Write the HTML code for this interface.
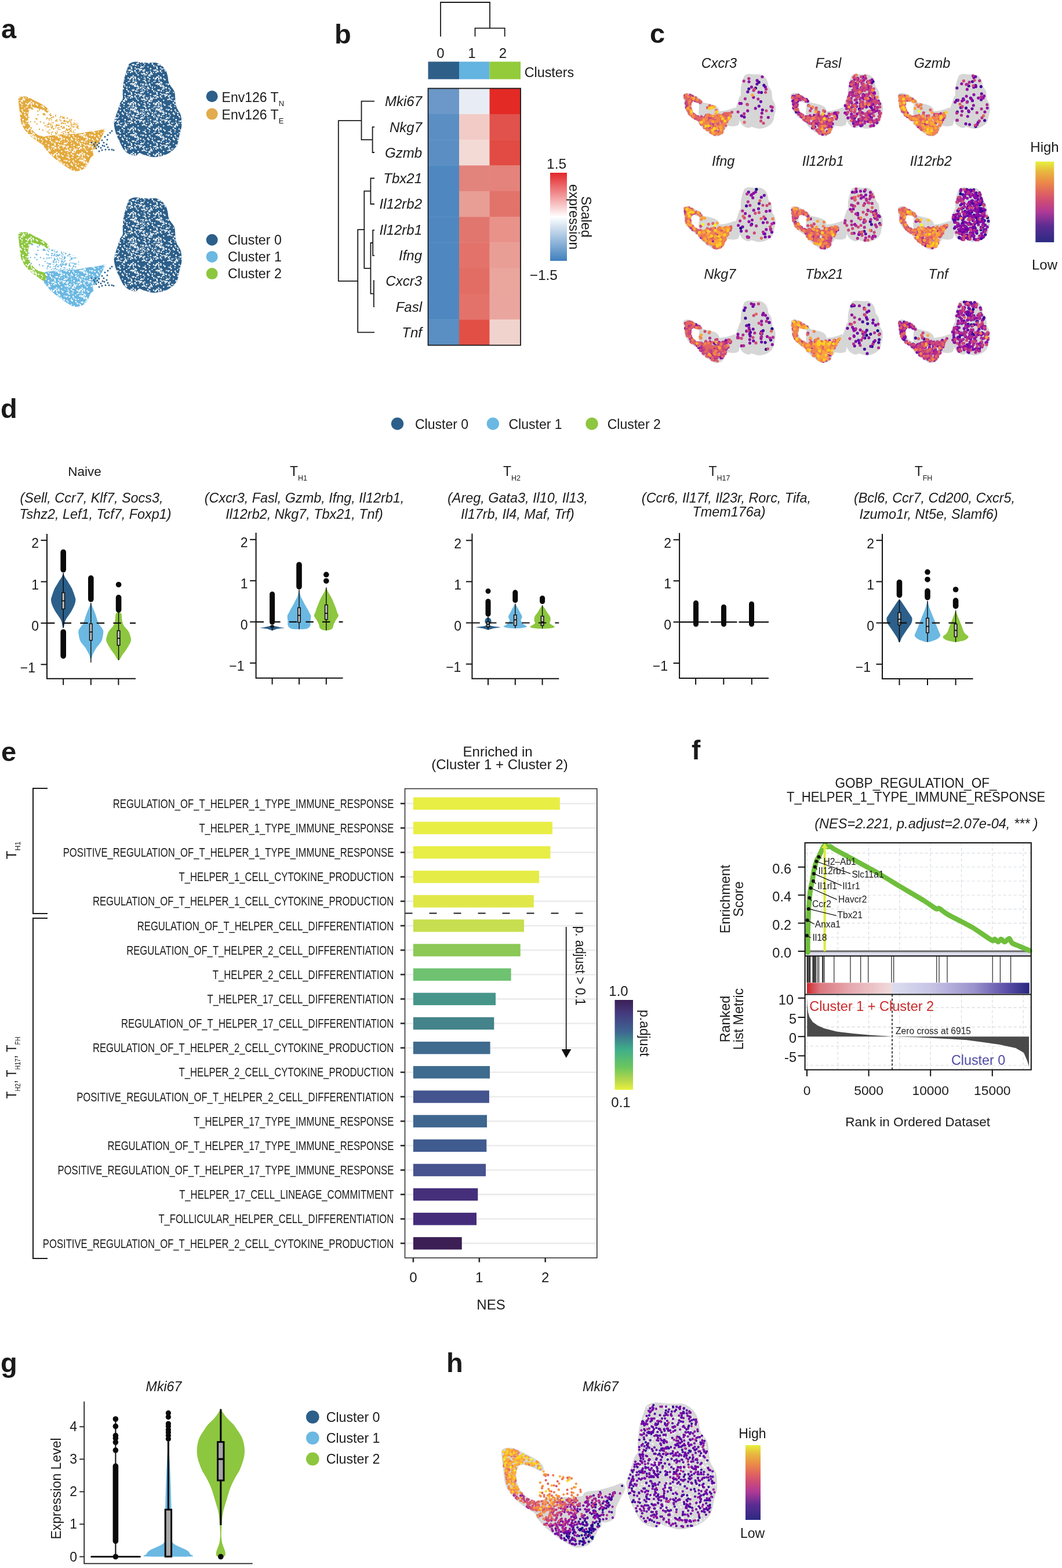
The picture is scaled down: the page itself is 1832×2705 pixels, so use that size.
<!DOCTYPE html>
<html><head><meta charset="utf-8"><title>Figure</title>
<style>html,body{margin:0;padding:0;background:#fff;} svg{display:block;} text{font-family:'Liberation Sans', Arial, sans-serif;}</style>
</head><body>
<svg width="1832" height="2705" viewBox="0 0 1832 2705" fill="#1a1a1a" font-family="'Liberation Sans', Arial, sans-serif">
<rect width="1832" height="2705" fill="#ffffff"/>
<defs><pattern id="spk1" width="44" height="44" patternUnits="userSpaceOnUse"><g fill="#ffffff"><circle cx="10.5" cy="23.9" r="1.04"/><circle cx="26.6" cy="27.5" r="0.84"/><circle cx="0.6" cy="36.8" r="0.97"/><circle cx="10.3" cy="43.8" r="1.11"/><circle cx="36.8" cy="21.0" r="1.22"/><circle cx="6.6" cy="27.9" r="1.36"/><circle cx="23.0" cy="32.6" r="1.24"/><circle cx="2.8" cy="33.4" r="1.18"/><circle cx="13.3" cy="1.4" r="1.36"/><circle cx="20.8" cy="31.6" r="1.37"/><circle cx="31.4" cy="40.5" r="1.06"/><circle cx="35.2" cy="19.6" r="1.41"/><circle cx="38.7" cy="4.3" r="0.89"/><circle cx="9.5" cy="42.5" r="1.08"/><circle cx="27.6" cy="13.2" r="1.13"/><circle cx="17.0" cy="15.4" r="1.18"/><circle cx="25.7" cy="39.8" r="1.24"/><circle cx="40.9" cy="37.7" r="1.44"/><circle cx="29.5" cy="7.2" r="1.36"/><circle cx="42.4" cy="39.8" r="1.17"/><circle cx="31.4" cy="9.3" r="1.34"/><circle cx="25.2" cy="12.5" r="0.84"/><circle cx="37.6" cy="43.6" r="0.86"/><circle cx="35.2" cy="18.1" r="0.90"/><circle cx="12.9" cy="33.8" r="1.37"/><circle cx="1.9" cy="27.0" r="0.83"/><circle cx="31.6" cy="14.6" r="1.37"/><circle cx="43.1" cy="22.2" r="1.45"/><circle cx="13.6" cy="3.4" r="1.19"/><circle cx="1.4" cy="8.7" r="1.07"/><circle cx="26.9" cy="6.9" r="0.83"/><circle cx="38.2" cy="13.8" r="1.42"/><circle cx="39.5" cy="16.6" r="1.10"/><circle cx="22.9" cy="28.3" r="1.19"/><circle cx="24.6" cy="27.3" r="1.41"/><circle cx="22.3" cy="19.0" r="1.27"/><circle cx="10.5" cy="13.2" r="1.44"/><circle cx="22.9" cy="24.1" r="0.81"/><circle cx="18.3" cy="25.5" r="0.81"/><circle cx="27.1" cy="27.8" r="0.84"/><circle cx="27.6" cy="20.5" r="1.24"/><circle cx="15.5" cy="31.1" r="1.28"/><circle cx="1.0" cy="2.7" r="1.24"/><circle cx="42.4" cy="11.0" r="1.10"/><circle cx="26.1" cy="14.1" r="1.04"/><circle cx="13.8" cy="16.2" r="1.19"/><circle cx="13.2" cy="16.6" r="1.30"/><circle cx="1.2" cy="25.0" r="1.28"/><circle cx="13.6" cy="9.8" r="1.32"/><circle cx="10.5" cy="8.2" r="1.08"/><circle cx="30.7" cy="4.5" r="1.01"/><circle cx="14.7" cy="36.7" r="1.08"/><circle cx="37.6" cy="7.4" r="1.02"/><circle cx="28.6" cy="38.9" r="1.09"/><circle cx="9.9" cy="5.3" r="1.14"/><circle cx="8.4" cy="35.5" r="1.35"/><circle cx="8.1" cy="12.3" r="1.32"/><circle cx="28.2" cy="35.5" r="1.02"/><circle cx="5.7" cy="12.8" r="1.32"/><circle cx="11.9" cy="15.2" r="1.07"/><circle cx="18.5" cy="18.0" r="1.40"/><circle cx="6.9" cy="0.2" r="1.41"/><circle cx="38.7" cy="43.4" r="1.08"/><circle cx="41.8" cy="40.8" r="0.94"/><circle cx="32.8" cy="36.8" r="1.23"/><circle cx="22.8" cy="12.7" r="1.02"/><circle cx="10.0" cy="3.0" r="1.18"/><circle cx="12.6" cy="35.6" r="0.83"/><circle cx="39.8" cy="30.5" r="1.40"/><circle cx="39.4" cy="39.6" r="1.18"/><circle cx="0.6" cy="32.8" r="0.91"/><circle cx="13.2" cy="29.2" r="1.14"/><circle cx="18.2" cy="41.3" r="1.20"/><circle cx="15.0" cy="11.1" r="1.36"/><circle cx="21.0" cy="34.4" r="1.03"/><circle cx="8.7" cy="23.5" r="1.33"/><circle cx="7.5" cy="34.8" r="1.40"/><circle cx="35.5" cy="36.2" r="0.80"/><circle cx="27.7" cy="38.0" r="0.83"/><circle cx="11.9" cy="11.8" r="1.14"/><circle cx="18.6" cy="20.8" r="1.30"/><circle cx="0.1" cy="2.4" r="0.88"/><circle cx="5.5" cy="3.0" r="1.43"/><circle cx="37.6" cy="3.8" r="1.13"/><circle cx="13.9" cy="13.8" r="1.03"/><circle cx="28.5" cy="25.8" r="1.03"/><circle cx="8.4" cy="14.5" r="0.88"/><circle cx="24.4" cy="31.5" r="1.05"/><circle cx="3.5" cy="7.9" r="1.04"/><circle cx="26.6" cy="34.4" r="1.05"/><circle cx="35.3" cy="27.4" r="1.08"/><circle cx="16.4" cy="21.8" r="1.26"/><circle cx="18.5" cy="30.5" r="1.10"/><circle cx="10.8" cy="23.6" r="1.25"/><circle cx="3.1" cy="18.7" r="1.08"/><circle cx="38.7" cy="41.2" r="1.04"/><circle cx="39.5" cy="34.8" r="0.97"/><circle cx="20.4" cy="5.4" r="1.33"/><circle cx="29.1" cy="39.0" r="1.32"/><circle cx="29.4" cy="32.3" r="1.17"/><circle cx="4.5" cy="25.9" r="0.80"/><circle cx="6.3" cy="34.1" r="0.83"/><circle cx="4.0" cy="4.4" r="1.37"/><circle cx="7.9" cy="1.0" r="1.35"/><circle cx="5.3" cy="37.1" r="1.24"/><circle cx="36.8" cy="41.9" r="1.18"/><circle cx="35.1" cy="1.6" r="1.30"/><circle cx="22.5" cy="31.5" r="0.87"/><circle cx="33.0" cy="41.1" r="0.84"/><circle cx="14.3" cy="24.8" r="1.34"/><circle cx="10.7" cy="7.9" r="0.96"/><circle cx="27.1" cy="33.2" r="1.06"/><circle cx="16.2" cy="17.5" r="1.03"/><circle cx="18.4" cy="3.7" r="1.13"/><circle cx="42.8" cy="18.2" r="1.29"/><circle cx="7.1" cy="30.4" r="1.29"/><circle cx="29.6" cy="22.8" r="1.11"/><circle cx="28.3" cy="39.5" r="0.90"/><circle cx="4.2" cy="32.9" r="1.40"/><circle cx="22.8" cy="19.5" r="1.27"/></g></pattern><pattern id="spk2" width="44" height="44" patternUnits="userSpaceOnUse"><g fill="#ffffff"><circle cx="14.2" cy="6.6" r="1.09"/><circle cx="3.2" cy="23.6" r="0.92"/><circle cx="2.6" cy="22.3" r="0.72"/><circle cx="19.1" cy="3.1" r="0.75"/><circle cx="18.7" cy="36.4" r="0.77"/><circle cx="9.8" cy="27.6" r="1.27"/><circle cx="25.4" cy="17.5" r="1.29"/><circle cx="2.0" cy="37.8" r="0.87"/><circle cx="6.3" cy="5.2" r="0.89"/><circle cx="35.9" cy="8.0" r="1.05"/><circle cx="28.1" cy="16.4" r="1.03"/><circle cx="2.8" cy="2.6" r="0.82"/><circle cx="29.9" cy="18.8" r="0.89"/><circle cx="25.8" cy="19.9" r="0.88"/><circle cx="35.0" cy="30.8" r="0.85"/><circle cx="25.3" cy="23.1" r="1.23"/><circle cx="32.1" cy="12.7" r="1.29"/><circle cx="5.2" cy="18.4" r="1.15"/><circle cx="6.7" cy="21.5" r="0.72"/><circle cx="29.4" cy="33.6" r="1.04"/><circle cx="38.5" cy="13.8" r="1.12"/><circle cx="26.2" cy="25.5" r="0.97"/><circle cx="37.0" cy="41.6" r="0.98"/><circle cx="29.2" cy="2.7" r="1.12"/><circle cx="28.5" cy="43.7" r="1.19"/><circle cx="12.5" cy="17.0" r="1.10"/><circle cx="1.0" cy="20.3" r="0.80"/><circle cx="5.2" cy="2.6" r="1.16"/><circle cx="5.7" cy="10.9" r="0.93"/><circle cx="38.3" cy="3.5" r="0.97"/><circle cx="24.2" cy="38.9" r="1.19"/><circle cx="38.0" cy="12.3" r="0.95"/><circle cx="15.8" cy="38.9" r="1.27"/><circle cx="6.6" cy="7.8" r="0.84"/><circle cx="10.3" cy="21.3" r="1.05"/><circle cx="11.6" cy="0.2" r="0.95"/><circle cx="16.2" cy="24.9" r="1.27"/><circle cx="30.4" cy="22.7" r="1.07"/><circle cx="29.8" cy="2.4" r="1.24"/><circle cx="34.3" cy="38.5" r="1.18"/><circle cx="17.3" cy="17.6" r="0.76"/><circle cx="27.9" cy="2.7" r="0.74"/><circle cx="9.2" cy="7.1" r="0.90"/><circle cx="2.3" cy="0.0" r="0.79"/><circle cx="4.5" cy="16.0" r="0.72"/><circle cx="38.5" cy="27.0" r="0.79"/><circle cx="11.1" cy="15.3" r="0.92"/><circle cx="5.4" cy="37.4" r="1.30"/><circle cx="20.5" cy="21.3" r="0.75"/><circle cx="4.5" cy="15.1" r="0.86"/><circle cx="36.5" cy="7.1" r="0.71"/><circle cx="41.8" cy="23.2" r="0.79"/><circle cx="23.9" cy="1.2" r="1.02"/><circle cx="43.1" cy="38.0" r="1.12"/><circle cx="11.5" cy="16.1" r="0.80"/><circle cx="34.0" cy="23.4" r="1.17"/><circle cx="14.5" cy="9.8" r="1.19"/><circle cx="43.3" cy="37.5" r="1.18"/><circle cx="36.0" cy="32.6" r="0.84"/><circle cx="22.8" cy="15.6" r="0.72"/><circle cx="1.2" cy="12.3" r="0.86"/><circle cx="30.5" cy="42.1" r="0.97"/><circle cx="41.2" cy="43.5" r="1.27"/><circle cx="16.0" cy="9.7" r="0.84"/><circle cx="8.7" cy="9.0" r="1.07"/><circle cx="39.6" cy="37.0" r="0.99"/><circle cx="28.7" cy="35.2" r="0.75"/><circle cx="29.1" cy="40.0" r="1.17"/><circle cx="33.0" cy="21.0" r="0.81"/><circle cx="34.7" cy="14.6" r="1.18"/></g></pattern><pattern id="spo" width="44" height="44" patternUnits="userSpaceOnUse"><g fill="#e3a93c"><circle cx="19.9" cy="24.6" r="1.27"/><circle cx="20.5" cy="22.3" r="1.13"/><circle cx="8.1" cy="22.5" r="1.15"/><circle cx="34.9" cy="4.1" r="1.02"/><circle cx="4.0" cy="35.6" r="1.18"/><circle cx="1.8" cy="43.2" r="1.29"/><circle cx="28.8" cy="27.1" r="0.96"/><circle cx="0.7" cy="23.2" r="0.92"/><circle cx="8.4" cy="10.6" r="0.91"/><circle cx="20.4" cy="19.4" r="1.24"/><circle cx="22.8" cy="28.2" r="1.10"/><circle cx="29.1" cy="20.1" r="1.01"/><circle cx="43.9" cy="43.8" r="1.24"/><circle cx="31.1" cy="13.9" r="0.99"/><circle cx="12.7" cy="3.1" r="1.21"/><circle cx="17.6" cy="37.2" r="1.05"/><circle cx="42.2" cy="37.3" r="0.90"/><circle cx="9.2" cy="40.1" r="1.09"/><circle cx="43.1" cy="17.5" r="0.93"/><circle cx="27.7" cy="34.3" r="1.01"/><circle cx="3.8" cy="14.6" r="1.29"/><circle cx="33.4" cy="5.2" r="1.00"/><circle cx="4.4" cy="2.6" r="1.22"/><circle cx="7.8" cy="24.6" r="1.08"/><circle cx="8.4" cy="32.2" r="0.95"/><circle cx="28.3" cy="5.1" r="1.07"/><circle cx="9.4" cy="11.9" r="1.29"/><circle cx="35.4" cy="13.4" r="1.25"/><circle cx="9.3" cy="17.3" r="1.24"/><circle cx="28.2" cy="4.4" r="1.30"/><circle cx="9.4" cy="11.4" r="1.21"/><circle cx="14.5" cy="13.0" r="0.93"/><circle cx="4.0" cy="25.6" r="1.00"/><circle cx="26.5" cy="16.4" r="1.08"/><circle cx="42.2" cy="21.3" r="1.13"/><circle cx="38.1" cy="8.0" r="0.96"/><circle cx="40.0" cy="36.0" r="1.00"/><circle cx="8.4" cy="32.5" r="1.28"/><circle cx="8.6" cy="41.8" r="1.25"/><circle cx="26.6" cy="18.5" r="0.94"/><circle cx="1.7" cy="42.4" r="1.00"/><circle cx="31.0" cy="11.3" r="1.23"/><circle cx="26.2" cy="12.9" r="0.97"/><circle cx="31.7" cy="3.0" r="0.99"/><circle cx="24.6" cy="37.5" r="1.15"/><circle cx="12.3" cy="40.4" r="0.98"/><circle cx="0.7" cy="11.8" r="1.08"/><circle cx="2.7" cy="7.8" r="1.05"/><circle cx="25.2" cy="5.8" r="1.04"/><circle cx="39.2" cy="43.1" r="1.16"/><circle cx="30.4" cy="25.7" r="0.96"/><circle cx="1.5" cy="0.8" r="1.26"/><circle cx="30.8" cy="42.4" r="0.91"/><circle cx="28.0" cy="21.2" r="1.19"/><circle cx="14.0" cy="44.0" r="0.93"/><circle cx="24.0" cy="32.4" r="1.26"/><circle cx="32.4" cy="31.0" r="1.22"/><circle cx="40.3" cy="15.5" r="1.17"/><circle cx="39.6" cy="38.3" r="1.07"/><circle cx="34.8" cy="38.0" r="1.13"/><circle cx="27.5" cy="16.8" r="1.13"/><circle cx="26.8" cy="3.5" r="1.16"/><circle cx="43.7" cy="38.7" r="1.19"/><circle cx="17.1" cy="32.3" r="1.13"/><circle cx="19.4" cy="36.9" r="0.93"/><circle cx="33.0" cy="1.3" r="1.14"/><circle cx="21.2" cy="10.1" r="1.18"/><circle cx="21.9" cy="27.0" r="1.27"/><circle cx="11.3" cy="0.5" r="1.02"/><circle cx="29.8" cy="8.9" r="0.97"/><circle cx="39.9" cy="29.0" r="1.08"/><circle cx="39.2" cy="14.4" r="1.17"/><circle cx="8.7" cy="19.0" r="1.22"/><circle cx="40.2" cy="38.7" r="1.05"/><circle cx="25.7" cy="13.9" r="0.95"/><circle cx="21.8" cy="36.8" r="1.24"/><circle cx="31.3" cy="41.8" r="1.01"/><circle cx="7.4" cy="19.8" r="1.01"/><circle cx="9.4" cy="18.2" r="1.15"/><circle cx="21.7" cy="13.9" r="1.24"/><circle cx="43.2" cy="19.9" r="0.93"/><circle cx="1.4" cy="38.4" r="0.92"/><circle cx="31.2" cy="25.1" r="1.02"/><circle cx="34.8" cy="0.8" r="0.95"/><circle cx="20.0" cy="1.1" r="1.23"/><circle cx="10.4" cy="6.2" r="0.92"/><circle cx="27.7" cy="19.6" r="1.15"/><circle cx="28.8" cy="35.5" r="1.28"/><circle cx="30.1" cy="8.8" r="1.09"/><circle cx="7.9" cy="0.5" r="1.09"/><circle cx="31.4" cy="7.9" r="1.01"/><circle cx="15.2" cy="30.7" r="1.11"/><circle cx="27.0" cy="33.3" r="1.06"/><circle cx="34.8" cy="39.9" r="0.93"/><circle cx="41.0" cy="31.8" r="0.95"/><circle cx="20.0" cy="27.5" r="1.26"/><circle cx="16.6" cy="25.0" r="1.25"/><circle cx="35.1" cy="41.5" r="1.09"/><circle cx="28.7" cy="9.0" r="1.19"/><circle cx="36.0" cy="28.2" r="1.19"/><circle cx="9.4" cy="39.6" r="1.29"/><circle cx="43.0" cy="23.6" r="1.22"/><circle cx="14.1" cy="40.0" r="1.24"/><circle cx="15.3" cy="3.6" r="1.08"/><circle cx="24.2" cy="33.8" r="1.09"/><circle cx="1.3" cy="35.6" r="0.93"/><circle cx="35.2" cy="7.6" r="1.03"/><circle cx="34.7" cy="6.2" r="0.96"/><circle cx="22.7" cy="31.8" r="1.24"/><circle cx="30.3" cy="41.6" r="1.10"/><circle cx="41.8" cy="3.8" r="0.99"/><circle cx="23.2" cy="12.8" r="1.19"/><circle cx="28.1" cy="23.0" r="1.24"/><circle cx="24.6" cy="13.7" r="1.05"/><circle cx="37.2" cy="39.6" r="0.98"/><circle cx="37.4" cy="42.6" r="1.11"/><circle cx="25.2" cy="8.8" r="1.11"/><circle cx="22.1" cy="26.6" r="0.91"/><circle cx="42.7" cy="22.7" r="1.06"/><circle cx="35.2" cy="24.8" r="1.10"/><circle cx="30.4" cy="2.9" r="1.12"/><circle cx="18.2" cy="42.1" r="1.27"/><circle cx="11.8" cy="20.8" r="0.95"/><circle cx="19.1" cy="35.9" r="1.26"/><circle cx="21.0" cy="14.0" r="0.98"/><circle cx="27.2" cy="40.7" r="0.95"/><circle cx="34.3" cy="1.0" r="0.98"/><circle cx="10.0" cy="30.2" r="1.03"/><circle cx="15.6" cy="27.3" r="0.94"/><circle cx="32.2" cy="5.4" r="1.10"/><circle cx="11.0" cy="8.7" r="1.11"/><circle cx="19.2" cy="16.5" r="1.07"/><circle cx="23.3" cy="7.0" r="0.98"/><circle cx="27.8" cy="28.1" r="1.11"/><circle cx="37.5" cy="26.9" r="1.24"/><circle cx="10.2" cy="32.6" r="1.22"/><circle cx="39.7" cy="13.9" r="1.03"/><circle cx="40.6" cy="9.6" r="1.30"/><circle cx="39.1" cy="5.9" r="1.00"/><circle cx="32.0" cy="11.4" r="0.94"/><circle cx="36.6" cy="18.6" r="1.22"/><circle cx="5.5" cy="17.7" r="1.17"/><circle cx="0.8" cy="8.8" r="1.17"/><circle cx="40.1" cy="42.6" r="0.95"/><circle cx="22.2" cy="33.4" r="1.10"/><circle cx="30.2" cy="8.3" r="0.93"/><circle cx="4.7" cy="1.6" r="1.12"/><circle cx="22.7" cy="25.0" r="0.96"/><circle cx="8.1" cy="9.0" r="1.24"/><circle cx="43.6" cy="40.8" r="0.94"/><circle cx="2.7" cy="41.9" r="1.08"/><circle cx="33.6" cy="14.4" r="1.09"/><circle cx="22.7" cy="18.9" r="1.14"/><circle cx="0.6" cy="30.8" r="1.24"/><circle cx="8.0" cy="20.0" r="1.20"/><circle cx="17.8" cy="8.6" r="0.97"/><circle cx="22.6" cy="0.7" r="1.26"/><circle cx="35.3" cy="31.0" r="1.24"/><circle cx="27.7" cy="17.8" r="1.14"/><circle cx="22.2" cy="43.2" r="1.22"/><circle cx="11.4" cy="40.1" r="1.20"/><circle cx="34.2" cy="35.8" r="1.06"/><circle cx="39.4" cy="38.7" r="1.18"/><circle cx="33.8" cy="33.7" r="1.06"/><circle cx="31.8" cy="3.1" r="1.04"/><circle cx="20.6" cy="0.5" r="1.04"/><circle cx="28.1" cy="27.5" r="0.99"/><circle cx="41.6" cy="29.3" r="1.04"/><circle cx="29.0" cy="25.1" r="1.11"/><circle cx="17.1" cy="44.0" r="1.16"/><circle cx="30.9" cy="33.5" r="1.29"/><circle cx="1.0" cy="27.1" r="1.20"/><circle cx="11.3" cy="17.7" r="0.92"/><circle cx="8.6" cy="16.5" r="0.94"/><circle cx="11.0" cy="39.8" r="1.12"/><circle cx="22.3" cy="42.6" r="1.13"/><circle cx="43.8" cy="28.1" r="1.22"/><circle cx="3.4" cy="26.3" r="1.20"/><circle cx="2.0" cy="40.9" r="0.96"/><circle cx="20.8" cy="7.4" r="1.10"/><circle cx="26.9" cy="2.6" r="1.28"/><circle cx="18.5" cy="23.2" r="1.14"/><circle cx="16.1" cy="12.6" r="1.16"/><circle cx="24.7" cy="12.5" r="1.19"/><circle cx="13.0" cy="0.6" r="1.00"/></g></pattern><pattern id="spb" width="44" height="44" patternUnits="userSpaceOnUse"><g fill="#6bb8e2"><circle cx="11.4" cy="30.2" r="1.17"/><circle cx="37.4" cy="8.2" r="0.99"/><circle cx="6.5" cy="9.9" r="1.19"/><circle cx="5.7" cy="23.4" r="0.99"/><circle cx="13.0" cy="19.0" r="1.24"/><circle cx="26.8" cy="0.6" r="1.01"/><circle cx="6.5" cy="38.3" r="1.22"/><circle cx="35.5" cy="36.4" r="1.20"/><circle cx="41.8" cy="34.9" r="1.00"/><circle cx="37.4" cy="21.4" r="1.20"/><circle cx="24.8" cy="18.9" r="1.05"/><circle cx="18.9" cy="13.8" r="0.95"/><circle cx="36.1" cy="35.1" r="1.29"/><circle cx="30.4" cy="24.4" r="1.20"/><circle cx="5.9" cy="29.8" r="1.08"/><circle cx="7.8" cy="8.9" r="1.11"/><circle cx="11.1" cy="20.2" r="1.14"/><circle cx="17.4" cy="5.8" r="1.10"/><circle cx="10.4" cy="10.4" r="0.98"/><circle cx="16.1" cy="3.2" r="1.16"/><circle cx="42.0" cy="17.1" r="1.19"/><circle cx="41.1" cy="1.9" r="0.96"/><circle cx="35.5" cy="36.9" r="1.16"/><circle cx="7.0" cy="18.2" r="1.25"/><circle cx="39.0" cy="35.3" r="0.98"/><circle cx="37.6" cy="16.5" r="1.19"/><circle cx="6.0" cy="42.7" r="1.14"/><circle cx="31.8" cy="9.3" r="1.15"/><circle cx="25.6" cy="26.0" r="1.04"/><circle cx="32.0" cy="15.0" r="1.02"/><circle cx="7.2" cy="30.1" r="0.94"/><circle cx="9.9" cy="3.0" r="1.16"/><circle cx="24.5" cy="23.9" r="0.92"/><circle cx="19.3" cy="15.1" r="0.94"/><circle cx="0.1" cy="43.9" r="0.95"/><circle cx="13.3" cy="11.8" r="1.14"/><circle cx="3.4" cy="20.7" r="1.05"/><circle cx="36.7" cy="0.3" r="1.03"/><circle cx="21.8" cy="42.7" r="1.11"/><circle cx="20.9" cy="29.5" r="1.02"/><circle cx="1.4" cy="22.1" r="1.26"/><circle cx="32.5" cy="11.4" r="1.17"/><circle cx="37.4" cy="11.4" r="1.14"/><circle cx="15.6" cy="10.7" r="1.01"/><circle cx="9.0" cy="15.4" r="0.92"/><circle cx="17.5" cy="3.8" r="1.20"/><circle cx="26.4" cy="0.2" r="1.21"/><circle cx="8.4" cy="21.2" r="1.12"/><circle cx="14.6" cy="12.7" r="1.07"/><circle cx="6.0" cy="38.0" r="0.94"/><circle cx="36.2" cy="9.6" r="1.02"/><circle cx="17.1" cy="1.5" r="0.95"/><circle cx="15.9" cy="19.4" r="1.25"/><circle cx="43.6" cy="1.9" r="1.11"/><circle cx="5.7" cy="35.4" r="1.03"/><circle cx="39.3" cy="24.0" r="0.95"/><circle cx="0.2" cy="10.9" r="1.25"/><circle cx="6.6" cy="21.1" r="1.05"/><circle cx="15.2" cy="35.3" r="0.99"/><circle cx="31.6" cy="29.3" r="1.27"/><circle cx="22.9" cy="40.5" r="1.08"/><circle cx="25.2" cy="27.3" r="1.24"/><circle cx="39.5" cy="5.1" r="0.95"/><circle cx="23.5" cy="35.7" r="1.11"/><circle cx="13.2" cy="42.3" r="1.02"/><circle cx="3.8" cy="2.3" r="0.91"/><circle cx="32.0" cy="4.7" r="1.19"/><circle cx="38.1" cy="44.0" r="1.22"/><circle cx="18.7" cy="27.4" r="1.23"/><circle cx="31.5" cy="12.8" r="1.20"/><circle cx="4.8" cy="13.6" r="1.30"/><circle cx="20.7" cy="11.8" r="1.21"/><circle cx="19.8" cy="0.2" r="0.91"/><circle cx="11.4" cy="14.6" r="1.27"/><circle cx="10.9" cy="37.4" r="1.24"/><circle cx="18.3" cy="43.7" r="1.20"/><circle cx="21.3" cy="11.5" r="1.08"/><circle cx="39.7" cy="23.6" r="0.98"/><circle cx="16.5" cy="20.9" r="0.98"/><circle cx="25.2" cy="1.5" r="1.23"/><circle cx="7.9" cy="4.5" r="1.14"/><circle cx="13.5" cy="38.9" r="1.10"/><circle cx="22.9" cy="36.7" r="0.99"/><circle cx="32.8" cy="28.6" r="1.07"/><circle cx="42.2" cy="1.0" r="1.24"/><circle cx="6.3" cy="36.9" r="0.96"/><circle cx="2.4" cy="22.0" r="1.27"/><circle cx="11.3" cy="21.4" r="1.14"/><circle cx="10.7" cy="23.3" r="0.90"/><circle cx="19.8" cy="33.4" r="1.04"/><circle cx="9.7" cy="2.2" r="1.18"/><circle cx="18.8" cy="40.2" r="1.20"/><circle cx="4.4" cy="40.2" r="1.27"/><circle cx="35.9" cy="36.6" r="1.17"/><circle cx="31.7" cy="29.4" r="1.14"/><circle cx="11.3" cy="5.9" r="1.19"/><circle cx="26.2" cy="2.5" r="1.16"/><circle cx="26.8" cy="22.5" r="1.21"/><circle cx="38.6" cy="16.8" r="1.23"/><circle cx="22.0" cy="25.2" r="1.07"/><circle cx="41.1" cy="19.6" r="1.28"/><circle cx="14.9" cy="29.6" r="1.27"/><circle cx="30.1" cy="16.5" r="0.93"/><circle cx="21.0" cy="18.2" r="1.23"/><circle cx="34.5" cy="43.4" r="1.08"/><circle cx="18.1" cy="24.8" r="1.20"/><circle cx="3.5" cy="9.5" r="0.96"/><circle cx="14.3" cy="13.2" r="1.29"/><circle cx="9.1" cy="41.1" r="1.02"/><circle cx="9.0" cy="42.9" r="0.94"/><circle cx="5.0" cy="5.7" r="0.93"/><circle cx="17.0" cy="9.3" r="0.96"/><circle cx="0.7" cy="30.7" r="0.92"/><circle cx="10.2" cy="24.9" r="1.25"/><circle cx="29.0" cy="31.2" r="1.18"/><circle cx="35.1" cy="37.5" r="0.96"/><circle cx="2.4" cy="27.3" r="1.11"/><circle cx="22.9" cy="34.4" r="0.97"/><circle cx="31.1" cy="18.8" r="1.07"/><circle cx="10.8" cy="12.4" r="1.13"/><circle cx="24.4" cy="39.9" r="1.01"/><circle cx="31.5" cy="4.3" r="1.16"/><circle cx="7.1" cy="37.7" r="1.29"/><circle cx="11.2" cy="35.6" r="0.99"/><circle cx="13.4" cy="4.5" r="1.08"/><circle cx="4.6" cy="31.0" r="1.13"/><circle cx="18.5" cy="31.2" r="0.99"/><circle cx="14.6" cy="16.0" r="0.90"/><circle cx="39.0" cy="3.9" r="0.94"/><circle cx="35.1" cy="36.0" r="1.08"/><circle cx="18.5" cy="6.1" r="0.90"/><circle cx="22.9" cy="10.7" r="0.96"/><circle cx="39.8" cy="0.8" r="1.04"/><circle cx="33.1" cy="32.9" r="0.94"/><circle cx="32.7" cy="24.8" r="1.15"/><circle cx="41.5" cy="35.1" r="1.14"/><circle cx="33.9" cy="21.6" r="1.12"/><circle cx="36.0" cy="27.3" r="1.05"/><circle cx="0.9" cy="34.7" r="1.04"/><circle cx="18.9" cy="12.7" r="1.12"/><circle cx="17.6" cy="36.7" r="1.14"/><circle cx="24.6" cy="34.5" r="1.08"/><circle cx="23.6" cy="33.0" r="1.19"/><circle cx="32.7" cy="39.2" r="1.12"/><circle cx="24.4" cy="8.3" r="1.00"/><circle cx="19.1" cy="21.9" r="1.26"/><circle cx="1.9" cy="15.4" r="1.20"/><circle cx="20.2" cy="37.3" r="0.96"/><circle cx="33.9" cy="19.0" r="1.13"/><circle cx="2.5" cy="17.7" r="1.22"/><circle cx="32.3" cy="24.8" r="1.07"/><circle cx="1.7" cy="30.8" r="1.08"/><circle cx="31.9" cy="26.9" r="1.06"/><circle cx="38.5" cy="5.8" r="1.28"/><circle cx="3.8" cy="42.6" r="1.13"/><circle cx="19.7" cy="41.2" r="1.10"/><circle cx="22.4" cy="2.6" r="1.22"/><circle cx="28.1" cy="10.5" r="0.95"/><circle cx="18.5" cy="41.1" r="1.25"/><circle cx="20.5" cy="1.6" r="1.23"/><circle cx="8.9" cy="32.2" r="1.10"/><circle cx="42.4" cy="6.5" r="1.22"/><circle cx="31.7" cy="0.8" r="1.13"/><circle cx="13.0" cy="30.6" r="1.28"/><circle cx="29.3" cy="21.7" r="1.14"/><circle cx="10.9" cy="20.6" r="0.95"/><circle cx="31.7" cy="2.9" r="1.11"/><circle cx="7.9" cy="24.8" r="0.92"/><circle cx="1.2" cy="27.5" r="1.19"/><circle cx="39.1" cy="29.8" r="1.30"/><circle cx="6.3" cy="27.7" r="1.15"/><circle cx="7.7" cy="6.2" r="1.00"/><circle cx="23.0" cy="34.6" r="1.18"/><circle cx="25.2" cy="3.4" r="1.19"/><circle cx="22.5" cy="7.5" r="1.15"/><circle cx="10.8" cy="13.6" r="1.08"/><circle cx="33.1" cy="4.7" r="1.08"/><circle cx="10.3" cy="29.5" r="1.23"/><circle cx="11.6" cy="31.7" r="1.09"/><circle cx="9.6" cy="12.1" r="1.12"/><circle cx="35.5" cy="26.5" r="0.90"/><circle cx="34.4" cy="25.5" r="1.07"/><circle cx="10.6" cy="19.4" r="1.18"/><circle cx="11.9" cy="6.1" r="1.25"/><circle cx="19.5" cy="3.1" r="1.26"/></g></pattern></defs>
<text x="2.0" y="65.5" font-size="47" font-weight="bold">a</text>
<g transform="translate(0,0)">
<path d="M223.2,110.1 C225.3,108.6 229.0,107.0 233.0,106.6 C237.0,106.2 242.7,107.6 247.3,107.9 C251.9,108.2 256.9,108.2 260.6,108.3 C264.3,108.4 266.5,107.5 269.5,108.3 C272.5,109.0 275.7,110.7 278.4,112.8 C281.1,114.9 283.7,117.8 285.5,120.8 C287.3,123.8 288.1,126.8 289.1,130.6 C290.1,134.4 289.8,139.4 291.7,143.9 C293.6,148.4 298.8,152.9 300.6,157.3 C302.4,161.8 301.8,166.2 302.4,170.6 C303.0,175.0 302.7,179.6 304.2,184.0 C305.7,188.4 309.8,193.6 311.3,197.3 C312.8,201.0 312.8,202.5 313.1,206.2 C313.4,209.9 313.7,215.1 313.1,219.5 C312.5,223.9 310.5,228.5 309.5,232.9 C308.5,237.3 308.1,242.5 306.9,246.2 C305.7,249.9 304.9,252.1 302.4,255.1 C299.9,258.1 295.7,261.6 291.7,264.0 C287.7,266.4 282.8,268.1 278.4,269.3 C273.9,270.5 268.7,271.1 265.0,271.1 C261.3,271.1 259.1,270.0 256.2,269.3 C253.2,268.6 250.0,267.6 247.3,266.7 C244.6,265.8 242.2,263.7 240.1,264.0 C238.0,264.3 237.3,267.9 234.8,268.4 C232.3,268.8 228.4,268.2 225.0,266.7 C221.6,265.2 217.4,262.9 214.4,259.5 C211.4,256.1 209.1,249.9 207.2,246.2 C205.3,242.5 204.3,241.0 202.8,237.3 C201.3,233.6 199.3,228.4 198.3,224.0 C197.3,219.6 196.4,214.3 196.6,210.6 C196.8,206.9 198.0,205.4 199.2,201.7 C200.4,198.0 202.4,192.4 203.7,188.4 C205.0,184.4 205.9,180.7 207.2,177.7 C208.5,174.7 210.9,174.0 211.7,170.6 C212.4,167.2 211.4,162.5 211.7,157.3 C212.0,152.1 212.6,144.7 213.5,139.5 C214.4,134.3 215.8,130.1 217.0,126.1 C218.2,122.1 219.6,118.2 220.6,115.5 C221.6,112.8 221.1,111.6 223.2,110.1Z" fill="#2c5f8a"/>
<path d="M223.2,110.1 C225.3,108.6 229.0,107.0 233.0,106.6 C237.0,106.2 242.7,107.6 247.3,107.9 C251.9,108.2 256.9,108.2 260.6,108.3 C264.3,108.4 266.5,107.5 269.5,108.3 C272.5,109.0 275.7,110.7 278.4,112.8 C281.1,114.9 283.7,117.8 285.5,120.8 C287.3,123.8 288.1,126.8 289.1,130.6 C290.1,134.4 289.8,139.4 291.7,143.9 C293.6,148.4 298.8,152.9 300.6,157.3 C302.4,161.8 301.8,166.2 302.4,170.6 C303.0,175.0 302.7,179.6 304.2,184.0 C305.7,188.4 309.8,193.6 311.3,197.3 C312.8,201.0 312.8,202.5 313.1,206.2 C313.4,209.9 313.7,215.1 313.1,219.5 C312.5,223.9 310.5,228.5 309.5,232.9 C308.5,237.3 308.1,242.5 306.9,246.2 C305.7,249.9 304.9,252.1 302.4,255.1 C299.9,258.1 295.7,261.6 291.7,264.0 C287.7,266.4 282.8,268.1 278.4,269.3 C273.9,270.5 268.7,271.1 265.0,271.1 C261.3,271.1 259.1,270.0 256.2,269.3 C253.2,268.6 250.0,267.6 247.3,266.7 C244.6,265.8 242.2,263.7 240.1,264.0 C238.0,264.3 237.3,267.9 234.8,268.4 C232.3,268.8 228.4,268.2 225.0,266.7 C221.6,265.2 217.4,262.9 214.4,259.5 C211.4,256.1 209.1,249.9 207.2,246.2 C205.3,242.5 204.3,241.0 202.8,237.3 C201.3,233.6 199.3,228.4 198.3,224.0 C197.3,219.6 196.4,214.3 196.6,210.6 C196.8,206.9 198.0,205.4 199.2,201.7 C200.4,198.0 202.4,192.4 203.7,188.4 C205.0,184.4 205.9,180.7 207.2,177.7 C208.5,174.7 210.9,174.0 211.7,170.6 C212.4,167.2 211.4,162.5 211.7,157.3 C212.0,152.1 212.6,144.7 213.5,139.5 C214.4,134.3 215.8,130.1 217.0,126.1 C218.2,122.1 219.6,118.2 220.6,115.5 C221.6,112.8 221.1,111.6 223.2,110.1Z" fill="url(#spk1)"/>
<ellipse cx="250" cy="188" rx="34" ry="22" fill="url(#spk2)" opacity="0.8"/>
<ellipse cx="244" cy="140" rx="16" ry="24" fill="url(#spk2)" opacity="0.7"/>
<path d="M76.5,236.5 C78.6,233.8 84.1,234.8 88.0,234.0 C91.9,233.2 95.2,232.4 100.0,232.0 C104.8,231.6 111.8,231.7 116.5,231.5 C121.2,231.3 124.1,231.2 127.9,230.9 C131.7,230.6 135.6,230.4 139.4,229.8 C143.2,229.2 147.0,228.1 150.8,227.5 C154.6,226.9 158.4,226.9 162.2,226.3 C166.0,225.7 170.3,224.8 173.7,224.0 C177.1,223.2 181.9,221.0 182.8,221.8 C183.8,222.6 181.1,225.2 179.4,228.6 C177.7,232.0 174.8,237.9 172.5,242.3 C170.2,246.7 167.8,251.8 165.7,254.9 C163.6,257.9 160.8,258.5 160.0,260.6 C159.2,262.7 161.7,265.6 161.1,267.5 C160.5,269.4 157.8,270.0 156.5,272.1 C155.2,274.2 154.4,277.4 153.1,280.1 C151.8,282.8 150.8,285.8 148.5,288.1 C146.2,290.4 142.8,292.7 139.4,293.8 C136.0,294.9 131.7,295.8 127.9,295.0 C124.1,294.2 120.7,291.7 116.5,289.2 C112.3,286.7 107.4,283.5 102.8,280.1 C98.2,276.7 93.0,272.4 89.0,268.6 C85.0,264.8 81.1,260.2 78.8,257.2 C76.5,254.1 75.7,253.8 75.3,250.3 C74.9,246.9 74.4,239.2 76.5,236.5Z" fill="#e3a93c"/>
<path d="M31.9,169.0 C32.8,166.8 35.3,166.8 38.0,166.5 C40.7,166.2 44.4,166.4 47.9,167.5 C51.4,168.6 55.5,171.3 59.3,173.2 C63.1,175.1 67.3,177.0 70.7,179.0 C74.1,181.0 77.6,182.8 79.9,185.0 C82.2,187.2 84.2,190.4 84.5,192.0 C84.8,193.6 83.3,194.6 82.0,194.5 C80.7,194.4 79.3,192.8 76.5,191.5 C73.7,190.2 68.2,187.9 65.0,187.0 C61.8,186.1 59.4,185.5 57.0,186.0 C54.6,186.5 51.9,187.7 50.5,190.0 C49.1,192.3 48.7,196.4 48.5,200.0 C48.3,203.6 48.4,207.6 49.5,211.5 C50.6,215.4 52.4,220.0 55.0,223.5 C57.6,227.0 61.4,230.3 65.0,232.5 C68.6,234.7 74.0,234.6 76.5,236.5 C79.0,238.4 80.2,241.7 80.0,244.0 C79.8,246.3 78.2,250.6 75.3,250.3 C72.4,250.0 66.7,245.2 62.7,242.3 C58.7,239.5 54.7,236.4 51.3,233.2 C47.9,230.0 44.7,226.5 42.2,222.9 C39.7,219.3 37.8,216.3 36.4,211.5 C35.0,206.7 34.8,199.6 34.1,194.3 C33.4,189.1 32.8,184.2 32.4,180.0 C32.0,175.8 31.0,171.2 31.9,169.0Z" fill="#e3a93c"/>
<path d="M31.9,169.0 C32.8,166.8 35.3,166.8 38.0,166.5 C40.7,166.2 44.4,166.4 47.9,167.5 C51.4,168.6 55.5,171.3 59.3,173.2 C63.1,175.1 67.3,177.0 70.7,179.0 C74.1,181.0 77.6,182.8 79.9,185.0 C82.2,187.2 84.2,190.4 84.5,192.0 C84.8,193.6 83.3,194.6 82.0,194.5 C80.7,194.4 79.3,192.8 76.5,191.5 C73.7,190.2 68.2,187.9 65.0,187.0 C61.8,186.1 59.4,185.5 57.0,186.0 C54.6,186.5 51.9,187.7 50.5,190.0 C49.1,192.3 48.7,196.4 48.5,200.0 C48.3,203.6 48.4,207.6 49.5,211.5 C50.6,215.4 52.4,220.0 55.0,223.5 C57.6,227.0 61.4,230.3 65.0,232.5 C68.6,234.7 72.7,236.2 76.5,236.5 C80.3,236.8 84.1,234.8 88.0,234.0 C91.9,233.2 95.2,232.4 100.0,232.0 C104.8,231.6 111.8,231.7 116.5,231.5 C121.2,231.3 124.1,231.2 127.9,230.9 C131.7,230.6 135.6,230.4 139.4,229.8 C143.2,229.2 147.0,228.1 150.8,227.5 C154.6,226.9 158.4,226.9 162.2,226.3 C166.0,225.7 170.3,224.8 173.7,224.0 C177.1,223.2 181.9,221.0 182.8,221.8 C183.8,222.6 181.1,225.2 179.4,228.6 C177.7,232.0 174.8,237.9 172.5,242.3 C170.2,246.7 167.8,251.8 165.7,254.9 C163.6,257.9 160.8,258.5 160.0,260.6 C159.2,262.7 161.7,265.6 161.1,267.5 C160.5,269.4 157.8,270.0 156.5,272.1 C155.2,274.2 154.4,277.4 153.1,280.1 C151.8,282.8 150.8,285.8 148.5,288.1 C146.2,290.4 142.8,292.7 139.4,293.8 C136.0,294.9 131.7,295.8 127.9,295.0 C124.1,294.2 120.7,291.7 116.5,289.2 C112.3,286.7 107.4,283.5 102.8,280.1 C98.2,276.7 93.0,272.4 89.0,268.6 C85.0,264.8 81.1,260.2 78.8,257.2 C76.5,254.1 78.0,252.8 75.3,250.3 C72.6,247.8 66.7,245.2 62.7,242.3 C58.7,239.5 54.7,236.4 51.3,233.2 C47.9,230.0 44.7,226.5 42.2,222.9 C39.7,219.3 37.8,216.3 36.4,211.5 C35.0,206.7 34.8,199.6 34.1,194.3 C33.4,189.1 32.8,184.2 32.4,180.0 C32.0,175.8 31.0,171.2 31.9,169.0Z" fill="url(#spk1)"/>
<ellipse cx="130" cy="258" rx="22" ry="18" fill="url(#spk2)" opacity="0.6"/>
<path d="M83.0,195.0 C85.3,194.2 91.2,196.7 95.0,197.5 C98.8,198.3 102.2,199.1 106.0,200.0 C109.8,200.9 114.3,201.8 118.0,203.0 C121.7,204.2 125.2,205.2 128.0,207.0 C130.8,208.8 133.7,211.2 135.0,214.0 C136.3,216.8 137.2,221.3 136.0,224.0 C134.8,226.7 131.3,228.8 128.0,230.0 C124.7,231.2 120.7,230.8 116.0,231.0 C111.3,231.2 104.7,231.1 100.0,231.5 C95.3,231.9 91.3,233.9 88.0,233.5 C84.7,233.1 81.3,232.2 80.0,229.0 C78.7,225.8 79.8,218.5 80.0,214.0 C80.2,209.5 80.5,205.2 81.0,202.0 C81.5,198.8 80.7,195.8 83.0,195.0Z" fill="url(#spo)"/>
<circle cx="158.0" cy="246.0" r="1.5" fill="#2c5f8a"/>
<circle cx="162.0" cy="249.0" r="1.5" fill="#2c5f8a"/>
<circle cx="165.0" cy="246.0" r="1.5" fill="#2c5f8a"/>
<circle cx="168.0" cy="250.0" r="1.5" fill="#2c5f8a"/>
<circle cx="171.0" cy="247.0" r="1.5" fill="#2c5f8a"/>
<circle cx="170.0" cy="253.0" r="1.5" fill="#2c5f8a"/>
<circle cx="166.0" cy="256.0" r="1.5" fill="#2c5f8a"/>
<circle cx="174.0" cy="255.0" r="1.5" fill="#2c5f8a"/>
<circle cx="177.0" cy="251.0" r="1.5" fill="#2c5f8a"/>
<circle cx="180.0" cy="252.0" r="1.5" fill="#2c5f8a"/>
<circle cx="184.0" cy="249.0" r="1.5" fill="#2c5f8a"/>
<circle cx="186.0" cy="254.0" r="1.5" fill="#2c5f8a"/>
<circle cx="182.0" cy="258.0" r="1.5" fill="#2c5f8a"/>
<circle cx="188.0" cy="258.0" r="1.5" fill="#2c5f8a"/>
<circle cx="176.0" cy="259.0" r="1.5" fill="#2c5f8a"/>
<circle cx="171.0" cy="261.0" r="1.5" fill="#2c5f8a"/>
<circle cx="179.0" cy="246.0" r="1.5" fill="#2c5f8a"/>
<circle cx="193.0" cy="258.0" r="1.5" fill="#2c5f8a"/>
<circle cx="196.0" cy="259.0" r="1.5" fill="#2c5f8a"/>
<circle cx="163.0" cy="252.0" r="1.5" fill="#2c5f8a"/>
<circle cx="181.0" cy="236.0" r="1.5" fill="#2c5f8a"/>
<circle cx="186.0" cy="233.0" r="1.5" fill="#2c5f8a"/>
<circle cx="190.0" cy="229.0" r="1.5" fill="#2c5f8a"/>
<circle cx="193.0" cy="226.0" r="1.5" fill="#2c5f8a"/>
<circle cx="176.0" cy="242.0" r="1.5" fill="#2c5f8a"/>
<circle cx="185.0" cy="241.0" r="1.5" fill="#2c5f8a"/>
<path d="M54.0 220.8h0M69.8 210.2h0M75.6 211.9h0M65.4 197.9h0M68.1 189.5h0M75.1 197.7h0M56.3 188.1h0M77.8 217.1h0M49.6 202.6h0M65.2 191.8h0M80.4 204.6h0M63.7 213.9h0M60.0 210.5h0M54.8 187.9h0M77.5 197.9h0M74.6 196.5h0M73.8 224.5h0M68.0 222.9h0M52.6 210.1h0M76.2 196.2h0M62.2 204.4h0M63.6 205.5h0" stroke="#e3a93c" stroke-width="2.4" stroke-linecap="round"/>
</g>
<g transform="translate(0,234)">
<path d="M223.2,110.1 C225.3,108.6 229.0,107.0 233.0,106.6 C237.0,106.2 242.7,107.6 247.3,107.9 C251.9,108.2 256.9,108.2 260.6,108.3 C264.3,108.4 266.5,107.5 269.5,108.3 C272.5,109.0 275.7,110.7 278.4,112.8 C281.1,114.9 283.7,117.8 285.5,120.8 C287.3,123.8 288.1,126.8 289.1,130.6 C290.1,134.4 289.8,139.4 291.7,143.9 C293.6,148.4 298.8,152.9 300.6,157.3 C302.4,161.8 301.8,166.2 302.4,170.6 C303.0,175.0 302.7,179.6 304.2,184.0 C305.7,188.4 309.8,193.6 311.3,197.3 C312.8,201.0 312.8,202.5 313.1,206.2 C313.4,209.9 313.7,215.1 313.1,219.5 C312.5,223.9 310.5,228.5 309.5,232.9 C308.5,237.3 308.1,242.5 306.9,246.2 C305.7,249.9 304.9,252.1 302.4,255.1 C299.9,258.1 295.7,261.6 291.7,264.0 C287.7,266.4 282.8,268.1 278.4,269.3 C273.9,270.5 268.7,271.1 265.0,271.1 C261.3,271.1 259.1,270.0 256.2,269.3 C253.2,268.6 250.0,267.6 247.3,266.7 C244.6,265.8 242.2,263.7 240.1,264.0 C238.0,264.3 237.3,267.9 234.8,268.4 C232.3,268.8 228.4,268.2 225.0,266.7 C221.6,265.2 217.4,262.9 214.4,259.5 C211.4,256.1 209.1,249.9 207.2,246.2 C205.3,242.5 204.3,241.0 202.8,237.3 C201.3,233.6 199.3,228.4 198.3,224.0 C197.3,219.6 196.4,214.3 196.6,210.6 C196.8,206.9 198.0,205.4 199.2,201.7 C200.4,198.0 202.4,192.4 203.7,188.4 C205.0,184.4 205.9,180.7 207.2,177.7 C208.5,174.7 210.9,174.0 211.7,170.6 C212.4,167.2 211.4,162.5 211.7,157.3 C212.0,152.1 212.6,144.7 213.5,139.5 C214.4,134.3 215.8,130.1 217.0,126.1 C218.2,122.1 219.6,118.2 220.6,115.5 C221.6,112.8 221.1,111.6 223.2,110.1Z" fill="#2c5f8a"/>
<path d="M223.2,110.1 C225.3,108.6 229.0,107.0 233.0,106.6 C237.0,106.2 242.7,107.6 247.3,107.9 C251.9,108.2 256.9,108.2 260.6,108.3 C264.3,108.4 266.5,107.5 269.5,108.3 C272.5,109.0 275.7,110.7 278.4,112.8 C281.1,114.9 283.7,117.8 285.5,120.8 C287.3,123.8 288.1,126.8 289.1,130.6 C290.1,134.4 289.8,139.4 291.7,143.9 C293.6,148.4 298.8,152.9 300.6,157.3 C302.4,161.8 301.8,166.2 302.4,170.6 C303.0,175.0 302.7,179.6 304.2,184.0 C305.7,188.4 309.8,193.6 311.3,197.3 C312.8,201.0 312.8,202.5 313.1,206.2 C313.4,209.9 313.7,215.1 313.1,219.5 C312.5,223.9 310.5,228.5 309.5,232.9 C308.5,237.3 308.1,242.5 306.9,246.2 C305.7,249.9 304.9,252.1 302.4,255.1 C299.9,258.1 295.7,261.6 291.7,264.0 C287.7,266.4 282.8,268.1 278.4,269.3 C273.9,270.5 268.7,271.1 265.0,271.1 C261.3,271.1 259.1,270.0 256.2,269.3 C253.2,268.6 250.0,267.6 247.3,266.7 C244.6,265.8 242.2,263.7 240.1,264.0 C238.0,264.3 237.3,267.9 234.8,268.4 C232.3,268.8 228.4,268.2 225.0,266.7 C221.6,265.2 217.4,262.9 214.4,259.5 C211.4,256.1 209.1,249.9 207.2,246.2 C205.3,242.5 204.3,241.0 202.8,237.3 C201.3,233.6 199.3,228.4 198.3,224.0 C197.3,219.6 196.4,214.3 196.6,210.6 C196.8,206.9 198.0,205.4 199.2,201.7 C200.4,198.0 202.4,192.4 203.7,188.4 C205.0,184.4 205.9,180.7 207.2,177.7 C208.5,174.7 210.9,174.0 211.7,170.6 C212.4,167.2 211.4,162.5 211.7,157.3 C212.0,152.1 212.6,144.7 213.5,139.5 C214.4,134.3 215.8,130.1 217.0,126.1 C218.2,122.1 219.6,118.2 220.6,115.5 C221.6,112.8 221.1,111.6 223.2,110.1Z" fill="url(#spk1)"/>
<ellipse cx="250" cy="188" rx="34" ry="22" fill="url(#spk2)" opacity="0.8"/>
<ellipse cx="244" cy="140" rx="16" ry="24" fill="url(#spk2)" opacity="0.7"/>
<path d="M76.5,236.5 C78.6,233.8 84.1,234.8 88.0,234.0 C91.9,233.2 95.2,232.4 100.0,232.0 C104.8,231.6 111.8,231.7 116.5,231.5 C121.2,231.3 124.1,231.2 127.9,230.9 C131.7,230.6 135.6,230.4 139.4,229.8 C143.2,229.2 147.0,228.1 150.8,227.5 C154.6,226.9 158.4,226.9 162.2,226.3 C166.0,225.7 170.3,224.8 173.7,224.0 C177.1,223.2 181.9,221.0 182.8,221.8 C183.8,222.6 181.1,225.2 179.4,228.6 C177.7,232.0 174.8,237.9 172.5,242.3 C170.2,246.7 167.8,251.8 165.7,254.9 C163.6,257.9 160.8,258.5 160.0,260.6 C159.2,262.7 161.7,265.6 161.1,267.5 C160.5,269.4 157.8,270.0 156.5,272.1 C155.2,274.2 154.4,277.4 153.1,280.1 C151.8,282.8 150.8,285.8 148.5,288.1 C146.2,290.4 142.8,292.7 139.4,293.8 C136.0,294.9 131.7,295.8 127.9,295.0 C124.1,294.2 120.7,291.7 116.5,289.2 C112.3,286.7 107.4,283.5 102.8,280.1 C98.2,276.7 93.0,272.4 89.0,268.6 C85.0,264.8 81.1,260.2 78.8,257.2 C76.5,254.1 75.7,253.8 75.3,250.3 C74.9,246.9 74.4,239.2 76.5,236.5Z" fill="#6bb8e2"/>
<path d="M31.9,169.0 C32.8,166.8 35.3,166.8 38.0,166.5 C40.7,166.2 44.4,166.4 47.9,167.5 C51.4,168.6 55.5,171.3 59.3,173.2 C63.1,175.1 67.3,177.0 70.7,179.0 C74.1,181.0 77.6,182.8 79.9,185.0 C82.2,187.2 84.2,190.4 84.5,192.0 C84.8,193.6 83.3,194.6 82.0,194.5 C80.7,194.4 79.3,192.8 76.5,191.5 C73.7,190.2 68.2,187.9 65.0,187.0 C61.8,186.1 59.4,185.5 57.0,186.0 C54.6,186.5 51.9,187.7 50.5,190.0 C49.1,192.3 48.7,196.4 48.5,200.0 C48.3,203.6 48.4,207.6 49.5,211.5 C50.6,215.4 52.4,220.0 55.0,223.5 C57.6,227.0 61.4,230.3 65.0,232.5 C68.6,234.7 74.0,234.6 76.5,236.5 C79.0,238.4 80.2,241.7 80.0,244.0 C79.8,246.3 78.2,250.6 75.3,250.3 C72.4,250.0 66.7,245.2 62.7,242.3 C58.7,239.5 54.7,236.4 51.3,233.2 C47.9,230.0 44.7,226.5 42.2,222.9 C39.7,219.3 37.8,216.3 36.4,211.5 C35.0,206.7 34.8,199.6 34.1,194.3 C33.4,189.1 32.8,184.2 32.4,180.0 C32.0,175.8 31.0,171.2 31.9,169.0Z" fill="#8dc63f"/>
<path d="M31.9,169.0 C32.8,166.8 35.3,166.8 38.0,166.5 C40.7,166.2 44.4,166.4 47.9,167.5 C51.4,168.6 55.5,171.3 59.3,173.2 C63.1,175.1 67.3,177.0 70.7,179.0 C74.1,181.0 77.6,182.8 79.9,185.0 C82.2,187.2 84.2,190.4 84.5,192.0 C84.8,193.6 83.3,194.6 82.0,194.5 C80.7,194.4 79.3,192.8 76.5,191.5 C73.7,190.2 68.2,187.9 65.0,187.0 C61.8,186.1 59.4,185.5 57.0,186.0 C54.6,186.5 51.9,187.7 50.5,190.0 C49.1,192.3 48.7,196.4 48.5,200.0 C48.3,203.6 48.4,207.6 49.5,211.5 C50.6,215.4 52.4,220.0 55.0,223.5 C57.6,227.0 61.4,230.3 65.0,232.5 C68.6,234.7 72.7,236.2 76.5,236.5 C80.3,236.8 84.1,234.8 88.0,234.0 C91.9,233.2 95.2,232.4 100.0,232.0 C104.8,231.6 111.8,231.7 116.5,231.5 C121.2,231.3 124.1,231.2 127.9,230.9 C131.7,230.6 135.6,230.4 139.4,229.8 C143.2,229.2 147.0,228.1 150.8,227.5 C154.6,226.9 158.4,226.9 162.2,226.3 C166.0,225.7 170.3,224.8 173.7,224.0 C177.1,223.2 181.9,221.0 182.8,221.8 C183.8,222.6 181.1,225.2 179.4,228.6 C177.7,232.0 174.8,237.9 172.5,242.3 C170.2,246.7 167.8,251.8 165.7,254.9 C163.6,257.9 160.8,258.5 160.0,260.6 C159.2,262.7 161.7,265.6 161.1,267.5 C160.5,269.4 157.8,270.0 156.5,272.1 C155.2,274.2 154.4,277.4 153.1,280.1 C151.8,282.8 150.8,285.8 148.5,288.1 C146.2,290.4 142.8,292.7 139.4,293.8 C136.0,294.9 131.7,295.8 127.9,295.0 C124.1,294.2 120.7,291.7 116.5,289.2 C112.3,286.7 107.4,283.5 102.8,280.1 C98.2,276.7 93.0,272.4 89.0,268.6 C85.0,264.8 81.1,260.2 78.8,257.2 C76.5,254.1 78.0,252.8 75.3,250.3 C72.6,247.8 66.7,245.2 62.7,242.3 C58.7,239.5 54.7,236.4 51.3,233.2 C47.9,230.0 44.7,226.5 42.2,222.9 C39.7,219.3 37.8,216.3 36.4,211.5 C35.0,206.7 34.8,199.6 34.1,194.3 C33.4,189.1 32.8,184.2 32.4,180.0 C32.0,175.8 31.0,171.2 31.9,169.0Z" fill="url(#spk1)"/>
<ellipse cx="130" cy="258" rx="22" ry="18" fill="url(#spk2)" opacity="0.6"/>
<path d="M83.0,195.0 C85.3,194.2 91.2,196.7 95.0,197.5 C98.8,198.3 102.2,199.1 106.0,200.0 C109.8,200.9 114.3,201.8 118.0,203.0 C121.7,204.2 125.2,205.2 128.0,207.0 C130.8,208.8 133.7,211.2 135.0,214.0 C136.3,216.8 137.2,221.3 136.0,224.0 C134.8,226.7 131.3,228.8 128.0,230.0 C124.7,231.2 120.7,230.8 116.0,231.0 C111.3,231.2 104.7,231.1 100.0,231.5 C95.3,231.9 91.3,233.9 88.0,233.5 C84.7,233.1 81.3,232.2 80.0,229.0 C78.7,225.8 79.8,218.5 80.0,214.0 C80.2,209.5 80.5,205.2 81.0,202.0 C81.5,198.8 80.7,195.8 83.0,195.0Z" fill="url(#spb)"/>
<circle cx="158.0" cy="246.0" r="1.5" fill="#2c5f8a"/>
<circle cx="162.0" cy="249.0" r="1.5" fill="#2c5f8a"/>
<circle cx="165.0" cy="246.0" r="1.5" fill="#2c5f8a"/>
<circle cx="168.0" cy="250.0" r="1.5" fill="#2c5f8a"/>
<circle cx="171.0" cy="247.0" r="1.5" fill="#2c5f8a"/>
<circle cx="170.0" cy="253.0" r="1.5" fill="#2c5f8a"/>
<circle cx="166.0" cy="256.0" r="1.5" fill="#2c5f8a"/>
<circle cx="174.0" cy="255.0" r="1.5" fill="#2c5f8a"/>
<circle cx="177.0" cy="251.0" r="1.5" fill="#2c5f8a"/>
<circle cx="180.0" cy="252.0" r="1.5" fill="#2c5f8a"/>
<circle cx="184.0" cy="249.0" r="1.5" fill="#2c5f8a"/>
<circle cx="186.0" cy="254.0" r="1.5" fill="#2c5f8a"/>
<circle cx="182.0" cy="258.0" r="1.5" fill="#2c5f8a"/>
<circle cx="188.0" cy="258.0" r="1.5" fill="#2c5f8a"/>
<circle cx="176.0" cy="259.0" r="1.5" fill="#2c5f8a"/>
<circle cx="171.0" cy="261.0" r="1.5" fill="#2c5f8a"/>
<circle cx="179.0" cy="246.0" r="1.5" fill="#2c5f8a"/>
<circle cx="193.0" cy="258.0" r="1.5" fill="#2c5f8a"/>
<circle cx="196.0" cy="259.0" r="1.5" fill="#2c5f8a"/>
<circle cx="163.0" cy="252.0" r="1.5" fill="#2c5f8a"/>
<circle cx="181.0" cy="236.0" r="1.5" fill="#2c5f8a"/>
<circle cx="186.0" cy="233.0" r="1.5" fill="#2c5f8a"/>
<circle cx="190.0" cy="229.0" r="1.5" fill="#2c5f8a"/>
<circle cx="193.0" cy="226.0" r="1.5" fill="#2c5f8a"/>
<circle cx="176.0" cy="242.0" r="1.5" fill="#2c5f8a"/>
<circle cx="185.0" cy="241.0" r="1.5" fill="#2c5f8a"/>
<path d="M54.0 220.8h0M69.8 210.2h0M75.6 211.9h0M65.4 197.9h0M68.1 189.5h0M75.1 197.7h0M56.3 188.1h0M77.8 217.1h0M49.6 202.6h0M65.2 191.8h0M80.4 204.6h0M63.7 213.9h0M60.0 210.5h0M54.8 187.9h0M77.5 197.9h0M74.6 196.5h0M73.8 224.5h0M68.0 222.9h0M52.6 210.1h0M76.2 196.2h0M62.2 204.4h0M63.6 205.5h0" stroke="#6bb8e2" stroke-width="2.4" stroke-linecap="round"/>
</g>
<circle cx="365.7" cy="166.3" r="10" fill="#2c5f8a"/>
<circle cx="365.7" cy="196.6" r="10" fill="#e2ab4d"/>
<text x="382.6" y="176.0" font-size="23">Env126 T<tspan font-size="13" dy="7">N</tspan></text>
<text x="382.6" y="205.7" font-size="23">Env126 T<tspan font-size="13" dy="7">E</tspan></text>
<circle cx="365.7" cy="413.7" r="10" fill="#2c5f8a"/>
<text x="393.0" y="421.9" font-size="23.2">Cluster 0</text>
<circle cx="365.7" cy="442.9" r="10" fill="#6bb8e2"/>
<text x="393.0" y="451.1" font-size="23.2">Cluster 1</text>
<circle cx="365.7" cy="472.1" r="10" fill="#8dc63f"/>
<text x="393.0" y="480.3" font-size="23.2">Cluster 2</text>
<text x="577.0" y="75.3" font-size="47" font-weight="bold">b</text>
<rect x="738.5" y="106.4" width="53.5" height="30.2" fill="#2e5f88"/>
<rect x="792.0" y="106.4" width="52.5" height="30.2" fill="#63b4e0"/>
<rect x="844.5" y="106.4" width="53.5" height="30.2" fill="#93cb3a"/>
<text x="904.7" y="133.2" font-size="23.3">Clusters</text>
<text x="760.0" y="100.2" font-size="24" text-anchor="middle">0</text>
<text x="814.0" y="100.2" font-size="24" text-anchor="middle">1</text>
<text x="867.5" y="100.2" font-size="24" text-anchor="middle">2</text>
<path d="M760,63 V4 H845 V48.6 M819.5,63 V48.6 H870.7 V63" fill="none" stroke="#1a1a1a" stroke-width="1.8"/>
<rect x="738.5" y="152.5" width="53.9" height="44.7" fill="#6b98c8"/>
<rect x="792.0" y="152.5" width="52.9" height="44.7" fill="#e8edf5"/>
<rect x="844.5" y="152.5" width="53.9" height="44.7" fill="#e32a25"/>
<text x="728.0" y="183.2" font-size="24" text-anchor="end" font-style="italic">Mki67</text>
<rect x="738.5" y="196.8" width="53.9" height="44.7" fill="#5b8fc3"/>
<rect x="792.0" y="196.8" width="52.9" height="44.7" fill="#f2cbc7"/>
<rect x="844.5" y="196.8" width="53.9" height="44.7" fill="#e0524b"/>
<text x="728.0" y="227.5" font-size="24" text-anchor="end" font-style="italic">Nkg7</text>
<rect x="738.5" y="241.1" width="53.9" height="44.7" fill="#5b8fc3"/>
<rect x="792.0" y="241.1" width="52.9" height="44.7" fill="#f3dad5"/>
<rect x="844.5" y="241.1" width="53.9" height="44.7" fill="#e14b43"/>
<text x="728.0" y="271.8" font-size="24" text-anchor="end" font-style="italic">Gzmb</text>
<rect x="738.5" y="285.4" width="53.9" height="44.7" fill="#4f88c0"/>
<rect x="792.0" y="285.4" width="52.9" height="44.7" fill="#e2837c"/>
<rect x="844.5" y="285.4" width="53.9" height="44.7" fill="#e4837b"/>
<text x="728.0" y="316.1" font-size="24" text-anchor="end" font-style="italic">Tbx21</text>
<rect x="738.5" y="329.7" width="53.9" height="44.7" fill="#4f88c0"/>
<rect x="792.0" y="329.7" width="52.9" height="44.7" fill="#e89e95"/>
<rect x="844.5" y="329.7" width="53.9" height="44.7" fill="#e2736b"/>
<text x="728.0" y="360.4" font-size="24" text-anchor="end" font-style="italic">Il12rb2</text>
<rect x="738.5" y="374.1" width="53.9" height="44.7" fill="#4f88c0"/>
<rect x="792.0" y="374.1" width="52.9" height="44.7" fill="#e1766e"/>
<rect x="844.5" y="374.1" width="53.9" height="44.7" fill="#e8928a"/>
<text x="728.0" y="404.7" font-size="24" text-anchor="end" font-style="italic">Il12rb1</text>
<rect x="738.5" y="418.4" width="53.9" height="44.7" fill="#4f88c0"/>
<rect x="792.0" y="418.4" width="52.9" height="44.7" fill="#e3736a"/>
<rect x="844.5" y="418.4" width="53.9" height="44.7" fill="#e99e95"/>
<text x="728.0" y="449.0" font-size="24" text-anchor="end" font-style="italic">Ifng</text>
<rect x="738.5" y="462.7" width="53.9" height="44.7" fill="#4f88c0"/>
<rect x="792.0" y="462.7" width="52.9" height="44.7" fill="#e26d64"/>
<rect x="844.5" y="462.7" width="53.9" height="44.7" fill="#eaa69d"/>
<text x="728.0" y="493.3" font-size="24" text-anchor="end" font-style="italic">Cxcr3</text>
<rect x="738.5" y="507.0" width="53.9" height="44.7" fill="#4f88c0"/>
<rect x="792.0" y="507.0" width="52.9" height="44.7" fill="#e3726a"/>
<rect x="844.5" y="507.0" width="53.9" height="44.7" fill="#eaa69e"/>
<text x="728.0" y="537.6" font-size="24" text-anchor="end" font-style="italic">Fasl</text>
<rect x="738.5" y="551.3" width="53.9" height="44.7" fill="#5a8fc4"/>
<rect x="792.0" y="551.3" width="52.9" height="44.7" fill="#e24f45"/>
<rect x="844.5" y="551.3" width="53.9" height="44.7" fill="#f1d3ce"/>
<text x="728.0" y="581.9" font-size="24" text-anchor="end" font-style="italic">Tnf</text>
<rect x="738.5" y="152.5" width="159.5" height="443.1" fill="none" stroke="#1a1a1a" stroke-width="1.8"/>
<path d="M623.5,174.7L645.1,174.7M642.6,219.2L645.1,219.2M642.6,263.0L645.1,263.0M642.6,219.2L642.6,263.0M623.5,241.1L642.6,241.1M623.5,174.7L623.5,241.1M583.8,208.1L623.5,208.1M639.4,307.5L645.1,307.5M639.4,352.0L645.1,352.0M639.4,307.5L639.4,352.0M628.3,329.7L639.4,329.7M643.2,397.1L645.1,397.1M643.2,440.9L645.1,440.9M643.2,397.1L643.2,440.9M639.4,419.0L643.2,419.0M644.8,484.4L645.1,484.4M644.8,528.9L645.1,528.9M644.8,484.4L644.8,528.9M639.4,506.7L644.8,506.7M639.4,419.0L639.4,506.7M628.3,462.8L639.4,462.8M628.3,329.7L628.3,462.8M617.2,396.1L628.3,396.1M617.2,573.4L645.1,573.4M617.2,396.1L617.2,573.4M583.8,484.8L617.2,484.8M583.8,208.1L583.8,484.8" fill="none" stroke="#1a1a1a" stroke-width="1.8" stroke-linecap="square"/>
<defs><linearGradient id="gb" x1="0" y1="0" x2="0" y2="1"><stop offset="0" stop-color="#e3262a"/><stop offset="0.5" stop-color="#ffffff"/><stop offset="1" stop-color="#3f7fbd"/></linearGradient></defs>
<rect x="949.0" y="298.0" width="29.0" height="152.0" fill="url(#gb)"/>
<text x="943.0" y="291.0" font-size="24.5">1.5</text>
<text x="962.0" y="483.0" font-size="24.5" text-anchor="end">−1.5</text>
<text transform="translate(1003,374) rotate(90)" font-size="23.3" text-anchor="middle">Scaled<tspan x="0" dy="21.5">expression</tspan></text>
<text x="1121.0" y="74.0" font-size="47" font-weight="bold">c</text>
<g transform="translate(1163.9,71.3) scale(0.548)">
<path d="M31.9,169.0 C32.8,166.8 35.3,166.8 38.0,166.5 C40.7,166.2 44.4,166.4 47.9,167.5 C51.4,168.6 55.5,171.3 59.3,173.2 C63.1,175.1 67.3,177.0 70.7,179.0 C74.1,181.0 77.6,182.8 79.9,185.0 C82.2,187.2 84.2,190.4 84.5,192.0 C84.8,193.6 83.3,194.6 82.0,194.5 C80.7,194.4 79.3,192.8 76.5,191.5 C73.7,190.2 68.2,187.9 65.0,187.0 C61.8,186.1 59.4,185.5 57.0,186.0 C54.6,186.5 51.9,187.7 50.5,190.0 C49.1,192.3 48.7,196.4 48.5,200.0 C48.3,203.6 48.4,207.6 49.5,211.5 C50.6,215.4 52.4,220.0 55.0,223.5 C57.6,227.0 61.4,230.3 65.0,232.5 C68.6,234.7 72.7,236.2 76.5,236.5 C80.3,236.8 84.1,234.8 88.0,234.0 C91.9,233.2 95.2,232.4 100.0,232.0 C104.8,231.6 111.8,231.7 116.5,231.5 C121.2,231.3 124.1,231.2 127.9,230.9 C131.7,230.6 135.6,230.4 139.4,229.8 C143.2,229.2 147.0,228.1 150.8,227.5 C154.6,226.9 158.4,226.9 162.2,226.3 C166.0,225.7 170.3,224.8 173.7,224.0 C177.1,223.2 181.9,221.0 182.8,221.8 C183.8,222.6 181.1,225.2 179.4,228.6 C177.7,232.0 174.8,237.9 172.5,242.3 C170.2,246.7 167.8,251.8 165.7,254.9 C163.6,257.9 160.8,258.5 160.0,260.6 C159.2,262.7 161.7,265.6 161.1,267.5 C160.5,269.4 157.8,270.0 156.5,272.1 C155.2,274.2 154.4,277.4 153.1,280.1 C151.8,282.8 150.8,285.8 148.5,288.1 C146.2,290.4 142.8,292.7 139.4,293.8 C136.0,294.9 131.7,295.8 127.9,295.0 C124.1,294.2 120.7,291.7 116.5,289.2 C112.3,286.7 107.4,283.5 102.8,280.1 C98.2,276.7 93.0,272.4 89.0,268.6 C85.0,264.8 81.1,260.2 78.8,257.2 C76.5,254.1 78.0,252.8 75.3,250.3 C72.6,247.8 66.7,245.2 62.7,242.3 C58.7,239.5 54.7,236.4 51.3,233.2 C47.9,230.0 44.7,226.5 42.2,222.9 C39.7,219.3 37.8,216.3 36.4,211.5 C35.0,206.7 34.8,199.6 34.1,194.3 C33.4,189.1 32.8,184.2 32.4,180.0 C32.0,175.8 31.0,171.2 31.9,169.0Z" fill="#d6d6d6" stroke="#d6d6d6" stroke-width="8" stroke-linejoin="round"/><path d="M83.0,195.0 C85.3,194.2 91.2,196.7 95.0,197.5 C98.8,198.3 102.2,199.1 106.0,200.0 C109.8,200.9 114.3,201.8 118.0,203.0 C121.7,204.2 125.2,205.2 128.0,207.0 C130.8,208.8 133.7,211.2 135.0,214.0 C136.3,216.8 137.2,221.3 136.0,224.0 C134.8,226.7 131.3,228.8 128.0,230.0 C124.7,231.2 120.7,230.8 116.0,231.0 C111.3,231.2 104.7,231.1 100.0,231.5 C95.3,231.9 91.3,233.9 88.0,233.5 C84.7,233.1 81.3,232.2 80.0,229.0 C78.7,225.8 79.8,218.5 80.0,214.0 C80.2,209.5 80.5,205.2 81.0,202.0 C81.5,198.8 80.7,195.8 83.0,195.0Z" fill="#d6d6d6" stroke="#d6d6d6" stroke-width="8" stroke-linejoin="round"/><path d="M140.0,226.0 C143.0,222.7 153.7,223.5 160.0,222.0 C166.3,220.5 173.2,218.5 178.0,217.0 C182.8,215.5 186.7,212.7 189.0,213.0 C191.3,213.3 192.5,216.0 192.0,219.0 C191.5,222.0 188.0,226.8 186.0,231.0 C184.0,235.2 181.3,239.7 180.0,244.0 C178.7,248.3 180.3,254.0 178.0,257.0 C175.7,260.0 170.0,261.8 166.0,262.0 C162.0,262.2 158.0,261.3 154.0,258.0 C150.0,254.7 144.3,247.3 142.0,242.0 C139.7,236.7 137.0,229.3 140.0,226.0Z" fill="#d6d6d6" stroke="#d6d6d6" stroke-width="8" stroke-linejoin="round"/><path d="M160.0,243.0 C162.2,239.5 170.3,238.8 175.0,236.0 C179.7,233.2 184.5,228.7 188.0,226.0 C191.5,223.3 194.0,218.5 196.0,220.0 C198.0,221.5 199.5,229.0 200.0,235.0 C200.5,241.0 200.0,251.5 199.0,256.0 C198.0,260.5 198.0,260.8 194.0,262.0 C190.0,263.2 180.3,263.8 175.0,263.0 C169.7,262.2 164.5,260.3 162.0,257.0 C159.5,253.7 157.8,246.5 160.0,243.0Z" fill="#d6d6d6" stroke="#d6d6d6" stroke-width="8" stroke-linejoin="round"/><path d="M223.2,110.1 C225.3,108.6 229.0,107.0 233.0,106.6 C237.0,106.2 242.7,107.6 247.3,107.9 C251.9,108.2 256.9,108.2 260.6,108.3 C264.3,108.4 266.5,107.5 269.5,108.3 C272.5,109.0 275.7,110.7 278.4,112.8 C281.1,114.9 283.7,117.8 285.5,120.8 C287.3,123.8 288.1,126.8 289.1,130.6 C290.1,134.4 289.8,139.4 291.7,143.9 C293.6,148.4 298.8,152.9 300.6,157.3 C302.4,161.8 301.8,166.2 302.4,170.6 C303.0,175.0 302.7,179.6 304.2,184.0 C305.7,188.4 309.8,193.6 311.3,197.3 C312.8,201.0 312.8,202.5 313.1,206.2 C313.4,209.9 313.7,215.1 313.1,219.5 C312.5,223.9 310.5,228.5 309.5,232.9 C308.5,237.3 308.1,242.5 306.9,246.2 C305.7,249.9 304.9,252.1 302.4,255.1 C299.9,258.1 295.7,261.6 291.7,264.0 C287.7,266.4 282.8,268.1 278.4,269.3 C273.9,270.5 268.7,271.1 265.0,271.1 C261.3,271.1 259.1,270.0 256.2,269.3 C253.2,268.6 250.0,267.6 247.3,266.7 C244.6,265.8 242.2,263.7 240.1,264.0 C238.0,264.3 237.3,267.9 234.8,268.4 C232.3,268.8 228.4,268.2 225.0,266.7 C221.6,265.2 217.4,262.9 214.4,259.5 C211.4,256.1 209.1,249.9 207.2,246.2 C205.3,242.5 204.3,241.0 202.8,237.3 C201.3,233.6 199.3,228.4 198.3,224.0 C197.3,219.6 196.4,214.3 196.6,210.6 C196.8,206.9 198.0,205.4 199.2,201.7 C200.4,198.0 202.4,192.4 203.7,188.4 C205.0,184.4 205.9,180.7 207.2,177.7 C208.5,174.7 210.9,174.0 211.7,170.6 C212.4,167.2 211.4,162.5 211.7,157.3 C212.0,152.1 212.6,144.7 213.5,139.5 C214.4,134.3 215.8,130.1 217.0,126.1 C218.2,122.1 219.6,118.2 220.6,115.5 C221.6,112.8 221.1,111.6 223.2,110.1Z" fill="#d6d6d6" stroke="#d6d6d6" stroke-width="8" stroke-linejoin="round"/>
<path d="M254.6 147.2h0" stroke="#0d0887" stroke-width="9.40" stroke-linecap="round" fill="none"/><path d="M273.0 161.1h0M281.0 138.5h0M265.2 128.7h0M233.4 149.7h0" stroke="#41049d" stroke-width="9.40" stroke-linecap="round" fill="none"/><path d="M229.9 158.9h0M276.3 215.8h0M52.5 175.7h0M265.4 204.0h0M306.0 218.2h0M219.0 238.3h0M42.4 197.1h0M119.6 288.9h0M285.2 143.6h0M38.5 187.4h0M259.5 123.2h0M55.1 173.8h0M259.2 134.3h0M210.5 234.6h0M271.1 189.8h0" stroke="#6a00a8" stroke-width="9.40" stroke-linecap="round" fill="none"/><path d="M93.7 271.6h0M107.5 262.1h0M248.0 176.3h0M109.9 273.3h0M209.5 195.6h0M275.7 111.7h0M71.2 187.6h0M254.3 211.0h0M65.4 186.8h0M55.4 174.0h0M228.2 198.3h0M85.3 260.2h0M274.5 226.0h0M264.9 160.4h0M241.8 143.9h0M127.5 275.0h0M78.9 245.3h0M205.0 195.4h0M121.9 257.3h0M33.6 176.0h0M63.4 235.7h0M233.9 127.1h0M37.9 184.2h0M37.4 208.2h0M294.5 239.6h0M135.0 259.1h0M117.2 278.0h0M39.5 175.2h0M157.6 243.9h0M78.0 245.5h0M48.8 230.0h0M113.0 239.3h0M103.5 273.5h0M59.4 230.2h0M229.7 218.7h0M101.2 276.1h0M147.3 234.4h0M47.4 201.6h0M156.3 259.4h0M106.2 275.2h0" stroke="#8f0da4" stroke-width="9.40" stroke-linecap="round" fill="none"/><path d="M69.0 184.6h0M174.8 236.4h0M94.3 263.8h0M85.5 247.5h0M82.3 246.1h0M45.1 182.5h0M307.3 207.7h0M107.2 236.0h0M80.1 244.8h0M43.9 200.2h0M262.5 181.6h0M35.7 195.0h0M93.6 247.7h0M111.2 239.0h0M143.1 277.5h0M106.5 277.1h0M74.7 243.6h0M217.7 125.1h0M145.4 282.8h0M131.1 248.0h0M218.7 227.9h0M39.0 203.5h0M111.9 267.8h0M99.0 233.6h0M159.9 239.3h0M47.9 196.3h0M233.5 117.3h0M127.9 260.4h0M56.1 230.7h0M98.4 240.7h0M122.0 259.1h0M43.0 188.9h0M62.5 237.1h0M48.8 169.8h0M137.9 287.1h0M105.3 263.2h0M45.6 192.6h0M62.0 183.3h0M42.7 211.0h0M46.2 219.6h0M73.6 186.4h0M199.3 222.0h0M53.9 232.3h0M287.7 150.4h0M111.9 239.7h0M92.3 247.5h0M272.6 238.8h0M76.4 247.0h0M122.6 258.6h0M302.6 205.3h0M46.0 180.1h0M125.8 254.3h0M42.4 188.0h0M99.4 246.1h0M103.2 265.1h0M52.5 182.9h0M164.9 232.8h0M108.5 258.4h0M121.8 244.9h0M80.9 242.8h0M122.1 286.1h0M37.2 196.9h0M110.1 252.6h0M42.9 203.0h0M56.5 229.5h0M221.8 180.9h0M129.7 258.1h0M92.9 262.9h0M248.6 154.4h0M116.1 235.5h0M104.6 270.3h0" stroke="#b12a90" stroke-width="9.40" stroke-linecap="round" fill="none"/><path d="M69.9 188.1h0M179.9 223.2h0M165.4 248.4h0M74.2 243.6h0M92.8 262.1h0M49.1 184.1h0M69.7 243.4h0M125.6 293.0h0M49.2 215.0h0M142.8 233.6h0M48.7 186.1h0M49.5 211.9h0M279.5 257.6h0M34.9 174.0h0M48.6 182.3h0M89.9 252.9h0M136.5 247.0h0M119.8 266.5h0M35.8 173.6h0M118.5 261.5h0M153.6 246.4h0M106.4 275.4h0M162.6 234.3h0M143.8 235.3h0M47.5 217.8h0M41.8 211.6h0M151.7 239.9h0M105.6 270.6h0M118.2 251.4h0M42.6 193.0h0M139.2 284.6h0M51.9 171.2h0M41.7 194.5h0M93.7 240.1h0M37.6 197.7h0M64.3 242.0h0M106.8 242.6h0M42.8 196.9h0M148.7 284.7h0M155.4 244.4h0M288.4 218.5h0M84.7 257.2h0M136.9 289.2h0M56.0 235.9h0M51.8 188.6h0M117.0 237.8h0M131.9 248.7h0M59.0 184.4h0M60.5 235.2h0M146.5 246.7h0M72.5 236.8h0M118.1 264.5h0M161.8 253.6h0M45.1 179.1h0M80.1 193.2h0M150.1 257.6h0M104.6 238.2h0M285.9 160.5h0M165.9 227.8h0M124.8 237.1h0M63.9 233.7h0M39.1 209.0h0M101.8 267.3h0M115.8 281.1h0M153.1 231.0h0M71.4 185.7h0M99.2 249.6h0M42.4 176.7h0M46.1 173.1h0M32.2 170.8h0M102.0 245.8h0M229.2 199.4h0M51.6 231.4h0M133.9 234.8h0M74.5 242.1h0M142.0 275.9h0M251.2 150.2h0M95.8 262.7h0M162.3 230.9h0M84.0 237.2h0M48.8 194.5h0M76.4 245.7h0M125.1 279.8h0M129.9 280.9h0M152.1 272.0h0M271.3 250.7h0M146.7 244.2h0M40.5 191.2h0M71.0 243.1h0M135.9 255.8h0M101.8 235.9h0M153.7 250.2h0M109.5 232.6h0M72.0 188.6h0M119.5 255.8h0M118.4 242.6h0M111.0 236.6h0M94.2 267.8h0M137.5 267.9h0M140.1 248.8h0M153.1 273.7h0M74.9 240.9h0M71.8 185.1h0M147.9 264.1h0M126.9 279.4h0" stroke="#cc4778" stroke-width="9.40" stroke-linecap="round" fill="none"/><path d="M162.7 226.9h0M82.4 190.8h0M130.7 250.8h0M158.9 239.7h0M73.0 245.2h0M172.5 227.9h0M128.2 261.7h0M103.4 260.7h0M171.2 226.8h0M81.3 250.1h0M160.5 265.0h0M149.8 273.9h0M144.1 245.7h0M120.9 247.7h0M101.6 239.2h0M83.5 243.4h0M132.4 256.2h0M83.3 261.4h0M164.2 252.5h0M46.1 195.6h0M139.5 262.2h0M105.3 263.7h0M116.3 246.7h0M70.6 239.1h0M44.4 208.5h0M113.7 286.5h0M105.2 233.2h0M155.2 243.0h0M114.3 284.9h0M219.5 254.7h0M148.9 251.4h0M162.1 242.8h0M136.3 239.2h0M32.3 176.8h0M154.1 253.6h0M85.2 246.6h0M66.1 237.8h0M98.8 255.4h0M156.6 227.4h0M107.9 252.4h0M61.5 231.6h0M114.0 277.4h0M79.5 241.2h0M68.3 186.5h0M87.6 254.8h0M103.3 208.7h0M83.9 259.3h0M154.6 260.8h0M145.0 245.8h0M37.5 174.6h0M122.0 242.1h0M77.5 186.5h0M33.8 176.9h0M130.6 217.1h0M145.2 268.6h0M40.6 211.3h0M42.0 217.1h0M104.5 270.7h0M48.3 188.3h0M126.0 274.9h0M144.2 251.8h0M96.3 260.5h0M127.3 270.1h0M133.0 252.0h0M45.7 226.2h0M65.9 177.5h0M123.4 235.9h0M126.5 289.2h0M155.1 250.8h0M76.9 244.4h0M97.0 252.4h0M44.0 219.6h0M56.7 232.7h0M170.9 228.6h0M110.2 202.2h0M121.9 271.4h0M37.7 184.3h0M165.1 231.4h0M101.3 241.7h0M150.5 235.3h0" stroke="#e16462" stroke-width="9.40" stroke-linecap="round" fill="none"/><path d="M142.7 267.2h0M40.0 213.4h0M81.6 256.9h0M102.1 232.0h0M115.0 266.8h0M97.1 256.6h0M120.4 288.3h0M155.3 240.9h0M145.7 285.2h0M151.3 261.5h0M37.7 168.5h0M47.4 203.0h0M101.5 278.4h0M48.9 216.1h0M71.5 184.3h0M128.2 262.3h0M139.1 231.7h0M91.1 244.9h0M113.2 249.2h0M134.7 242.0h0M152.3 239.7h0M45.5 191.9h0M124.3 291.5h0M112.9 234.5h0M130.5 287.2h0M164.8 249.3h0M130.5 290.8h0M88.5 259.6h0M134.0 249.6h0M100.1 236.9h0M117.4 288.1h0M94.2 272.0h0M120.4 289.1h0M148.3 278.8h0M103.5 231.3h0M96.3 257.3h0M43.0 174.8h0M156.9 256.9h0M137.7 291.8h0M49.7 230.0h0M137.3 268.9h0M148.6 287.1h0M145.5 271.6h0M119.6 205.1h0M150.6 264.2h0M57.5 237.9h0M90.0 260.9h0M101.6 258.1h0M59.4 234.1h0M101.8 266.6h0M125.2 253.4h0M106.4 256.5h0M159.3 257.6h0M99.8 245.6h0M125.6 275.7h0M128.9 252.6h0M47.1 186.8h0M141.8 289.1h0M59.4 182.6h0M175.1 232.4h0M120.6 283.0h0M152.2 273.2h0M92.6 255.5h0M143.7 234.3h0M130.5 238.5h0M112.0 280.2h0M137.8 250.8h0M145.0 264.5h0M90.2 248.2h0M147.4 270.8h0M53.2 177.3h0M113.6 279.0h0M121.5 279.2h0M138.8 244.3h0M135.9 271.8h0M173.4 240.0h0M98.1 241.3h0" stroke="#f2844b" stroke-width="9.40" stroke-linecap="round" fill="none"/><path d="M131.3 274.0h0M121.5 288.5h0M170.8 244.2h0M53.1 227.8h0M52.0 217.7h0M91.0 249.5h0M84.3 254.5h0M146.5 235.8h0M144.8 278.5h0M129.7 228.1h0M42.1 210.5h0M120.7 235.0h0M108.8 209.4h0M244.6 169.5h0M144.6 269.4h0M124.2 206.1h0M119.8 252.8h0M59.2 179.0h0" stroke="#fca636" stroke-width="9.40" stroke-linecap="round" fill="none"/><path d="M150.4 243.7h0M114.1 209.0h0M52.0 221.6h0M131.8 221.3h0M83.3 255.0h0M124.6 273.9h0M119.4 279.8h0M171.2 241.6h0M119.7 208.9h0M157.8 250.9h0M110.2 212.0h0M106.8 265.6h0M97.7 267.0h0" stroke="#fcce25" stroke-width="9.40" stroke-linecap="round" fill="none"/>
</g>
<text x="1240.4" y="117.2" font-size="23.5" text-anchor="middle" font-style="italic">Cxcr3</text>
<g transform="translate(1348.9,71.3) scale(0.548)">
<path d="M31.9,169.0 C32.8,166.8 35.3,166.8 38.0,166.5 C40.7,166.2 44.4,166.4 47.9,167.5 C51.4,168.6 55.5,171.3 59.3,173.2 C63.1,175.1 67.3,177.0 70.7,179.0 C74.1,181.0 77.6,182.8 79.9,185.0 C82.2,187.2 84.2,190.4 84.5,192.0 C84.8,193.6 83.3,194.6 82.0,194.5 C80.7,194.4 79.3,192.8 76.5,191.5 C73.7,190.2 68.2,187.9 65.0,187.0 C61.8,186.1 59.4,185.5 57.0,186.0 C54.6,186.5 51.9,187.7 50.5,190.0 C49.1,192.3 48.7,196.4 48.5,200.0 C48.3,203.6 48.4,207.6 49.5,211.5 C50.6,215.4 52.4,220.0 55.0,223.5 C57.6,227.0 61.4,230.3 65.0,232.5 C68.6,234.7 72.7,236.2 76.5,236.5 C80.3,236.8 84.1,234.8 88.0,234.0 C91.9,233.2 95.2,232.4 100.0,232.0 C104.8,231.6 111.8,231.7 116.5,231.5 C121.2,231.3 124.1,231.2 127.9,230.9 C131.7,230.6 135.6,230.4 139.4,229.8 C143.2,229.2 147.0,228.1 150.8,227.5 C154.6,226.9 158.4,226.9 162.2,226.3 C166.0,225.7 170.3,224.8 173.7,224.0 C177.1,223.2 181.9,221.0 182.8,221.8 C183.8,222.6 181.1,225.2 179.4,228.6 C177.7,232.0 174.8,237.9 172.5,242.3 C170.2,246.7 167.8,251.8 165.7,254.9 C163.6,257.9 160.8,258.5 160.0,260.6 C159.2,262.7 161.7,265.6 161.1,267.5 C160.5,269.4 157.8,270.0 156.5,272.1 C155.2,274.2 154.4,277.4 153.1,280.1 C151.8,282.8 150.8,285.8 148.5,288.1 C146.2,290.4 142.8,292.7 139.4,293.8 C136.0,294.9 131.7,295.8 127.9,295.0 C124.1,294.2 120.7,291.7 116.5,289.2 C112.3,286.7 107.4,283.5 102.8,280.1 C98.2,276.7 93.0,272.4 89.0,268.6 C85.0,264.8 81.1,260.2 78.8,257.2 C76.5,254.1 78.0,252.8 75.3,250.3 C72.6,247.8 66.7,245.2 62.7,242.3 C58.7,239.5 54.7,236.4 51.3,233.2 C47.9,230.0 44.7,226.5 42.2,222.9 C39.7,219.3 37.8,216.3 36.4,211.5 C35.0,206.7 34.8,199.6 34.1,194.3 C33.4,189.1 32.8,184.2 32.4,180.0 C32.0,175.8 31.0,171.2 31.9,169.0Z" fill="#d6d6d6" stroke="#d6d6d6" stroke-width="8" stroke-linejoin="round"/><path d="M83.0,195.0 C85.3,194.2 91.2,196.7 95.0,197.5 C98.8,198.3 102.2,199.1 106.0,200.0 C109.8,200.9 114.3,201.8 118.0,203.0 C121.7,204.2 125.2,205.2 128.0,207.0 C130.8,208.8 133.7,211.2 135.0,214.0 C136.3,216.8 137.2,221.3 136.0,224.0 C134.8,226.7 131.3,228.8 128.0,230.0 C124.7,231.2 120.7,230.8 116.0,231.0 C111.3,231.2 104.7,231.1 100.0,231.5 C95.3,231.9 91.3,233.9 88.0,233.5 C84.7,233.1 81.3,232.2 80.0,229.0 C78.7,225.8 79.8,218.5 80.0,214.0 C80.2,209.5 80.5,205.2 81.0,202.0 C81.5,198.8 80.7,195.8 83.0,195.0Z" fill="#d6d6d6" stroke="#d6d6d6" stroke-width="8" stroke-linejoin="round"/><path d="M140.0,226.0 C143.0,222.7 153.7,223.5 160.0,222.0 C166.3,220.5 173.2,218.5 178.0,217.0 C182.8,215.5 186.7,212.7 189.0,213.0 C191.3,213.3 192.5,216.0 192.0,219.0 C191.5,222.0 188.0,226.8 186.0,231.0 C184.0,235.2 181.3,239.7 180.0,244.0 C178.7,248.3 180.3,254.0 178.0,257.0 C175.7,260.0 170.0,261.8 166.0,262.0 C162.0,262.2 158.0,261.3 154.0,258.0 C150.0,254.7 144.3,247.3 142.0,242.0 C139.7,236.7 137.0,229.3 140.0,226.0Z" fill="#d6d6d6" stroke="#d6d6d6" stroke-width="8" stroke-linejoin="round"/><path d="M160.0,243.0 C162.2,239.5 170.3,238.8 175.0,236.0 C179.7,233.2 184.5,228.7 188.0,226.0 C191.5,223.3 194.0,218.5 196.0,220.0 C198.0,221.5 199.5,229.0 200.0,235.0 C200.5,241.0 200.0,251.5 199.0,256.0 C198.0,260.5 198.0,260.8 194.0,262.0 C190.0,263.2 180.3,263.8 175.0,263.0 C169.7,262.2 164.5,260.3 162.0,257.0 C159.5,253.7 157.8,246.5 160.0,243.0Z" fill="#d6d6d6" stroke="#d6d6d6" stroke-width="8" stroke-linejoin="round"/><path d="M223.2,110.1 C225.3,108.6 229.0,107.0 233.0,106.6 C237.0,106.2 242.7,107.6 247.3,107.9 C251.9,108.2 256.9,108.2 260.6,108.3 C264.3,108.4 266.5,107.5 269.5,108.3 C272.5,109.0 275.7,110.7 278.4,112.8 C281.1,114.9 283.7,117.8 285.5,120.8 C287.3,123.8 288.1,126.8 289.1,130.6 C290.1,134.4 289.8,139.4 291.7,143.9 C293.6,148.4 298.8,152.9 300.6,157.3 C302.4,161.8 301.8,166.2 302.4,170.6 C303.0,175.0 302.7,179.6 304.2,184.0 C305.7,188.4 309.8,193.6 311.3,197.3 C312.8,201.0 312.8,202.5 313.1,206.2 C313.4,209.9 313.7,215.1 313.1,219.5 C312.5,223.9 310.5,228.5 309.5,232.9 C308.5,237.3 308.1,242.5 306.9,246.2 C305.7,249.9 304.9,252.1 302.4,255.1 C299.9,258.1 295.7,261.6 291.7,264.0 C287.7,266.4 282.8,268.1 278.4,269.3 C273.9,270.5 268.7,271.1 265.0,271.1 C261.3,271.1 259.1,270.0 256.2,269.3 C253.2,268.6 250.0,267.6 247.3,266.7 C244.6,265.8 242.2,263.7 240.1,264.0 C238.0,264.3 237.3,267.9 234.8,268.4 C232.3,268.8 228.4,268.2 225.0,266.7 C221.6,265.2 217.4,262.9 214.4,259.5 C211.4,256.1 209.1,249.9 207.2,246.2 C205.3,242.5 204.3,241.0 202.8,237.3 C201.3,233.6 199.3,228.4 198.3,224.0 C197.3,219.6 196.4,214.3 196.6,210.6 C196.8,206.9 198.0,205.4 199.2,201.7 C200.4,198.0 202.4,192.4 203.7,188.4 C205.0,184.4 205.9,180.7 207.2,177.7 C208.5,174.7 210.9,174.0 211.7,170.6 C212.4,167.2 211.4,162.5 211.7,157.3 C212.0,152.1 212.6,144.7 213.5,139.5 C214.4,134.3 215.8,130.1 217.0,126.1 C218.2,122.1 219.6,118.2 220.6,115.5 C221.6,112.8 221.1,111.6 223.2,110.1Z" fill="#d6d6d6" stroke="#d6d6d6" stroke-width="8" stroke-linejoin="round"/>
<path d="M45.7 222.5h0M44.2 217.8h0M286.5 126.3h0" stroke="#0d0887" stroke-width="9.40" stroke-linecap="round" fill="none"/><path d="M110.1 258.6h0M228.4 241.3h0M289.1 215.7h0M220.6 161.5h0M254.3 195.7h0M277.4 127.7h0M115.7 240.1h0M238.2 134.3h0M247.9 208.0h0M201.0 203.0h0M243.4 213.4h0" stroke="#41049d" stroke-width="9.40" stroke-linecap="round" fill="none"/><path d="M240.7 253.2h0M51.5 169.5h0M254.8 191.2h0M225.4 258.7h0M128.9 233.2h0M36.5 198.0h0M282.9 130.8h0M82.3 253.4h0M263.9 170.3h0M221.2 250.1h0M252.2 263.7h0M274.7 251.5h0M281.9 208.8h0M39.4 194.9h0M235.8 193.0h0M249.2 146.2h0M47.3 170.3h0M226.8 156.6h0M277.0 204.3h0M279.6 182.1h0M77.0 183.2h0M217.5 180.5h0M256.1 167.4h0M47.5 171.4h0M46.7 187.2h0M205.3 210.7h0M34.3 188.0h0M256.9 180.3h0M172.5 239.8h0M45.8 187.8h0M235.6 260.7h0M276.6 237.1h0M210.1 205.2h0M103.7 269.1h0M253.8 112.8h0M265.7 206.7h0M275.3 178.5h0M75.4 244.4h0M270.0 187.0h0M48.9 188.6h0M80.8 188.5h0M290.1 251.8h0M248.3 265.7h0M273.7 189.3h0M60.0 176.3h0M275.2 142.9h0M51.2 179.1h0M134.5 260.5h0M52.8 225.3h0M145.0 257.8h0M46.4 171.6h0M43.3 191.6h0M36.6 209.9h0M62.9 231.6h0M220.6 206.1h0M281.7 240.3h0M59.3 175.5h0M44.2 206.1h0M290.2 175.8h0" stroke="#6a00a8" stroke-width="9.40" stroke-linecap="round" fill="none"/><path d="M41.0 192.9h0M166.3 225.7h0M216.0 211.4h0M132.8 244.2h0M141.3 236.5h0M43.3 180.5h0M242.3 245.9h0M41.8 178.2h0M91.5 239.0h0M101.7 232.5h0M235.7 254.4h0M271.6 223.8h0M207.8 241.1h0M65.0 232.9h0M169.9 224.8h0M267.3 234.7h0M158.2 245.7h0M241.6 173.0h0M228.5 120.4h0M232.9 135.1h0M163.6 227.4h0M119.4 260.4h0M205.2 224.8h0M257.5 176.4h0M128.0 292.3h0M148.2 285.9h0M293.9 219.9h0M230.6 131.7h0M49.5 183.1h0M107.5 258.2h0M246.9 203.5h0M215.1 140.2h0M256.2 123.0h0M172.6 233.1h0M39.9 173.1h0M36.8 197.0h0M274.6 151.9h0M275.5 163.0h0M299.3 217.6h0M34.8 173.0h0M83.5 242.9h0M236.8 228.8h0M64.7 235.0h0M239.6 255.4h0M271.7 143.2h0M44.0 190.2h0M261.3 252.2h0M226.8 144.5h0M276.3 229.5h0M238.7 127.0h0M251.9 224.6h0M283.5 121.0h0M291.7 163.8h0M256.2 111.6h0M303.5 188.2h0M54.6 183.2h0M284.7 216.0h0M64.2 177.3h0M236.9 142.5h0M299.0 209.5h0M239.8 260.1h0M287.7 198.6h0M281.2 201.3h0M226.3 138.4h0M288.3 265.3h0M68.8 181.4h0M238.3 150.4h0M254.7 176.1h0M213.0 188.9h0M140.1 259.0h0M294.1 184.5h0M270.9 252.2h0M38.9 199.2h0M129.5 275.2h0M130.2 274.7h0M150.9 251.8h0M104.0 247.8h0M49.7 221.8h0M62.6 237.9h0M117.0 281.8h0M40.3 183.8h0M284.1 162.8h0M217.5 140.0h0M111.6 243.8h0M96.0 272.9h0M256.7 150.1h0M269.0 128.2h0M263.7 169.4h0M219.4 193.8h0M283.2 193.2h0M74.7 249.9h0M77.4 245.6h0M140.8 250.3h0M268.4 193.3h0M307.8 196.5h0M263.3 142.4h0M73.2 245.5h0M230.0 215.0h0M299.2 256.1h0M238.9 116.3h0M277.0 194.8h0M290.7 161.1h0M149.5 261.1h0M272.9 242.3h0M248.6 257.0h0M198.7 225.2h0M199.2 202.1h0M215.1 215.8h0M159.2 259.4h0M246.8 196.3h0M243.7 259.6h0M258.0 180.3h0M145.9 269.8h0M151.9 273.6h0M272.4 233.1h0M142.4 283.6h0M204.7 227.4h0M218.7 229.1h0M155.2 269.8h0M247.4 160.6h0M251.5 262.2h0" stroke="#8f0da4" stroke-width="9.40" stroke-linecap="round" fill="none"/><path d="M95.9 239.4h0M280.5 197.4h0M212.0 169.2h0M46.3 184.6h0M271.3 167.9h0M132.9 233.5h0M249.7 126.1h0M124.8 272.8h0M221.5 169.5h0M211.2 190.9h0M223.5 165.8h0M84.0 201.8h0M217.2 161.3h0M217.3 238.3h0M75.5 239.2h0M245.8 182.1h0M69.7 246.1h0M75.6 237.4h0M221.7 237.9h0M148.2 228.6h0M284.0 249.2h0M283.3 251.0h0M52.5 174.0h0M107.0 236.8h0M251.0 156.9h0M239.8 118.9h0M252.6 238.3h0M115.6 264.9h0M152.0 243.9h0M128.5 284.8h0M149.2 253.7h0M278.0 243.5h0M277.6 149.7h0M59.6 235.7h0M138.4 267.8h0M303.3 246.5h0M268.1 238.6h0M154.7 260.8h0M289.6 255.9h0M266.5 237.9h0M88.6 234.9h0M226.5 236.8h0M238.4 260.1h0M260.9 154.7h0M231.5 171.5h0M233.5 106.8h0M88.4 234.0h0M121.4 258.0h0M203.5 230.0h0M127.2 244.3h0M118.9 274.2h0M252.6 248.1h0M237.0 258.5h0M275.3 249.8h0M260.3 257.0h0M119.3 274.6h0M235.7 205.3h0M121.3 266.4h0M133.8 220.6h0M231.3 259.8h0M208.5 189.5h0M210.3 174.3h0M228.7 250.3h0M216.0 131.1h0M237.8 171.4h0M264.4 198.5h0M150.0 268.6h0M115.4 231.0h0M218.1 189.3h0M302.5 207.8h0M44.3 181.8h0M219.8 126.9h0M203.3 212.1h0M246.3 217.2h0M253.2 210.0h0M288.8 222.8h0M45.1 171.6h0M238.5 136.7h0M258.3 121.3h0M282.1 265.3h0M269.4 239.2h0M251.5 202.7h0M268.2 175.3h0M286.5 185.0h0M231.5 141.9h0M251.7 152.6h0M213.6 162.2h0M227.4 234.6h0M47.1 173.3h0M230.2 184.6h0M244.9 163.7h0M111.3 235.3h0M72.6 238.5h0M255.8 226.7h0M108.6 244.0h0M153.2 254.3h0M79.4 242.5h0M75.8 188.3h0M256.3 200.2h0M206.5 205.6h0M274.5 220.6h0M292.7 249.9h0M246.7 258.5h0M209.4 198.3h0M247.3 179.2h0M48.1 198.7h0M45.0 212.1h0M43.3 186.5h0M231.3 197.4h0M222.7 127.9h0M94.0 258.9h0M40.4 177.9h0M38.8 191.6h0M232.7 235.6h0M270.3 223.5h0M117.2 237.3h0M222.5 172.1h0M306.3 224.2h0M308.3 229.2h0M284.9 183.9h0M278.7 266.8h0M240.5 127.3h0M39.9 194.5h0M293.1 206.8h0M46.6 177.0h0M222.0 204.9h0M272.9 225.3h0M108.2 241.6h0M113.1 255.1h0M143.2 241.5h0M251.9 133.1h0M34.6 175.8h0M222.1 244.9h0M273.1 182.8h0M279.0 148.3h0M148.5 229.2h0M282.8 227.6h0M269.1 175.3h0M127.3 252.6h0M269.0 138.8h0M111.7 250.9h0M154.9 255.0h0M261.5 240.6h0M249.1 250.2h0M269.2 138.6h0M306.3 219.9h0M253.3 152.6h0M57.6 184.2h0M297.3 247.0h0M225.2 204.4h0M131.8 246.6h0M254.5 170.2h0M157.0 243.1h0M263.6 116.6h0M214.8 213.5h0M170.9 243.8h0M110.4 279.0h0M240.3 164.3h0M234.5 144.0h0M235.9 260.1h0M248.2 255.4h0M277.7 124.0h0M256.3 242.5h0M47.7 201.8h0M237.3 167.7h0M136.1 260.3h0M230.4 145.2h0M210.2 175.4h0M238.0 120.3h0M62.0 178.7h0M285.4 174.3h0M294.3 191.3h0M234.5 182.9h0M211.2 189.8h0M254.7 148.9h0M209.5 176.0h0M281.2 191.4h0M248.9 243.0h0M305.4 195.8h0M227.8 266.8h0M293.9 208.5h0M267.8 229.8h0M282.3 157.5h0M98.1 267.3h0M52.8 229.4h0M283.2 248.8h0M124.9 237.0h0M249.5 204.9h0M107.1 245.5h0M268.1 150.3h0M41.9 178.8h0M223.3 153.7h0M93.3 210.2h0" stroke="#b12a90" stroke-width="9.40" stroke-linecap="round" fill="none"/><path d="M99.7 262.2h0M295.9 212.6h0M115.7 222.8h0M229.7 108.4h0M289.4 187.9h0M249.2 123.0h0M272.2 130.9h0M225.8 113.6h0M85.1 255.8h0M227.5 223.5h0M80.6 236.7h0M88.9 218.6h0M280.7 152.0h0M234.2 117.9h0M126.0 245.4h0M245.2 222.5h0M288.7 149.5h0M248.1 188.9h0M271.7 238.9h0M176.5 224.5h0M266.5 178.2h0M226.4 132.1h0M259.4 153.9h0M261.7 178.0h0M122.2 260.0h0M132.3 243.7h0M130.0 253.1h0M277.6 193.4h0M118.5 263.8h0M288.7 234.3h0M250.4 147.4h0M115.7 284.7h0M269.8 197.0h0M140.9 266.7h0M311.0 226.2h0M288.9 171.4h0M229.3 221.3h0M125.5 235.5h0M124.0 266.3h0M294.8 196.7h0M47.6 182.9h0M121.2 258.4h0M109.6 279.5h0M222.4 200.4h0M243.5 224.5h0M69.4 182.2h0M129.5 275.5h0M127.1 254.1h0M283.4 157.4h0M119.0 282.7h0M108.0 209.9h0M153.7 259.8h0M98.0 267.5h0M87.5 258.6h0M308.1 236.7h0M207.8 223.1h0M156.9 248.6h0M259.4 205.7h0M270.3 125.9h0M249.3 111.8h0M280.5 154.8h0M228.9 150.3h0M231.8 235.3h0M266.3 166.9h0M58.9 228.6h0M46.0 178.0h0M122.7 241.2h0M49.2 217.0h0M262.7 229.7h0M115.4 279.1h0M121.7 247.0h0M126.9 281.6h0M261.7 108.8h0M235.6 176.0h0M135.8 271.5h0M254.9 191.0h0M133.2 258.8h0M148.9 232.4h0M124.2 246.7h0M232.4 155.3h0M127.4 240.9h0M292.5 250.6h0M42.0 214.3h0M242.3 174.8h0M283.5 153.3h0M59.8 173.9h0M56.0 175.0h0M36.6 178.9h0M206.1 187.6h0M228.4 154.8h0M256.6 141.1h0M295.5 185.8h0M216.0 182.8h0M302.3 192.3h0M275.3 157.5h0M242.4 153.0h0M208.0 186.2h0M144.3 258.6h0M69.1 245.9h0M37.9 206.5h0M279.4 142.4h0M44.3 201.0h0M233.4 164.6h0M308.3 206.5h0M108.6 251.0h0M305.4 236.2h0M256.2 133.4h0M247.7 243.2h0M108.7 233.4h0M265.1 182.3h0M267.1 173.3h0M266.1 237.3h0M113.0 282.0h0M224.6 125.9h0M247.8 232.5h0M99.0 251.7h0M265.5 145.9h0M138.6 248.0h0M248.5 158.9h0M142.7 246.1h0M45.0 173.5h0M101.1 273.2h0M227.2 142.7h0M278.7 154.8h0M304.9 245.4h0M111.3 224.1h0M253.8 140.7h0M239.4 154.9h0M100.4 255.8h0M264.9 227.8h0M131.1 259.9h0M218.3 219.3h0M279.6 152.3h0M280.1 141.8h0M121.5 272.4h0M62.9 181.9h0M110.0 280.1h0M268.6 192.3h0M123.7 255.0h0M288.5 190.5h0" stroke="#cc4778" stroke-width="9.40" stroke-linecap="round" fill="none"/><path d="M167.0 238.1h0M129.5 246.9h0M284.2 153.0h0M262.9 138.7h0M53.3 172.4h0M274.3 130.1h0M73.4 183.8h0M157.2 228.6h0M276.0 219.7h0M229.8 202.6h0M264.1 245.1h0M130.3 287.5h0M130.8 218.0h0M238.7 128.5h0M83.1 240.2h0M278.6 254.5h0M140.6 244.3h0M105.9 237.5h0M63.8 233.0h0M107.5 214.1h0M153.2 244.2h0M81.0 241.3h0M218.5 249.5h0M42.6 215.9h0M118.7 289.7h0M93.4 241.7h0M247.0 256.4h0M280.5 166.9h0M115.4 242.4h0M76.7 249.1h0M127.0 268.5h0M103.0 238.9h0M98.7 259.9h0M91.5 242.6h0M121.3 272.4h0M101.6 243.1h0M219.3 136.0h0M138.2 291.3h0M127.5 275.9h0M48.7 213.3h0M143.1 288.4h0M285.7 175.6h0M262.5 179.9h0M230.0 213.6h0M218.7 214.9h0M250.4 205.7h0M137.2 244.7h0M116.3 279.3h0M206.4 197.6h0M48.5 170.3h0M44.2 186.4h0M118.6 271.4h0M104.7 242.8h0M123.1 267.1h0M84.6 250.2h0M210.8 179.4h0M249.0 198.1h0M159.4 246.8h0M98.9 267.9h0M32.9 177.3h0" stroke="#e16462" stroke-width="9.40" stroke-linecap="round" fill="none"/><path d="M261.5 197.2h0M125.1 254.0h0M244.6 160.3h0M274.1 199.4h0M153.9 276.3h0M98.6 241.5h0M69.2 239.8h0M299.3 176.1h0M150.4 283.5h0M148.4 277.1h0M233.8 106.8h0M136.1 266.3h0M127.3 231.6h0M96.6 207.0h0M127.8 266.8h0M131.6 244.3h0M149.5 249.0h0M85.9 203.2h0M130.8 284.0h0M146.7 284.8h0M270.5 179.6h0M165.4 237.0h0M286.1 154.1h0" stroke="#f2844b" stroke-width="9.40" stroke-linecap="round" fill="none"/><path d="M126.3 276.2h0M106.7 221.8h0M211.1 206.5h0" stroke="#fca636" stroke-width="9.40" stroke-linecap="round" fill="none"/><path d="M129.2 227.6h0M133.8 243.9h0" stroke="#fcce25" stroke-width="9.40" stroke-linecap="round" fill="none"/>
</g>
<text x="1429.0" y="117.2" font-size="23.5" text-anchor="middle" font-style="italic">Fasl</text>
<g transform="translate(1533.9,71.3) scale(0.548)">
<path d="M31.9,169.0 C32.8,166.8 35.3,166.8 38.0,166.5 C40.7,166.2 44.4,166.4 47.9,167.5 C51.4,168.6 55.5,171.3 59.3,173.2 C63.1,175.1 67.3,177.0 70.7,179.0 C74.1,181.0 77.6,182.8 79.9,185.0 C82.2,187.2 84.2,190.4 84.5,192.0 C84.8,193.6 83.3,194.6 82.0,194.5 C80.7,194.4 79.3,192.8 76.5,191.5 C73.7,190.2 68.2,187.9 65.0,187.0 C61.8,186.1 59.4,185.5 57.0,186.0 C54.6,186.5 51.9,187.7 50.5,190.0 C49.1,192.3 48.7,196.4 48.5,200.0 C48.3,203.6 48.4,207.6 49.5,211.5 C50.6,215.4 52.4,220.0 55.0,223.5 C57.6,227.0 61.4,230.3 65.0,232.5 C68.6,234.7 72.7,236.2 76.5,236.5 C80.3,236.8 84.1,234.8 88.0,234.0 C91.9,233.2 95.2,232.4 100.0,232.0 C104.8,231.6 111.8,231.7 116.5,231.5 C121.2,231.3 124.1,231.2 127.9,230.9 C131.7,230.6 135.6,230.4 139.4,229.8 C143.2,229.2 147.0,228.1 150.8,227.5 C154.6,226.9 158.4,226.9 162.2,226.3 C166.0,225.7 170.3,224.8 173.7,224.0 C177.1,223.2 181.9,221.0 182.8,221.8 C183.8,222.6 181.1,225.2 179.4,228.6 C177.7,232.0 174.8,237.9 172.5,242.3 C170.2,246.7 167.8,251.8 165.7,254.9 C163.6,257.9 160.8,258.5 160.0,260.6 C159.2,262.7 161.7,265.6 161.1,267.5 C160.5,269.4 157.8,270.0 156.5,272.1 C155.2,274.2 154.4,277.4 153.1,280.1 C151.8,282.8 150.8,285.8 148.5,288.1 C146.2,290.4 142.8,292.7 139.4,293.8 C136.0,294.9 131.7,295.8 127.9,295.0 C124.1,294.2 120.7,291.7 116.5,289.2 C112.3,286.7 107.4,283.5 102.8,280.1 C98.2,276.7 93.0,272.4 89.0,268.6 C85.0,264.8 81.1,260.2 78.8,257.2 C76.5,254.1 78.0,252.8 75.3,250.3 C72.6,247.8 66.7,245.2 62.7,242.3 C58.7,239.5 54.7,236.4 51.3,233.2 C47.9,230.0 44.7,226.5 42.2,222.9 C39.7,219.3 37.8,216.3 36.4,211.5 C35.0,206.7 34.8,199.6 34.1,194.3 C33.4,189.1 32.8,184.2 32.4,180.0 C32.0,175.8 31.0,171.2 31.9,169.0Z" fill="#d6d6d6" stroke="#d6d6d6" stroke-width="8" stroke-linejoin="round"/><path d="M83.0,195.0 C85.3,194.2 91.2,196.7 95.0,197.5 C98.8,198.3 102.2,199.1 106.0,200.0 C109.8,200.9 114.3,201.8 118.0,203.0 C121.7,204.2 125.2,205.2 128.0,207.0 C130.8,208.8 133.7,211.2 135.0,214.0 C136.3,216.8 137.2,221.3 136.0,224.0 C134.8,226.7 131.3,228.8 128.0,230.0 C124.7,231.2 120.7,230.8 116.0,231.0 C111.3,231.2 104.7,231.1 100.0,231.5 C95.3,231.9 91.3,233.9 88.0,233.5 C84.7,233.1 81.3,232.2 80.0,229.0 C78.7,225.8 79.8,218.5 80.0,214.0 C80.2,209.5 80.5,205.2 81.0,202.0 C81.5,198.8 80.7,195.8 83.0,195.0Z" fill="#d6d6d6" stroke="#d6d6d6" stroke-width="8" stroke-linejoin="round"/><path d="M140.0,226.0 C143.0,222.7 153.7,223.5 160.0,222.0 C166.3,220.5 173.2,218.5 178.0,217.0 C182.8,215.5 186.7,212.7 189.0,213.0 C191.3,213.3 192.5,216.0 192.0,219.0 C191.5,222.0 188.0,226.8 186.0,231.0 C184.0,235.2 181.3,239.7 180.0,244.0 C178.7,248.3 180.3,254.0 178.0,257.0 C175.7,260.0 170.0,261.8 166.0,262.0 C162.0,262.2 158.0,261.3 154.0,258.0 C150.0,254.7 144.3,247.3 142.0,242.0 C139.7,236.7 137.0,229.3 140.0,226.0Z" fill="#d6d6d6" stroke="#d6d6d6" stroke-width="8" stroke-linejoin="round"/><path d="M160.0,243.0 C162.2,239.5 170.3,238.8 175.0,236.0 C179.7,233.2 184.5,228.7 188.0,226.0 C191.5,223.3 194.0,218.5 196.0,220.0 C198.0,221.5 199.5,229.0 200.0,235.0 C200.5,241.0 200.0,251.5 199.0,256.0 C198.0,260.5 198.0,260.8 194.0,262.0 C190.0,263.2 180.3,263.8 175.0,263.0 C169.7,262.2 164.5,260.3 162.0,257.0 C159.5,253.7 157.8,246.5 160.0,243.0Z" fill="#d6d6d6" stroke="#d6d6d6" stroke-width="8" stroke-linejoin="round"/><path d="M223.2,110.1 C225.3,108.6 229.0,107.0 233.0,106.6 C237.0,106.2 242.7,107.6 247.3,107.9 C251.9,108.2 256.9,108.2 260.6,108.3 C264.3,108.4 266.5,107.5 269.5,108.3 C272.5,109.0 275.7,110.7 278.4,112.8 C281.1,114.9 283.7,117.8 285.5,120.8 C287.3,123.8 288.1,126.8 289.1,130.6 C290.1,134.4 289.8,139.4 291.7,143.9 C293.6,148.4 298.8,152.9 300.6,157.3 C302.4,161.8 301.8,166.2 302.4,170.6 C303.0,175.0 302.7,179.6 304.2,184.0 C305.7,188.4 309.8,193.6 311.3,197.3 C312.8,201.0 312.8,202.5 313.1,206.2 C313.4,209.9 313.7,215.1 313.1,219.5 C312.5,223.9 310.5,228.5 309.5,232.9 C308.5,237.3 308.1,242.5 306.9,246.2 C305.7,249.9 304.9,252.1 302.4,255.1 C299.9,258.1 295.7,261.6 291.7,264.0 C287.7,266.4 282.8,268.1 278.4,269.3 C273.9,270.5 268.7,271.1 265.0,271.1 C261.3,271.1 259.1,270.0 256.2,269.3 C253.2,268.6 250.0,267.6 247.3,266.7 C244.6,265.8 242.2,263.7 240.1,264.0 C238.0,264.3 237.3,267.9 234.8,268.4 C232.3,268.8 228.4,268.2 225.0,266.7 C221.6,265.2 217.4,262.9 214.4,259.5 C211.4,256.1 209.1,249.9 207.2,246.2 C205.3,242.5 204.3,241.0 202.8,237.3 C201.3,233.6 199.3,228.4 198.3,224.0 C197.3,219.6 196.4,214.3 196.6,210.6 C196.8,206.9 198.0,205.4 199.2,201.7 C200.4,198.0 202.4,192.4 203.7,188.4 C205.0,184.4 205.9,180.7 207.2,177.7 C208.5,174.7 210.9,174.0 211.7,170.6 C212.4,167.2 211.4,162.5 211.7,157.3 C212.0,152.1 212.6,144.7 213.5,139.5 C214.4,134.3 215.8,130.1 217.0,126.1 C218.2,122.1 219.6,118.2 220.6,115.5 C221.6,112.8 221.1,111.6 223.2,110.1Z" fill="#d6d6d6" stroke="#d6d6d6" stroke-width="8" stroke-linejoin="round"/>
<path d="M212.5 185.9h0" stroke="#0d0887" stroke-width="9.40" stroke-linecap="round" fill="none"/><path d="M245.9 190.1h0M262.1 126.7h0M300.6 249.2h0M214.4 222.3h0M272.1 268.0h0M289.0 142.5h0M242.0 210.1h0M250.6 140.4h0" stroke="#41049d" stroke-width="9.40" stroke-linecap="round" fill="none"/><path d="M271.5 111.5h0M280.0 255.0h0M272.7 142.5h0M233.2 180.5h0M256.3 178.6h0M229.5 207.1h0M266.2 113.6h0M225.2 208.6h0M87.1 258.5h0M290.8 165.1h0M213.6 248.4h0M289.5 183.8h0M262.1 186.8h0M272.0 138.7h0M250.7 221.7h0M213.3 146.9h0M266.3 144.3h0M253.1 261.9h0M241.1 259.6h0M261.0 212.2h0" stroke="#6a00a8" stroke-width="9.40" stroke-linecap="round" fill="none"/><path d="M47.3 172.7h0M247.0 236.3h0M216.7 185.4h0M228.1 133.8h0M308.8 209.9h0M265.4 201.5h0M234.6 184.2h0M280.6 178.5h0M100.2 244.5h0M207.5 191.5h0M56.5 175.9h0M229.3 187.8h0M110.6 260.4h0M259.0 181.5h0M249.6 218.5h0M245.4 151.2h0M127.3 287.5h0M243.2 172.8h0M295.9 178.1h0M298.9 171.9h0M229.4 220.0h0M266.6 168.0h0M142.1 237.8h0M301.1 222.2h0M276.9 261.6h0" stroke="#8f0da4" stroke-width="9.40" stroke-linecap="round" fill="none"/><path d="M131.6 278.4h0M245.8 136.0h0M33.3 172.6h0M90.6 236.4h0M127.4 291.9h0M242.7 135.7h0M76.6 246.5h0M48.5 189.9h0M38.2 206.7h0M308.0 199.2h0M91.8 268.5h0M134.7 273.5h0M37.2 172.1h0M153.9 244.2h0M214.9 248.1h0M283.7 250.7h0M252.3 128.9h0M171.5 238.0h0M39.7 190.7h0M42.5 180.4h0M227.3 232.5h0M112.9 276.7h0M212.9 225.7h0M115.8 245.1h0M89.1 263.3h0M168.8 246.8h0M276.3 224.3h0M146.2 247.5h0M132.1 255.1h0M292.0 240.6h0M148.8 246.1h0M289.4 175.0h0M102.1 273.2h0M130.8 252.3h0M263.7 108.6h0M290.5 212.7h0M284.5 124.1h0M245.0 191.8h0M56.8 225.2h0M126.3 276.8h0M57.2 236.9h0M162.3 227.8h0M77.6 188.3h0" stroke="#b12a90" stroke-width="9.40" stroke-linecap="round" fill="none"/><path d="M130.5 257.7h0M158.8 264.1h0M46.4 173.6h0M98.0 252.3h0M47.1 178.9h0M104.4 274.9h0M71.9 239.2h0M97.3 244.5h0M153.3 230.1h0M135.0 288.8h0M56.8 185.5h0M132.1 269.6h0M153.7 252.8h0M108.4 224.8h0M38.3 206.7h0M33.3 186.9h0M142.2 258.7h0M101.8 277.3h0M264.9 139.8h0M106.1 258.0h0M51.2 216.2h0M144.3 243.4h0M128.0 254.7h0M119.9 273.8h0M270.8 264.0h0M37.9 203.5h0M47.7 223.3h0M139.7 241.7h0M157.5 252.7h0M120.2 263.1h0M119.1 234.9h0M153.3 252.2h0M39.1 211.3h0M137.3 259.1h0M137.0 276.9h0M49.0 197.5h0M117.8 258.0h0M101.7 251.6h0M148.5 285.7h0M144.4 230.8h0M143.1 272.2h0M45.1 180.3h0M145.1 231.7h0M234.5 124.6h0M131.7 257.2h0M110.0 280.8h0M67.6 238.2h0M76.2 245.2h0M104.8 273.8h0M160.3 253.2h0M40.6 182.7h0M79.3 237.6h0M92.3 238.5h0M142.6 229.6h0M107.3 237.7h0M151.8 234.5h0M122.6 270.6h0M133.3 283.1h0M97.8 253.8h0M46.3 221.7h0M155.2 246.4h0M173.2 240.5h0M72.9 182.3h0M41.3 211.7h0M41.4 220.1h0M268.2 122.6h0M98.4 252.4h0M159.0 242.9h0M36.4 199.3h0M230.3 205.4h0M40.0 204.9h0M145.8 258.2h0" stroke="#cc4778" stroke-width="9.40" stroke-linecap="round" fill="none"/><path d="M35.7 204.2h0M129.7 215.9h0M46.8 200.3h0M96.7 264.2h0M48.9 209.5h0M118.8 267.6h0M99.0 200.0h0M101.6 243.8h0M105.4 270.6h0M145.6 273.8h0M140.6 263.7h0M111.8 250.8h0M296.8 234.1h0M106.7 253.5h0M137.4 238.8h0M75.3 246.1h0M125.1 248.8h0M137.1 292.2h0M149.1 229.6h0M159.5 243.8h0M164.9 233.4h0M36.9 173.3h0M137.4 240.1h0M162.0 244.7h0M42.7 192.9h0M150.7 245.9h0M70.0 246.6h0M42.9 216.4h0M40.9 190.5h0M107.6 266.4h0M165.1 254.7h0M106.4 249.8h0M40.1 206.0h0M124.6 234.3h0M64.5 240.1h0M115.3 277.6h0M84.7 255.9h0M133.1 262.1h0M86.3 254.5h0M126.2 255.1h0M108.2 232.7h0M161.0 245.4h0M130.1 264.0h0M131.4 261.8h0M42.3 210.4h0M92.0 205.3h0M133.7 281.3h0M50.5 232.3h0M82.1 245.6h0M108.1 248.8h0M97.9 273.0h0M138.4 265.3h0M73.6 246.4h0M106.6 244.1h0M57.0 173.0h0M134.6 282.8h0M174.8 234.7h0M145.0 275.3h0M115.4 276.8h0M34.3 184.0h0M137.8 274.0h0M112.0 267.4h0M46.2 214.7h0M48.2 186.9h0M41.2 202.8h0M62.6 185.5h0M93.5 233.1h0M132.4 273.0h0M52.3 228.0h0M94.2 251.9h0M95.7 242.7h0M105.9 233.1h0M41.8 216.3h0M87.6 241.8h0M125.8 253.3h0M222.9 197.8h0M91.3 257.0h0M90.1 254.7h0M38.7 201.2h0M84.6 234.8h0M55.2 173.1h0M101.1 253.7h0M46.2 207.3h0M98.2 238.8h0M43.9 216.7h0M127.7 249.6h0M94.5 259.2h0" stroke="#e16462" stroke-width="9.40" stroke-linecap="round" fill="none"/><path d="M133.9 283.6h0M88.5 261.6h0M99.3 260.6h0M141.9 241.0h0M145.6 244.6h0M141.8 290.9h0M87.4 200.0h0M121.3 291.1h0M72.8 242.7h0M64.8 241.7h0M41.9 171.8h0M171.8 227.9h0M82.0 247.8h0M92.7 251.5h0M135.2 276.3h0M122.0 272.7h0M36.9 177.6h0M107.7 275.1h0M89.1 241.7h0M45.6 188.3h0M124.3 287.6h0M48.5 212.9h0M37.6 193.8h0M100.7 211.0h0M66.3 184.1h0M172.3 227.0h0M133.4 292.3h0M68.1 237.3h0M66.6 179.8h0M73.2 245.9h0M64.8 235.5h0M45.7 177.3h0M138.6 287.1h0M117.9 255.3h0M147.3 285.9h0M159.7 264.8h0M133.4 261.2h0M100.7 200.3h0M76.7 244.4h0M91.2 261.4h0M84.8 249.9h0M121.1 267.3h0M166.9 234.1h0M131.7 272.4h0M123.4 241.6h0M49.1 189.0h0M150.3 269.9h0M167.2 238.1h0M132.2 252.0h0M148.7 233.4h0M136.9 288.2h0M152.2 270.3h0M52.4 178.1h0M110.0 253.4h0M46.9 208.8h0M135.0 289.2h0M82.3 189.4h0M44.1 212.2h0M135.6 241.2h0M52.1 226.5h0M175.0 234.8h0M78.7 187.0h0M48.5 184.1h0M158.4 253.3h0M33.0 174.5h0M90.3 262.1h0M40.1 182.1h0M42.5 172.4h0M156.9 237.6h0M41.2 180.5h0M122.7 256.0h0M152.5 278.3h0M64.4 237.5h0M57.3 178.6h0M126.0 288.5h0M106.9 271.7h0M75.9 189.7h0M52.8 219.4h0M93.4 238.0h0M33.3 185.4h0M50.3 178.7h0M144.6 249.5h0M66.8 180.9h0M145.0 283.6h0M50.2 182.4h0M120.6 285.2h0M77.2 188.5h0M63.0 182.7h0M43.5 204.0h0M89.4 262.9h0M161.7 258.3h0M107.1 238.1h0M137.6 255.1h0M149.7 244.7h0M165.1 239.6h0M130.2 278.0h0M129.0 283.1h0M113.8 243.9h0M43.0 209.2h0" stroke="#f2844b" stroke-width="9.40" stroke-linecap="round" fill="none"/><path d="M145.7 273.0h0M131.9 243.0h0M105.3 235.3h0M162.0 254.3h0M77.3 241.9h0M133.0 261.1h0M57.7 172.5h0M75.2 188.6h0M152.6 252.3h0M48.3 214.2h0M127.9 290.6h0M106.0 252.5h0M34.8 196.9h0M84.8 244.9h0M38.5 210.1h0M153.3 253.2h0M53.0 230.2h0M137.7 257.1h0M143.4 264.3h0M126.2 273.3h0M135.5 260.3h0M130.3 291.0h0M126.3 246.5h0M81.4 257.8h0M163.4 235.4h0M42.6 212.0h0M107.0 264.4h0M123.1 270.4h0M134.7 224.1h0M58.5 233.7h0M81.4 211.4h0M134.4 274.4h0M132.2 256.2h0M43.4 207.2h0M124.3 284.3h0M132.2 281.1h0M110.9 282.5h0M113.6 271.0h0" stroke="#fca636" stroke-width="9.40" stroke-linecap="round" fill="none"/><path d="M119.4 254.6h0M47.9 215.4h0M120.7 277.5h0M162.3 243.0h0M86.7 255.6h0M46.8 194.0h0M164.1 238.0h0M179.2 223.8h0M121.6 286.4h0M45.0 181.6h0M133.7 281.3h0M44.7 207.4h0" stroke="#fcce25" stroke-width="9.40" stroke-linecap="round" fill="none"/><path d="M94.0 220.2h0" stroke="#f0f921" stroke-width="9.40" stroke-linecap="round" fill="none"/>
</g>
<text x="1608.0" y="117.2" font-size="23.5" text-anchor="middle" font-style="italic">Gzmb</text>
<g transform="translate(1163.9,266.8) scale(0.548)">
<path d="M31.9,169.0 C32.8,166.8 35.3,166.8 38.0,166.5 C40.7,166.2 44.4,166.4 47.9,167.5 C51.4,168.6 55.5,171.3 59.3,173.2 C63.1,175.1 67.3,177.0 70.7,179.0 C74.1,181.0 77.6,182.8 79.9,185.0 C82.2,187.2 84.2,190.4 84.5,192.0 C84.8,193.6 83.3,194.6 82.0,194.5 C80.7,194.4 79.3,192.8 76.5,191.5 C73.7,190.2 68.2,187.9 65.0,187.0 C61.8,186.1 59.4,185.5 57.0,186.0 C54.6,186.5 51.9,187.7 50.5,190.0 C49.1,192.3 48.7,196.4 48.5,200.0 C48.3,203.6 48.4,207.6 49.5,211.5 C50.6,215.4 52.4,220.0 55.0,223.5 C57.6,227.0 61.4,230.3 65.0,232.5 C68.6,234.7 72.7,236.2 76.5,236.5 C80.3,236.8 84.1,234.8 88.0,234.0 C91.9,233.2 95.2,232.4 100.0,232.0 C104.8,231.6 111.8,231.7 116.5,231.5 C121.2,231.3 124.1,231.2 127.9,230.9 C131.7,230.6 135.6,230.4 139.4,229.8 C143.2,229.2 147.0,228.1 150.8,227.5 C154.6,226.9 158.4,226.9 162.2,226.3 C166.0,225.7 170.3,224.8 173.7,224.0 C177.1,223.2 181.9,221.0 182.8,221.8 C183.8,222.6 181.1,225.2 179.4,228.6 C177.7,232.0 174.8,237.9 172.5,242.3 C170.2,246.7 167.8,251.8 165.7,254.9 C163.6,257.9 160.8,258.5 160.0,260.6 C159.2,262.7 161.7,265.6 161.1,267.5 C160.5,269.4 157.8,270.0 156.5,272.1 C155.2,274.2 154.4,277.4 153.1,280.1 C151.8,282.8 150.8,285.8 148.5,288.1 C146.2,290.4 142.8,292.7 139.4,293.8 C136.0,294.9 131.7,295.8 127.9,295.0 C124.1,294.2 120.7,291.7 116.5,289.2 C112.3,286.7 107.4,283.5 102.8,280.1 C98.2,276.7 93.0,272.4 89.0,268.6 C85.0,264.8 81.1,260.2 78.8,257.2 C76.5,254.1 78.0,252.8 75.3,250.3 C72.6,247.8 66.7,245.2 62.7,242.3 C58.7,239.5 54.7,236.4 51.3,233.2 C47.9,230.0 44.7,226.5 42.2,222.9 C39.7,219.3 37.8,216.3 36.4,211.5 C35.0,206.7 34.8,199.6 34.1,194.3 C33.4,189.1 32.8,184.2 32.4,180.0 C32.0,175.8 31.0,171.2 31.9,169.0Z" fill="#d6d6d6" stroke="#d6d6d6" stroke-width="8" stroke-linejoin="round"/><path d="M83.0,195.0 C85.3,194.2 91.2,196.7 95.0,197.5 C98.8,198.3 102.2,199.1 106.0,200.0 C109.8,200.9 114.3,201.8 118.0,203.0 C121.7,204.2 125.2,205.2 128.0,207.0 C130.8,208.8 133.7,211.2 135.0,214.0 C136.3,216.8 137.2,221.3 136.0,224.0 C134.8,226.7 131.3,228.8 128.0,230.0 C124.7,231.2 120.7,230.8 116.0,231.0 C111.3,231.2 104.7,231.1 100.0,231.5 C95.3,231.9 91.3,233.9 88.0,233.5 C84.7,233.1 81.3,232.2 80.0,229.0 C78.7,225.8 79.8,218.5 80.0,214.0 C80.2,209.5 80.5,205.2 81.0,202.0 C81.5,198.8 80.7,195.8 83.0,195.0Z" fill="#d6d6d6" stroke="#d6d6d6" stroke-width="8" stroke-linejoin="round"/><path d="M140.0,226.0 C143.0,222.7 153.7,223.5 160.0,222.0 C166.3,220.5 173.2,218.5 178.0,217.0 C182.8,215.5 186.7,212.7 189.0,213.0 C191.3,213.3 192.5,216.0 192.0,219.0 C191.5,222.0 188.0,226.8 186.0,231.0 C184.0,235.2 181.3,239.7 180.0,244.0 C178.7,248.3 180.3,254.0 178.0,257.0 C175.7,260.0 170.0,261.8 166.0,262.0 C162.0,262.2 158.0,261.3 154.0,258.0 C150.0,254.7 144.3,247.3 142.0,242.0 C139.7,236.7 137.0,229.3 140.0,226.0Z" fill="#d6d6d6" stroke="#d6d6d6" stroke-width="8" stroke-linejoin="round"/><path d="M160.0,243.0 C162.2,239.5 170.3,238.8 175.0,236.0 C179.7,233.2 184.5,228.7 188.0,226.0 C191.5,223.3 194.0,218.5 196.0,220.0 C198.0,221.5 199.5,229.0 200.0,235.0 C200.5,241.0 200.0,251.5 199.0,256.0 C198.0,260.5 198.0,260.8 194.0,262.0 C190.0,263.2 180.3,263.8 175.0,263.0 C169.7,262.2 164.5,260.3 162.0,257.0 C159.5,253.7 157.8,246.5 160.0,243.0Z" fill="#d6d6d6" stroke="#d6d6d6" stroke-width="8" stroke-linejoin="round"/><path d="M223.2,110.1 C225.3,108.6 229.0,107.0 233.0,106.6 C237.0,106.2 242.7,107.6 247.3,107.9 C251.9,108.2 256.9,108.2 260.6,108.3 C264.3,108.4 266.5,107.5 269.5,108.3 C272.5,109.0 275.7,110.7 278.4,112.8 C281.1,114.9 283.7,117.8 285.5,120.8 C287.3,123.8 288.1,126.8 289.1,130.6 C290.1,134.4 289.8,139.4 291.7,143.9 C293.6,148.4 298.8,152.9 300.6,157.3 C302.4,161.8 301.8,166.2 302.4,170.6 C303.0,175.0 302.7,179.6 304.2,184.0 C305.7,188.4 309.8,193.6 311.3,197.3 C312.8,201.0 312.8,202.5 313.1,206.2 C313.4,209.9 313.7,215.1 313.1,219.5 C312.5,223.9 310.5,228.5 309.5,232.9 C308.5,237.3 308.1,242.5 306.9,246.2 C305.7,249.9 304.9,252.1 302.4,255.1 C299.9,258.1 295.7,261.6 291.7,264.0 C287.7,266.4 282.8,268.1 278.4,269.3 C273.9,270.5 268.7,271.1 265.0,271.1 C261.3,271.1 259.1,270.0 256.2,269.3 C253.2,268.6 250.0,267.6 247.3,266.7 C244.6,265.8 242.2,263.7 240.1,264.0 C238.0,264.3 237.3,267.9 234.8,268.4 C232.3,268.8 228.4,268.2 225.0,266.7 C221.6,265.2 217.4,262.9 214.4,259.5 C211.4,256.1 209.1,249.9 207.2,246.2 C205.3,242.5 204.3,241.0 202.8,237.3 C201.3,233.6 199.3,228.4 198.3,224.0 C197.3,219.6 196.4,214.3 196.6,210.6 C196.8,206.9 198.0,205.4 199.2,201.7 C200.4,198.0 202.4,192.4 203.7,188.4 C205.0,184.4 205.9,180.7 207.2,177.7 C208.5,174.7 210.9,174.0 211.7,170.6 C212.4,167.2 211.4,162.5 211.7,157.3 C212.0,152.1 212.6,144.7 213.5,139.5 C214.4,134.3 215.8,130.1 217.0,126.1 C218.2,122.1 219.6,118.2 220.6,115.5 C221.6,112.8 221.1,111.6 223.2,110.1Z" fill="#d6d6d6" stroke="#d6d6d6" stroke-width="8" stroke-linejoin="round"/>
<path d="M207.8 231.2h0M257.2 109.3h0" stroke="#0d0887" stroke-width="9.40" stroke-linecap="round" fill="none"/><path d="M225.8 161.3h0M265.7 153.8h0M242.4 218.9h0" stroke="#41049d" stroke-width="9.40" stroke-linecap="round" fill="none"/><path d="M232.5 117.8h0M50.8 183.0h0M283.7 249.0h0M174.6 237.3h0M285.1 259.1h0M301.9 233.9h0M285.2 201.9h0M281.8 128.3h0M213.7 227.1h0M305.8 244.1h0M278.5 213.8h0M280.6 248.4h0M209.2 240.6h0M242.3 125.9h0M264.0 170.0h0M272.7 134.1h0" stroke="#6a00a8" stroke-width="9.40" stroke-linecap="round" fill="none"/><path d="M243.8 205.8h0M240.5 221.6h0M120.7 271.0h0M83.4 260.6h0M89.8 263.5h0M200.3 222.5h0M123.6 235.5h0M145.2 288.3h0M232.7 260.3h0M222.2 185.3h0M288.2 178.5h0M240.5 127.5h0M69.5 181.5h0M288.2 235.6h0M248.7 174.9h0M248.4 121.6h0M47.5 175.3h0M85.6 260.6h0M233.8 211.0h0M297.8 258.4h0M228.7 258.9h0M78.1 185.7h0M299.4 176.7h0M50.0 176.3h0M311.8 215.3h0M154.5 234.6h0M254.7 117.3h0M235.4 193.4h0M245.9 135.7h0" stroke="#8f0da4" stroke-width="9.40" stroke-linecap="round" fill="none"/><path d="M230.8 148.4h0M87.0 259.5h0M108.2 258.4h0M142.6 262.6h0M38.2 169.4h0M45.0 197.7h0M104.1 279.6h0M33.2 178.6h0M70.2 239.3h0M278.5 243.6h0M34.3 185.7h0M141.5 285.6h0M125.5 231.9h0M302.6 237.0h0M134.5 245.8h0M305.9 218.0h0M133.0 273.1h0M50.2 178.9h0M237.1 159.7h0M51.1 229.3h0M230.2 260.5h0M167.7 240.4h0M36.6 182.6h0M227.7 123.7h0M56.9 235.8h0M33.7 174.4h0M38.1 186.6h0M256.8 224.2h0M77.4 242.9h0M59.4 184.6h0M225.8 240.2h0M82.7 240.8h0M213.4 177.1h0M205.7 208.6h0M42.8 170.9h0M291.3 213.5h0" stroke="#b12a90" stroke-width="9.40" stroke-linecap="round" fill="none"/><path d="M52.3 184.8h0M91.5 252.8h0M109.0 277.5h0M38.1 172.0h0M137.8 256.7h0M118.1 258.4h0M151.4 271.9h0M114.0 259.8h0M82.6 192.0h0M84.3 244.8h0M141.4 233.5h0M250.7 246.5h0M280.8 195.9h0M155.3 271.7h0M120.6 244.3h0M59.6 234.9h0M48.7 172.4h0M76.8 243.3h0M149.3 276.4h0M139.3 234.9h0M105.5 240.1h0M121.7 249.2h0M124.5 292.1h0M104.7 265.6h0M104.7 260.6h0M125.5 253.2h0M161.5 253.2h0M158.8 265.5h0M82.0 225.1h0M124.2 287.0h0M133.1 247.4h0M106.3 257.6h0M136.9 273.4h0M115.1 266.6h0M171.5 230.8h0M300.7 227.3h0M133.8 250.7h0M54.4 171.9h0M106.5 277.2h0M152.4 245.1h0M146.5 262.4h0M219.4 199.1h0M45.4 175.6h0M39.0 192.7h0M46.4 195.1h0M41.4 191.0h0M134.6 292.9h0M33.2 169.3h0M79.3 244.3h0M51.4 184.4h0M77.1 184.9h0M102.6 243.4h0M99.7 258.3h0M62.3 184.2h0M53.8 187.7h0M42.3 185.5h0M152.0 267.9h0M61.5 236.7h0M127.0 258.8h0M298.4 154.2h0M290.2 160.0h0M44.4 169.9h0M253.7 184.5h0M48.4 207.8h0M49.4 172.6h0M144.9 232.6h0M277.4 159.2h0M42.9 193.1h0M42.8 190.7h0M106.1 251.7h0M148.5 238.3h0M122.8 258.3h0M154.0 268.9h0M111.8 235.4h0M152.6 276.2h0M41.9 190.8h0M44.4 167.6h0M135.8 264.5h0M50.3 178.8h0M46.9 205.9h0M73.2 238.9h0M265.5 182.2h0M147.6 242.8h0" stroke="#cc4778" stroke-width="9.40" stroke-linecap="round" fill="none"/><path d="M112.4 250.3h0M39.0 174.1h0M127.9 255.3h0M54.5 225.7h0M138.8 230.8h0M96.3 258.7h0M151.7 277.1h0M118.0 266.4h0M44.0 210.6h0M215.5 193.8h0M45.6 219.8h0M56.3 224.9h0M154.3 258.6h0M110.3 269.4h0M159.3 255.2h0M143.3 263.3h0M119.3 238.2h0M155.0 246.7h0M157.7 265.9h0M36.4 188.6h0M173.9 237.4h0M136.7 281.7h0M103.3 254.0h0M36.9 192.0h0M74.9 241.1h0M115.8 233.2h0M151.1 282.1h0M72.2 242.3h0M90.3 244.4h0M120.3 243.0h0M113.4 276.6h0M176.8 226.7h0M107.6 263.6h0M102.5 271.3h0M73.2 186.1h0M122.2 285.7h0M95.9 256.9h0M143.1 235.9h0M156.2 253.7h0M123.6 280.3h0M85.3 257.6h0M103.0 232.2h0M122.8 232.2h0M120.3 236.2h0M149.6 234.6h0M99.8 272.5h0M83.6 243.6h0M142.2 230.5h0M36.8 208.9h0M115.1 281.8h0M37.9 184.7h0M43.0 194.2h0M124.7 237.7h0M167.3 250.2h0M66.7 235.1h0M150.0 250.4h0M140.3 256.3h0M272.9 262.9h0M146.2 279.2h0M166.2 245.2h0M37.5 175.4h0M46.8 224.3h0M66.6 237.9h0M38.1 204.6h0M70.3 246.3h0M101.0 246.0h0M137.8 242.7h0M43.4 215.3h0M158.6 239.3h0M120.3 216.4h0M106.5 219.1h0M82.5 243.5h0M144.2 267.6h0M141.1 284.0h0M104.8 237.4h0M138.8 240.7h0M81.0 238.2h0M158.7 230.6h0M128.9 266.7h0M50.4 177.0h0M36.5 199.7h0M93.0 268.2h0M272.1 201.5h0M56.2 185.4h0M164.7 231.4h0M38.2 168.8h0M113.5 248.5h0M41.9 200.1h0M121.0 241.8h0M92.2 251.0h0M137.3 239.2h0M124.6 243.6h0M112.5 267.7h0M145.9 270.6h0M176.9 231.8h0M40.5 176.4h0M159.0 242.4h0M38.1 213.7h0M130.4 293.5h0M165.5 233.4h0M36.3 207.8h0M268.3 145.3h0M135.5 236.0h0M41.3 177.0h0M51.0 187.0h0M122.1 289.3h0" stroke="#e16462" stroke-width="9.40" stroke-linecap="round" fill="none"/><path d="M112.4 271.7h0M43.9 172.5h0M150.6 250.0h0M166.9 246.4h0M167.9 229.7h0M108.7 266.5h0M154.2 266.6h0M62.0 180.7h0M142.7 245.2h0M91.4 265.4h0M143.9 253.1h0M97.1 265.5h0M152.7 279.5h0M157.8 262.8h0M132.7 290.4h0M108.1 271.8h0M141.5 257.2h0M162.1 243.7h0M154.7 252.1h0M149.4 285.0h0M155.1 255.9h0M47.8 213.0h0M79.7 191.3h0M167.4 248.6h0M89.6 266.1h0M126.2 267.1h0M121.3 232.4h0M163.8 231.2h0M127.3 264.5h0M114.8 281.0h0M142.2 292.0h0M45.4 173.7h0M40.9 189.5h0M141.8 229.7h0M142.8 272.3h0M131.6 239.8h0M84.3 243.8h0M147.7 277.6h0M163.2 228.6h0M76.1 187.5h0M144.8 282.6h0M123.1 244.2h0M137.1 234.7h0M93.4 241.4h0M126.0 237.8h0M137.3 242.0h0M134.9 276.9h0M163.0 255.9h0M131.2 271.4h0M159.1 267.4h0M34.2 168.8h0M130.7 238.7h0M80.9 247.6h0M166.9 232.1h0M98.9 237.7h0M127.6 254.6h0M150.8 254.6h0M35.9 169.8h0M84.1 203.4h0M138.2 291.4h0M157.6 234.3h0M37.3 193.2h0M87.7 249.3h0M34.2 169.9h0M113.9 281.0h0M134.5 243.9h0M113.4 250.8h0M56.2 174.8h0M308.6 201.8h0M86.5 250.3h0M86.5 240.9h0M39.8 194.6h0M99.2 253.0h0M115.6 245.8h0M92.0 259.6h0M168.8 233.0h0M44.9 199.3h0M57.3 179.3h0M152.4 257.9h0M142.7 248.3h0M120.3 252.9h0M153.6 272.6h0M83.9 243.6h0M78.0 254.3h0M41.8 219.6h0M155.9 243.7h0M38.5 189.5h0M150.0 245.5h0M105.7 279.5h0M141.9 230.2h0" stroke="#f2844b" stroke-width="9.40" stroke-linecap="round" fill="none"/><path d="M133.7 215.2h0M126.6 222.5h0M72.5 181.4h0M48.2 195.7h0M41.5 179.7h0M170.4 232.9h0M130.4 282.3h0M140.3 273.0h0M136.3 244.1h0M50.4 222.1h0M165.4 230.4h0M74.6 181.9h0M156.1 235.8h0M113.8 256.4h0M94.5 200.1h0M143.3 279.7h0M98.7 270.8h0M104.7 249.3h0M87.2 198.5h0M121.4 281.8h0M126.6 258.3h0M135.6 267.8h0M43.5 209.0h0M41.3 169.3h0M115.0 279.8h0M91.4 244.6h0M48.5 175.0h0M130.3 257.5h0M135.0 276.9h0M110.4 275.1h0M147.2 249.3h0M159.4 251.6h0M41.8 218.6h0M143.1 252.6h0M105.9 259.5h0M131.7 273.5h0M140.3 246.2h0M128.1 274.2h0M103.5 238.5h0M96.0 263.6h0M149.6 231.4h0M59.8 230.4h0M112.3 257.5h0M62.0 234.7h0" stroke="#fca636" stroke-width="9.40" stroke-linecap="round" fill="none"/><path d="M43.3 185.6h0M134.2 284.9h0M167.2 239.0h0M143.0 279.1h0M77.8 245.1h0M128.2 238.4h0M142.1 283.6h0M45.7 192.3h0M115.8 255.5h0M56.7 181.5h0M139.2 257.6h0M156.3 253.1h0M134.6 287.6h0M49.6 180.6h0M116.1 256.2h0M106.2 241.4h0M38.7 172.1h0M144.4 266.8h0" stroke="#fcce25" stroke-width="9.40" stroke-linecap="round" fill="none"/><path d="M88.6 219.9h0M126.7 222.4h0" stroke="#f0f921" stroke-width="9.40" stroke-linecap="round" fill="none"/>
</g>
<text x="1247.7" y="285.9" font-size="23.5" text-anchor="middle" font-style="italic">Ifng</text>
<g transform="translate(1348.9,266.8) scale(0.548)">
<path d="M31.9,169.0 C32.8,166.8 35.3,166.8 38.0,166.5 C40.7,166.2 44.4,166.4 47.9,167.5 C51.4,168.6 55.5,171.3 59.3,173.2 C63.1,175.1 67.3,177.0 70.7,179.0 C74.1,181.0 77.6,182.8 79.9,185.0 C82.2,187.2 84.2,190.4 84.5,192.0 C84.8,193.6 83.3,194.6 82.0,194.5 C80.7,194.4 79.3,192.8 76.5,191.5 C73.7,190.2 68.2,187.9 65.0,187.0 C61.8,186.1 59.4,185.5 57.0,186.0 C54.6,186.5 51.9,187.7 50.5,190.0 C49.1,192.3 48.7,196.4 48.5,200.0 C48.3,203.6 48.4,207.6 49.5,211.5 C50.6,215.4 52.4,220.0 55.0,223.5 C57.6,227.0 61.4,230.3 65.0,232.5 C68.6,234.7 72.7,236.2 76.5,236.5 C80.3,236.8 84.1,234.8 88.0,234.0 C91.9,233.2 95.2,232.4 100.0,232.0 C104.8,231.6 111.8,231.7 116.5,231.5 C121.2,231.3 124.1,231.2 127.9,230.9 C131.7,230.6 135.6,230.4 139.4,229.8 C143.2,229.2 147.0,228.1 150.8,227.5 C154.6,226.9 158.4,226.9 162.2,226.3 C166.0,225.7 170.3,224.8 173.7,224.0 C177.1,223.2 181.9,221.0 182.8,221.8 C183.8,222.6 181.1,225.2 179.4,228.6 C177.7,232.0 174.8,237.9 172.5,242.3 C170.2,246.7 167.8,251.8 165.7,254.9 C163.6,257.9 160.8,258.5 160.0,260.6 C159.2,262.7 161.7,265.6 161.1,267.5 C160.5,269.4 157.8,270.0 156.5,272.1 C155.2,274.2 154.4,277.4 153.1,280.1 C151.8,282.8 150.8,285.8 148.5,288.1 C146.2,290.4 142.8,292.7 139.4,293.8 C136.0,294.9 131.7,295.8 127.9,295.0 C124.1,294.2 120.7,291.7 116.5,289.2 C112.3,286.7 107.4,283.5 102.8,280.1 C98.2,276.7 93.0,272.4 89.0,268.6 C85.0,264.8 81.1,260.2 78.8,257.2 C76.5,254.1 78.0,252.8 75.3,250.3 C72.6,247.8 66.7,245.2 62.7,242.3 C58.7,239.5 54.7,236.4 51.3,233.2 C47.9,230.0 44.7,226.5 42.2,222.9 C39.7,219.3 37.8,216.3 36.4,211.5 C35.0,206.7 34.8,199.6 34.1,194.3 C33.4,189.1 32.8,184.2 32.4,180.0 C32.0,175.8 31.0,171.2 31.9,169.0Z" fill="#d6d6d6" stroke="#d6d6d6" stroke-width="8" stroke-linejoin="round"/><path d="M83.0,195.0 C85.3,194.2 91.2,196.7 95.0,197.5 C98.8,198.3 102.2,199.1 106.0,200.0 C109.8,200.9 114.3,201.8 118.0,203.0 C121.7,204.2 125.2,205.2 128.0,207.0 C130.8,208.8 133.7,211.2 135.0,214.0 C136.3,216.8 137.2,221.3 136.0,224.0 C134.8,226.7 131.3,228.8 128.0,230.0 C124.7,231.2 120.7,230.8 116.0,231.0 C111.3,231.2 104.7,231.1 100.0,231.5 C95.3,231.9 91.3,233.9 88.0,233.5 C84.7,233.1 81.3,232.2 80.0,229.0 C78.7,225.8 79.8,218.5 80.0,214.0 C80.2,209.5 80.5,205.2 81.0,202.0 C81.5,198.8 80.7,195.8 83.0,195.0Z" fill="#d6d6d6" stroke="#d6d6d6" stroke-width="8" stroke-linejoin="round"/><path d="M140.0,226.0 C143.0,222.7 153.7,223.5 160.0,222.0 C166.3,220.5 173.2,218.5 178.0,217.0 C182.8,215.5 186.7,212.7 189.0,213.0 C191.3,213.3 192.5,216.0 192.0,219.0 C191.5,222.0 188.0,226.8 186.0,231.0 C184.0,235.2 181.3,239.7 180.0,244.0 C178.7,248.3 180.3,254.0 178.0,257.0 C175.7,260.0 170.0,261.8 166.0,262.0 C162.0,262.2 158.0,261.3 154.0,258.0 C150.0,254.7 144.3,247.3 142.0,242.0 C139.7,236.7 137.0,229.3 140.0,226.0Z" fill="#d6d6d6" stroke="#d6d6d6" stroke-width="8" stroke-linejoin="round"/><path d="M160.0,243.0 C162.2,239.5 170.3,238.8 175.0,236.0 C179.7,233.2 184.5,228.7 188.0,226.0 C191.5,223.3 194.0,218.5 196.0,220.0 C198.0,221.5 199.5,229.0 200.0,235.0 C200.5,241.0 200.0,251.5 199.0,256.0 C198.0,260.5 198.0,260.8 194.0,262.0 C190.0,263.2 180.3,263.8 175.0,263.0 C169.7,262.2 164.5,260.3 162.0,257.0 C159.5,253.7 157.8,246.5 160.0,243.0Z" fill="#d6d6d6" stroke="#d6d6d6" stroke-width="8" stroke-linejoin="round"/><path d="M223.2,110.1 C225.3,108.6 229.0,107.0 233.0,106.6 C237.0,106.2 242.7,107.6 247.3,107.9 C251.9,108.2 256.9,108.2 260.6,108.3 C264.3,108.4 266.5,107.5 269.5,108.3 C272.5,109.0 275.7,110.7 278.4,112.8 C281.1,114.9 283.7,117.8 285.5,120.8 C287.3,123.8 288.1,126.8 289.1,130.6 C290.1,134.4 289.8,139.4 291.7,143.9 C293.6,148.4 298.8,152.9 300.6,157.3 C302.4,161.8 301.8,166.2 302.4,170.6 C303.0,175.0 302.7,179.6 304.2,184.0 C305.7,188.4 309.8,193.6 311.3,197.3 C312.8,201.0 312.8,202.5 313.1,206.2 C313.4,209.9 313.7,215.1 313.1,219.5 C312.5,223.9 310.5,228.5 309.5,232.9 C308.5,237.3 308.1,242.5 306.9,246.2 C305.7,249.9 304.9,252.1 302.4,255.1 C299.9,258.1 295.7,261.6 291.7,264.0 C287.7,266.4 282.8,268.1 278.4,269.3 C273.9,270.5 268.7,271.1 265.0,271.1 C261.3,271.1 259.1,270.0 256.2,269.3 C253.2,268.6 250.0,267.6 247.3,266.7 C244.6,265.8 242.2,263.7 240.1,264.0 C238.0,264.3 237.3,267.9 234.8,268.4 C232.3,268.8 228.4,268.2 225.0,266.7 C221.6,265.2 217.4,262.9 214.4,259.5 C211.4,256.1 209.1,249.9 207.2,246.2 C205.3,242.5 204.3,241.0 202.8,237.3 C201.3,233.6 199.3,228.4 198.3,224.0 C197.3,219.6 196.4,214.3 196.6,210.6 C196.8,206.9 198.0,205.4 199.2,201.7 C200.4,198.0 202.4,192.4 203.7,188.4 C205.0,184.4 205.9,180.7 207.2,177.7 C208.5,174.7 210.9,174.0 211.7,170.6 C212.4,167.2 211.4,162.5 211.7,157.3 C212.0,152.1 212.6,144.7 213.5,139.5 C214.4,134.3 215.8,130.1 217.0,126.1 C218.2,122.1 219.6,118.2 220.6,115.5 C221.6,112.8 221.1,111.6 223.2,110.1Z" fill="#d6d6d6" stroke="#d6d6d6" stroke-width="8" stroke-linejoin="round"/>
<path d="M305.2 193.3h0M278.0 210.6h0M292.7 179.9h0M307.8 216.7h0M279.5 132.6h0M81.7 248.3h0M259.3 241.3h0M281.9 219.7h0M82.5 246.3h0M292.2 197.8h0" stroke="#41049d" stroke-width="9.40" stroke-linecap="round" fill="none"/><path d="M250.3 246.6h0M89.6 202.0h0M238.3 184.9h0M287.1 181.2h0M257.8 213.3h0M115.3 275.0h0M259.3 210.9h0M242.8 251.3h0M263.4 249.4h0M143.3 281.7h0M67.6 184.7h0M234.0 116.6h0M41.3 211.7h0M133.6 293.5h0M259.9 114.7h0M222.0 118.1h0M65.2 178.7h0" stroke="#6a00a8" stroke-width="9.40" stroke-linecap="round" fill="none"/><path d="M249.0 137.3h0M143.5 236.6h0M242.0 250.7h0M263.8 126.7h0M303.8 192.0h0M64.9 181.1h0M223.5 160.7h0M90.3 261.8h0M126.3 279.2h0M270.9 175.9h0M74.3 242.5h0M108.8 257.0h0M139.7 265.6h0M238.6 189.5h0M229.5 219.7h0M102.3 257.4h0M39.3 171.3h0M287.3 256.6h0M215.3 172.4h0M289.3 188.9h0M150.7 282.9h0M51.4 177.8h0M295.0 176.0h0M247.4 115.0h0M227.0 247.2h0M294.0 200.5h0M266.6 187.9h0M35.6 194.8h0M161.8 243.9h0M169.5 241.3h0M43.4 183.8h0M278.4 118.8h0M51.8 226.0h0M45.2 224.9h0M131.3 279.6h0M118.0 267.3h0M257.1 133.2h0M307.1 195.1h0M97.3 259.4h0M278.4 129.7h0M51.6 187.5h0M60.9 229.2h0M284.6 261.6h0M72.9 184.0h0M43.6 217.5h0M224.7 171.0h0M280.0 238.8h0M49.1 194.0h0M37.0 183.6h0M161.3 233.3h0M293.3 257.3h0M74.1 237.2h0M175.3 236.5h0" stroke="#8f0da4" stroke-width="9.40" stroke-linecap="round" fill="none"/><path d="M142.9 260.6h0M284.3 264.0h0M136.7 281.7h0M136.0 284.6h0M68.7 186.6h0M157.4 238.3h0M75.3 247.3h0M297.2 201.3h0M164.9 239.7h0M130.2 262.4h0M115.5 246.8h0M294.2 221.0h0M113.8 258.3h0M131.7 282.7h0M241.7 199.3h0M53.4 224.4h0M135.2 284.1h0M151.4 241.2h0M33.3 174.3h0M112.7 254.3h0M283.8 153.5h0M156.0 252.8h0M75.7 246.7h0M297.5 226.9h0M43.1 169.9h0M275.9 139.5h0M41.8 200.3h0M274.7 257.6h0M239.2 153.0h0M278.9 134.4h0M300.3 204.3h0M259.1 204.8h0M260.2 153.9h0M259.8 228.8h0M81.9 193.5h0M247.1 202.4h0M131.5 279.7h0M47.6 219.1h0M175.0 230.9h0M220.2 137.1h0M249.2 127.9h0M149.7 253.4h0M37.6 172.9h0M67.6 182.4h0M228.5 118.3h0M137.0 248.4h0M50.4 217.9h0M290.7 255.7h0M218.9 209.3h0M89.3 247.3h0M99.7 242.0h0M144.5 267.8h0M198.0 215.1h0M265.4 139.6h0M142.3 267.7h0M263.7 261.8h0M262.3 110.8h0M261.3 269.4h0M154.4 263.3h0M156.2 232.4h0M79.3 191.2h0M297.0 185.4h0M199.2 207.6h0M87.8 247.3h0M89.8 236.7h0M48.2 225.1h0M297.0 194.8h0M219.6 220.8h0M41.8 171.5h0M96.2 267.0h0M46.5 198.3h0M62.7 233.8h0M42.3 185.5h0M232.7 186.5h0M259.5 213.0h0M161.7 251.0h0M266.2 143.7h0M237.9 263.5h0M229.9 142.6h0M57.9 184.9h0M218.8 158.5h0M46.7 181.1h0M112.0 243.1h0M270.3 174.1h0M76.5 241.1h0M279.7 204.0h0M97.0 239.4h0M85.0 241.9h0M233.0 223.5h0M111.9 262.1h0M243.9 244.8h0M233.4 108.0h0M143.6 267.9h0M119.5 269.0h0M117.9 279.7h0M123.3 292.2h0M159.2 244.5h0M79.2 241.1h0" stroke="#b12a90" stroke-width="9.40" stroke-linecap="round" fill="none"/><path d="M255.8 181.2h0M209.5 237.5h0M41.7 169.6h0M121.1 241.2h0M131.4 256.1h0M95.2 226.6h0M133.1 272.8h0M85.6 234.8h0M141.5 276.4h0M113.6 267.1h0M152.6 231.5h0M144.5 269.9h0M42.4 216.6h0M49.5 220.9h0M263.1 209.5h0M77.4 186.2h0M138.4 287.2h0M44.1 170.0h0M129.1 292.0h0M273.9 152.0h0M290.4 244.6h0M229.0 162.0h0M100.8 253.3h0M149.9 279.0h0M126.2 278.3h0M135.9 232.3h0M147.9 240.9h0M280.5 179.2h0M113.2 261.1h0M287.9 133.2h0M70.5 234.6h0M257.1 159.9h0M108.6 232.2h0M114.7 255.1h0M150.7 283.7h0M153.1 241.2h0M126.6 269.2h0M36.5 207.6h0M140.5 251.0h0M118.1 269.8h0M44.7 216.7h0M112.2 271.0h0M36.4 206.7h0M147.6 273.2h0M225.7 135.4h0M248.7 222.5h0M53.0 185.4h0M144.5 254.6h0M36.9 192.4h0M48.0 175.2h0M283.1 124.9h0M123.3 248.1h0M43.5 175.9h0M131.1 253.7h0M252.3 254.2h0M133.3 269.7h0M101.5 270.5h0M95.3 264.7h0M51.3 182.7h0M219.9 178.6h0M151.9 260.7h0M137.4 251.6h0M81.7 223.4h0M135.4 254.9h0M46.1 196.1h0M152.8 271.1h0M157.7 253.3h0M130.3 293.2h0M172.5 235.7h0M149.0 244.9h0M266.4 188.5h0M115.8 236.2h0M95.3 243.6h0M132.7 276.9h0M36.3 200.5h0M152.4 240.8h0M105.3 279.1h0M126.9 240.7h0M93.2 262.0h0M117.4 275.1h0M270.9 150.9h0M41.7 179.2h0M126.2 293.6h0M76.9 243.2h0M220.5 247.9h0M40.6 181.9h0M109.8 244.1h0M240.2 228.1h0M101.0 218.3h0M68.9 183.7h0M204.1 222.7h0M222.2 232.4h0M132.8 240.0h0M309.7 220.4h0M114.2 279.5h0M115.4 242.0h0M84.6 200.2h0" stroke="#cc4778" stroke-width="9.40" stroke-linecap="round" fill="none"/><path d="M172.2 236.3h0M249.9 244.3h0M147.6 255.0h0M50.1 216.5h0M136.9 262.4h0M77.2 239.9h0M72.8 242.2h0M49.5 220.3h0M270.8 269.2h0M87.7 243.3h0M115.5 271.4h0M124.8 272.5h0M45.5 190.8h0M109.0 241.0h0M57.8 226.6h0M79.8 255.9h0M159.6 235.5h0M38.3 206.4h0M87.3 259.2h0M60.0 176.2h0M127.6 288.4h0M293.4 193.9h0M107.1 254.4h0M64.7 237.5h0M230.2 134.2h0M161.6 234.5h0M143.8 255.4h0M142.5 244.7h0M113.7 250.8h0M48.3 192.6h0M140.6 253.9h0M108.3 253.7h0M132.2 266.6h0M153.5 251.2h0M89.8 247.1h0M79.9 257.0h0M164.4 239.9h0M88.1 236.7h0M92.4 251.9h0M48.4 170.0h0M142.1 234.2h0M62.4 181.8h0M144.6 247.0h0M122.2 272.7h0M166.5 250.2h0M73.7 186.0h0M109.2 273.5h0M113.9 238.5h0M51.7 187.2h0M155.3 244.2h0M43.2 170.5h0M107.4 250.0h0M38.4 186.6h0M153.7 239.7h0M104.3 246.1h0M161.7 247.4h0M172.6 228.7h0M33.4 184.3h0M137.7 241.5h0M167.1 248.7h0M126.7 269.7h0M93.0 260.6h0M92.2 222.6h0M131.7 240.1h0M125.9 271.1h0M53.2 230.3h0M44.9 225.5h0M36.0 192.3h0M105.0 262.1h0M62.2 235.1h0M126.1 241.7h0M65.8 237.9h0M143.4 284.1h0M66.4 177.1h0M120.4 271.9h0M103.7 271.0h0M83.1 236.9h0M98.6 233.3h0M102.5 237.7h0M108.1 268.8h0M144.7 232.6h0M240.5 130.0h0M163.5 255.7h0M127.4 281.3h0M146.7 288.2h0M67.0 238.5h0M75.4 183.4h0M114.5 265.5h0M127.4 249.8h0M284.1 166.6h0M52.5 178.7h0M94.6 248.9h0M121.9 285.8h0M290.2 184.5h0M86.4 247.5h0M137.7 249.9h0M134.6 264.9h0M151.8 252.1h0M252.3 243.0h0M230.6 141.3h0M43.0 175.5h0M132.1 268.4h0M60.9 185.4h0M84.0 249.5h0M40.2 175.2h0M54.0 180.8h0M146.1 281.2h0M65.9 180.0h0M122.0 242.7h0M166.4 233.0h0" stroke="#e16462" stroke-width="9.40" stroke-linecap="round" fill="none"/><path d="M132.2 212.0h0M93.4 250.9h0M93.9 265.4h0M128.3 252.3h0M75.6 188.7h0M55.8 185.1h0M58.1 176.2h0M138.8 278.0h0M248.2 198.9h0M119.9 269.7h0M43.4 224.0h0M128.1 287.9h0M277.6 238.1h0M112.4 249.2h0M50.7 232.3h0M41.4 180.8h0M36.9 174.4h0M85.3 264.4h0M167.1 227.0h0M160.6 247.2h0M55.9 186.3h0M128.0 266.6h0M143.3 289.7h0M81.2 205.3h0M153.5 247.0h0M85.8 201.2h0M87.8 260.8h0M173.9 232.3h0M139.8 254.5h0M116.3 269.6h0M134.6 253.5h0M134.3 280.0h0M93.2 247.1h0M157.1 228.9h0M140.4 263.8h0M130.2 225.3h0M69.3 239.7h0M144.7 244.8h0" stroke="#f2844b" stroke-width="9.40" stroke-linecap="round" fill="none"/><path d="M122.7 276.7h0M46.1 171.4h0M110.7 238.5h0M108.8 227.8h0M52.4 219.2h0M156.6 242.5h0M52.2 218.0h0M38.8 168.8h0M100.5 235.4h0M103.2 279.1h0M88.1 254.5h0M111.3 280.1h0M112.4 209.3h0M158.9 249.6h0M128.0 266.4h0M139.5 234.2h0M97.5 234.1h0" stroke="#fca636" stroke-width="9.40" stroke-linecap="round" fill="none"/><path d="M126.8 245.5h0M119.5 282.3h0M160.8 253.0h0" stroke="#fcce25" stroke-width="9.40" stroke-linecap="round" fill="none"/>
</g>
<text x="1419.8" y="285.9" font-size="23.5" text-anchor="middle" font-style="italic">Il12rb1</text>
<g transform="translate(1533.9,266.8) scale(0.548)">
<path d="M31.9,169.0 C32.8,166.8 35.3,166.8 38.0,166.5 C40.7,166.2 44.4,166.4 47.9,167.5 C51.4,168.6 55.5,171.3 59.3,173.2 C63.1,175.1 67.3,177.0 70.7,179.0 C74.1,181.0 77.6,182.8 79.9,185.0 C82.2,187.2 84.2,190.4 84.5,192.0 C84.8,193.6 83.3,194.6 82.0,194.5 C80.7,194.4 79.3,192.8 76.5,191.5 C73.7,190.2 68.2,187.9 65.0,187.0 C61.8,186.1 59.4,185.5 57.0,186.0 C54.6,186.5 51.9,187.7 50.5,190.0 C49.1,192.3 48.7,196.4 48.5,200.0 C48.3,203.6 48.4,207.6 49.5,211.5 C50.6,215.4 52.4,220.0 55.0,223.5 C57.6,227.0 61.4,230.3 65.0,232.5 C68.6,234.7 72.7,236.2 76.5,236.5 C80.3,236.8 84.1,234.8 88.0,234.0 C91.9,233.2 95.2,232.4 100.0,232.0 C104.8,231.6 111.8,231.7 116.5,231.5 C121.2,231.3 124.1,231.2 127.9,230.9 C131.7,230.6 135.6,230.4 139.4,229.8 C143.2,229.2 147.0,228.1 150.8,227.5 C154.6,226.9 158.4,226.9 162.2,226.3 C166.0,225.7 170.3,224.8 173.7,224.0 C177.1,223.2 181.9,221.0 182.8,221.8 C183.8,222.6 181.1,225.2 179.4,228.6 C177.7,232.0 174.8,237.9 172.5,242.3 C170.2,246.7 167.8,251.8 165.7,254.9 C163.6,257.9 160.8,258.5 160.0,260.6 C159.2,262.7 161.7,265.6 161.1,267.5 C160.5,269.4 157.8,270.0 156.5,272.1 C155.2,274.2 154.4,277.4 153.1,280.1 C151.8,282.8 150.8,285.8 148.5,288.1 C146.2,290.4 142.8,292.7 139.4,293.8 C136.0,294.9 131.7,295.8 127.9,295.0 C124.1,294.2 120.7,291.7 116.5,289.2 C112.3,286.7 107.4,283.5 102.8,280.1 C98.2,276.7 93.0,272.4 89.0,268.6 C85.0,264.8 81.1,260.2 78.8,257.2 C76.5,254.1 78.0,252.8 75.3,250.3 C72.6,247.8 66.7,245.2 62.7,242.3 C58.7,239.5 54.7,236.4 51.3,233.2 C47.9,230.0 44.7,226.5 42.2,222.9 C39.7,219.3 37.8,216.3 36.4,211.5 C35.0,206.7 34.8,199.6 34.1,194.3 C33.4,189.1 32.8,184.2 32.4,180.0 C32.0,175.8 31.0,171.2 31.9,169.0Z" fill="#d6d6d6" stroke="#d6d6d6" stroke-width="8" stroke-linejoin="round"/><path d="M83.0,195.0 C85.3,194.2 91.2,196.7 95.0,197.5 C98.8,198.3 102.2,199.1 106.0,200.0 C109.8,200.9 114.3,201.8 118.0,203.0 C121.7,204.2 125.2,205.2 128.0,207.0 C130.8,208.8 133.7,211.2 135.0,214.0 C136.3,216.8 137.2,221.3 136.0,224.0 C134.8,226.7 131.3,228.8 128.0,230.0 C124.7,231.2 120.7,230.8 116.0,231.0 C111.3,231.2 104.7,231.1 100.0,231.5 C95.3,231.9 91.3,233.9 88.0,233.5 C84.7,233.1 81.3,232.2 80.0,229.0 C78.7,225.8 79.8,218.5 80.0,214.0 C80.2,209.5 80.5,205.2 81.0,202.0 C81.5,198.8 80.7,195.8 83.0,195.0Z" fill="#d6d6d6" stroke="#d6d6d6" stroke-width="8" stroke-linejoin="round"/><path d="M140.0,226.0 C143.0,222.7 153.7,223.5 160.0,222.0 C166.3,220.5 173.2,218.5 178.0,217.0 C182.8,215.5 186.7,212.7 189.0,213.0 C191.3,213.3 192.5,216.0 192.0,219.0 C191.5,222.0 188.0,226.8 186.0,231.0 C184.0,235.2 181.3,239.7 180.0,244.0 C178.7,248.3 180.3,254.0 178.0,257.0 C175.7,260.0 170.0,261.8 166.0,262.0 C162.0,262.2 158.0,261.3 154.0,258.0 C150.0,254.7 144.3,247.3 142.0,242.0 C139.7,236.7 137.0,229.3 140.0,226.0Z" fill="#d6d6d6" stroke="#d6d6d6" stroke-width="8" stroke-linejoin="round"/><path d="M160.0,243.0 C162.2,239.5 170.3,238.8 175.0,236.0 C179.7,233.2 184.5,228.7 188.0,226.0 C191.5,223.3 194.0,218.5 196.0,220.0 C198.0,221.5 199.5,229.0 200.0,235.0 C200.5,241.0 200.0,251.5 199.0,256.0 C198.0,260.5 198.0,260.8 194.0,262.0 C190.0,263.2 180.3,263.8 175.0,263.0 C169.7,262.2 164.5,260.3 162.0,257.0 C159.5,253.7 157.8,246.5 160.0,243.0Z" fill="#d6d6d6" stroke="#d6d6d6" stroke-width="8" stroke-linejoin="round"/><path d="M223.2,110.1 C225.3,108.6 229.0,107.0 233.0,106.6 C237.0,106.2 242.7,107.6 247.3,107.9 C251.9,108.2 256.9,108.2 260.6,108.3 C264.3,108.4 266.5,107.5 269.5,108.3 C272.5,109.0 275.7,110.7 278.4,112.8 C281.1,114.9 283.7,117.8 285.5,120.8 C287.3,123.8 288.1,126.8 289.1,130.6 C290.1,134.4 289.8,139.4 291.7,143.9 C293.6,148.4 298.8,152.9 300.6,157.3 C302.4,161.8 301.8,166.2 302.4,170.6 C303.0,175.0 302.7,179.6 304.2,184.0 C305.7,188.4 309.8,193.6 311.3,197.3 C312.8,201.0 312.8,202.5 313.1,206.2 C313.4,209.9 313.7,215.1 313.1,219.5 C312.5,223.9 310.5,228.5 309.5,232.9 C308.5,237.3 308.1,242.5 306.9,246.2 C305.7,249.9 304.9,252.1 302.4,255.1 C299.9,258.1 295.7,261.6 291.7,264.0 C287.7,266.4 282.8,268.1 278.4,269.3 C273.9,270.5 268.7,271.1 265.0,271.1 C261.3,271.1 259.1,270.0 256.2,269.3 C253.2,268.6 250.0,267.6 247.3,266.7 C244.6,265.8 242.2,263.7 240.1,264.0 C238.0,264.3 237.3,267.9 234.8,268.4 C232.3,268.8 228.4,268.2 225.0,266.7 C221.6,265.2 217.4,262.9 214.4,259.5 C211.4,256.1 209.1,249.9 207.2,246.2 C205.3,242.5 204.3,241.0 202.8,237.3 C201.3,233.6 199.3,228.4 198.3,224.0 C197.3,219.6 196.4,214.3 196.6,210.6 C196.8,206.9 198.0,205.4 199.2,201.7 C200.4,198.0 202.4,192.4 203.7,188.4 C205.0,184.4 205.9,180.7 207.2,177.7 C208.5,174.7 210.9,174.0 211.7,170.6 C212.4,167.2 211.4,162.5 211.7,157.3 C212.0,152.1 212.6,144.7 213.5,139.5 C214.4,134.3 215.8,130.1 217.0,126.1 C218.2,122.1 219.6,118.2 220.6,115.5 C221.6,112.8 221.1,111.6 223.2,110.1Z" fill="#d6d6d6" stroke="#d6d6d6" stroke-width="8" stroke-linejoin="round"/>
<path d="M276.0 195.4h0M217.5 218.2h0M249.7 156.3h0M253.1 265.3h0M258.0 112.1h0M288.9 236.3h0M293.3 228.0h0M222.4 144.2h0M228.2 170.2h0M239.0 178.2h0M241.3 260.5h0M243.1 256.4h0M224.2 225.5h0M236.0 260.8h0M216.0 219.4h0M285.6 158.2h0M277.7 202.9h0M209.1 198.6h0M294.9 220.9h0M220.4 261.7h0M274.0 197.6h0M243.6 242.0h0M309.4 198.4h0M204.1 206.1h0M233.0 167.5h0M281.7 174.3h0M224.4 123.0h0M201.8 201.3h0M280.4 179.5h0M296.1 211.0h0M248.3 158.8h0M293.5 181.2h0M249.6 192.1h0M252.9 125.1h0M257.2 247.0h0M299.6 207.4h0M221.4 191.7h0" stroke="#0d0887" stroke-width="9.40" stroke-linecap="round" fill="none"/><path d="M263.6 229.2h0M253.5 121.1h0M289.6 264.1h0M273.0 214.0h0M242.7 234.7h0M274.3 129.2h0M215.8 199.5h0M220.2 260.4h0M221.9 237.9h0M277.0 267.4h0M260.1 180.3h0M266.9 218.4h0M218.1 135.4h0M216.9 141.5h0M231.4 215.1h0M258.3 174.2h0M283.7 168.6h0M295.9 259.6h0M236.4 238.2h0M297.0 206.4h0M229.7 217.0h0M289.4 228.8h0M296.6 179.0h0M290.1 180.4h0M266.9 190.2h0M279.1 130.2h0M217.4 176.6h0M208.2 199.8h0M270.9 231.6h0M232.0 126.1h0M237.0 223.6h0M289.5 137.7h0M285.5 176.9h0M286.2 126.1h0M289.0 178.3h0M223.2 262.1h0M279.3 212.8h0M291.9 147.1h0M246.5 166.1h0M256.7 115.5h0M249.5 180.9h0M275.6 247.0h0M287.6 178.6h0M280.5 202.8h0M272.4 190.4h0M218.6 173.7h0M244.7 113.5h0M273.9 120.6h0M226.3 196.5h0M229.0 154.2h0M216.3 202.9h0M255.5 257.8h0M268.2 193.6h0M242.0 227.3h0M290.4 203.2h0M253.5 255.3h0M244.1 110.0h0M283.8 191.7h0M299.7 235.8h0M298.4 158.4h0M252.2 177.8h0M266.1 110.7h0M284.5 172.6h0M232.8 204.0h0M289.6 155.2h0M267.9 219.3h0M232.6 140.7h0M291.3 174.5h0M302.3 251.9h0M312.2 209.1h0M264.8 154.3h0M246.8 122.8h0M297.1 224.5h0M291.4 155.8h0M251.7 191.3h0M249.3 262.7h0M238.3 133.2h0M260.0 152.7h0M207.2 208.3h0M290.2 169.9h0M286.2 125.9h0" stroke="#41049d" stroke-width="9.40" stroke-linecap="round" fill="none"/><path d="M270.6 193.9h0M259.7 199.9h0M228.7 249.8h0M291.4 210.4h0M283.0 265.0h0M229.9 154.1h0M254.3 124.1h0M221.0 242.9h0M283.1 154.2h0M280.6 176.6h0M246.9 169.0h0M238.8 242.0h0M203.2 202.4h0M255.1 246.3h0M304.1 235.4h0M247.3 235.6h0M259.6 145.7h0M236.8 213.1h0M275.7 158.0h0M260.0 197.1h0M267.9 160.0h0M142.8 239.7h0M205.5 231.7h0M264.4 253.2h0M287.0 152.0h0M226.3 246.3h0M242.2 115.3h0M273.0 177.4h0M274.4 148.0h0M262.0 125.6h0M252.0 184.7h0M233.5 258.7h0M245.8 232.1h0M215.7 176.6h0M265.5 225.8h0M271.4 136.5h0M297.7 242.5h0M241.8 192.9h0M236.5 196.8h0M272.0 121.4h0M302.2 221.6h0M259.9 127.0h0M251.2 116.1h0M242.7 184.1h0M208.1 227.5h0M231.0 246.6h0M279.9 140.9h0M270.9 171.6h0M271.2 193.8h0M295.8 196.0h0M235.3 188.5h0M230.3 266.5h0M72.8 184.7h0M272.7 167.2h0M266.6 128.5h0M245.8 169.8h0M256.1 188.5h0M206.1 212.3h0M281.8 176.1h0M207.9 195.8h0M230.2 251.0h0M204.0 195.7h0M244.9 260.5h0M235.6 154.1h0M240.2 111.5h0M240.4 115.8h0M179.4 226.7h0M230.7 150.0h0M301.7 174.4h0M277.1 192.4h0M223.6 243.3h0M268.6 227.5h0M239.7 242.3h0M250.3 153.6h0M239.6 228.6h0M230.8 205.3h0M263.6 207.4h0M257.0 219.0h0M261.7 144.6h0M150.3 275.9h0M241.2 252.6h0M245.4 253.0h0M218.4 224.3h0M274.0 242.5h0M276.0 209.8h0M230.3 243.9h0M266.0 257.6h0M56.8 227.4h0M254.7 195.1h0M252.2 157.4h0M267.9 265.8h0M263.7 249.1h0M291.3 257.4h0M224.8 158.6h0M252.5 215.3h0M296.7 222.8h0M217.3 186.5h0M233.6 151.3h0M219.7 186.2h0M262.1 233.4h0M254.2 117.9h0M246.0 180.9h0M291.9 208.7h0M220.2 186.9h0M255.9 112.0h0M250.5 112.9h0" stroke="#6a00a8" stroke-width="9.40" stroke-linecap="round" fill="none"/><path d="M62.4 185.6h0M236.8 131.8h0M250.6 203.7h0M291.0 248.4h0M227.5 234.9h0M299.9 191.4h0M237.0 252.6h0M266.9 255.8h0M211.4 188.4h0M273.1 267.6h0M252.1 194.1h0M152.9 240.6h0M224.4 143.3h0M216.3 187.4h0M280.1 200.4h0M230.0 238.4h0M284.3 119.9h0M231.3 222.7h0M280.9 220.4h0M278.6 186.8h0M265.0 241.3h0M66.4 182.8h0M268.5 161.2h0M255.3 155.6h0M220.3 197.6h0M233.5 234.6h0M152.9 255.4h0M268.6 133.2h0M278.8 152.5h0M278.5 168.9h0M281.7 265.5h0M47.5 216.4h0M225.5 113.1h0M241.0 180.7h0M280.6 203.1h0M254.0 121.0h0M270.3 128.1h0M221.9 133.9h0M48.8 170.3h0M213.5 199.5h0M251.4 120.8h0M229.6 221.8h0M260.2 175.2h0M224.8 114.6h0M226.9 264.1h0M274.3 190.1h0M128.3 257.5h0M264.2 244.2h0M277.0 174.7h0M291.1 141.9h0M236.5 163.4h0M242.1 242.2h0M238.3 134.4h0M285.5 211.6h0M258.1 164.0h0M289.8 192.2h0M267.1 127.9h0M218.6 235.3h0M231.2 141.3h0M292.5 256.7h0M226.3 109.8h0M245.8 137.3h0M255.3 230.8h0M296.3 170.0h0M259.0 127.2h0M240.2 212.9h0M295.3 208.7h0M297.0 257.2h0M262.5 253.7h0M57.0 181.2h0M303.8 237.3h0M241.5 122.9h0M43.0 179.6h0M127.0 281.7h0M252.4 149.4h0M114.6 286.2h0M237.7 128.3h0M260.6 125.4h0M258.7 193.8h0M275.9 239.5h0M275.5 135.0h0M85.0 241.0h0M104.5 262.9h0M280.6 189.5h0M308.8 227.4h0M52.4 187.3h0M247.8 264.7h0M206.4 212.9h0M93.3 263.8h0M235.5 134.8h0M101.8 275.3h0M235.3 152.7h0M220.4 223.6h0M55.8 180.4h0M68.0 234.1h0M227.2 199.7h0M34.6 176.8h0M245.3 167.9h0M258.3 166.1h0M246.7 216.5h0M269.0 175.1h0M237.6 257.8h0M237.3 186.6h0M296.9 217.4h0M275.9 179.1h0M216.2 216.6h0M135.8 283.3h0M213.1 226.3h0M60.1 233.2h0M277.7 159.9h0M239.2 112.2h0M226.3 230.5h0M264.4 195.4h0M245.0 114.8h0M203.1 190.4h0M255.4 132.3h0M239.5 226.5h0M254.9 176.5h0M156.7 235.9h0" stroke="#8f0da4" stroke-width="9.40" stroke-linecap="round" fill="none"/><path d="M48.1 222.1h0M150.4 250.8h0M255.4 249.9h0M135.7 293.2h0M276.4 164.4h0M144.6 278.6h0M246.1 122.9h0M270.6 148.0h0M284.5 122.3h0M45.9 172.0h0M256.9 234.6h0M59.6 230.8h0M46.4 174.7h0M107.0 269.7h0M129.0 232.7h0M264.1 220.6h0M117.0 242.3h0M235.2 251.5h0M211.9 244.7h0M106.6 255.0h0M222.0 144.7h0M246.7 156.5h0M46.7 186.5h0M141.0 241.2h0M267.9 237.7h0M137.7 235.9h0M60.0 178.2h0M214.5 150.0h0M122.9 257.2h0M44.2 177.2h0M52.0 229.4h0M238.5 188.0h0M223.4 248.8h0M135.4 283.4h0M126.7 248.0h0M68.1 244.7h0M41.6 176.6h0M129.0 257.7h0M175.5 228.2h0M54.5 230.7h0M272.8 151.5h0M88.8 249.7h0M121.1 266.9h0M181.0 224.2h0M285.8 146.6h0M265.5 115.2h0M216.5 141.2h0M92.1 271.1h0M265.5 202.9h0M252.9 205.6h0M284.3 255.8h0M231.5 180.0h0M91.6 207.3h0M296.5 156.4h0M234.3 165.1h0M84.2 251.6h0M257.3 124.4h0M221.9 187.2h0M84.5 210.0h0M55.1 234.3h0M229.1 141.1h0M233.5 267.6h0M123.2 255.2h0M146.7 233.9h0M124.8 264.2h0M50.0 188.0h0M289.2 232.1h0M250.0 220.1h0M292.8 186.4h0M285.9 130.4h0M214.1 215.5h0M44.2 177.4h0M302.1 242.3h0M77.7 245.5h0M294.1 224.0h0M250.1 117.1h0M56.6 183.9h0M51.0 176.7h0M107.6 266.1h0M82.4 193.3h0M115.4 248.4h0M201.3 197.0h0M220.9 248.2h0M223.4 135.3h0M43.3 187.9h0M53.6 228.9h0M105.8 278.6h0M270.1 212.4h0M103.6 275.4h0M227.0 169.8h0M299.3 183.4h0M128.0 274.1h0" stroke="#b12a90" stroke-width="9.40" stroke-linecap="round" fill="none"/><path d="M128.0 249.8h0M39.9 213.2h0M143.2 269.1h0M163.3 249.6h0M110.9 268.5h0M53.7 179.1h0M101.1 267.4h0M120.4 283.0h0M116.6 233.9h0M105.5 243.2h0M141.8 232.6h0M153.1 278.6h0M256.2 237.5h0M147.6 258.1h0M99.9 262.2h0M162.0 231.9h0M144.8 261.1h0M306.2 194.6h0M50.6 225.7h0M121.8 275.6h0M45.3 203.7h0M93.6 245.9h0M135.4 237.7h0M255.0 201.2h0M251.9 256.7h0M98.9 249.9h0M172.5 225.5h0M165.9 234.7h0M279.6 268.5h0M101.2 257.3h0M48.2 178.1h0M53.9 230.9h0M65.9 183.4h0M240.1 255.4h0M167.6 233.2h0M233.4 259.7h0M159.7 233.2h0M51.9 186.3h0M113.3 272.7h0M42.0 169.6h0M47.1 217.9h0M175.9 230.2h0M50.3 175.8h0M95.0 270.3h0M114.2 270.3h0M53.4 221.9h0M94.4 234.4h0M123.2 229.5h0M146.0 266.3h0M130.4 285.3h0M115.0 276.2h0M219.5 170.5h0M212.9 149.1h0M87.8 248.8h0M141.3 250.1h0M136.8 260.9h0M77.6 244.1h0M261.4 167.9h0M116.9 254.7h0M67.0 182.0h0M53.8 177.2h0M76.4 186.1h0M135.7 253.7h0M36.2 205.8h0M159.8 258.3h0M231.0 147.7h0M122.2 269.4h0M47.4 216.6h0M143.2 260.7h0M252.7 166.1h0M38.6 186.5h0M254.8 265.0h0M62.7 175.9h0M235.0 266.6h0M126.5 239.8h0M139.3 230.2h0M50.4 176.4h0M285.3 203.1h0M126.8 265.0h0M144.4 232.5h0M297.6 160.2h0M107.5 254.5h0M79.1 190.0h0M249.4 204.6h0M110.5 236.0h0M138.5 265.8h0M143.8 283.5h0M235.8 110.0h0M108.8 232.1h0M134.8 241.3h0M219.1 134.1h0M104.0 255.0h0M51.9 220.2h0M54.5 227.9h0M120.9 263.9h0M143.3 268.1h0M40.0 204.5h0M165.5 230.9h0M59.2 177.9h0M37.2 197.6h0M176.5 230.5h0" stroke="#cc4778" stroke-width="9.40" stroke-linecap="round" fill="none"/><path d="M125.0 273.9h0M54.6 174.0h0M123.1 274.4h0M154.9 248.9h0M127.5 245.6h0M40.4 170.7h0M46.4 172.4h0M81.1 236.5h0M41.1 206.5h0M73.0 186.2h0M46.5 179.8h0M134.2 282.3h0M32.4 173.4h0M43.6 182.3h0M92.4 266.7h0M46.8 220.3h0M145.3 271.8h0M96.7 253.2h0M164.8 229.4h0M83.5 246.8h0M43.9 196.0h0M130.8 238.6h0M105.7 252.1h0M48.2 182.4h0M115.4 273.1h0M156.2 252.2h0M108.9 282.5h0M129.8 260.6h0M138.1 248.4h0M111.2 233.2h0M147.8 257.7h0M87.5 235.7h0M57.2 233.7h0M90.1 253.5h0M73.1 185.4h0M55.6 224.9h0M68.5 235.0h0M162.9 255.3h0M174.5 223.9h0M47.9 186.6h0M141.2 252.1h0M162.9 249.8h0M50.0 213.5h0M91.4 269.4h0M123.4 243.0h0M143.6 233.4h0M122.6 247.7h0M60.4 186.3h0M94.1 258.9h0M146.1 287.0h0M47.6 168.5h0M163.7 253.3h0M48.5 175.1h0M128.7 252.1h0M102.5 241.9h0M51.7 175.2h0M168.7 247.4h0M174.5 227.1h0M133.7 287.4h0M139.3 279.8h0M128.8 236.8h0M117.6 263.2h0M96.3 274.0h0M146.9 278.9h0M152.2 278.3h0M101.4 251.2h0M42.6 207.6h0M32.9 176.0h0M132.9 274.8h0M135.3 285.6h0M105.3 281.5h0M44.5 212.9h0M142.4 282.8h0M58.9 184.7h0M162.3 238.3h0M171.2 225.9h0M40.2 171.1h0M147.1 283.8h0M153.6 269.0h0M116.3 241.3h0M53.0 174.6h0M148.5 283.8h0M60.4 240.1h0M33.2 179.1h0M96.4 210.1h0M83.8 262.5h0M67.9 243.9h0M159.8 239.0h0M37.1 175.9h0M171.5 232.2h0M146.0 254.1h0M127.6 260.6h0M115.9 269.0h0M133.5 231.8h0M103.8 245.1h0M96.1 242.9h0M50.0 228.1h0M86.2 263.3h0" stroke="#e16462" stroke-width="9.40" stroke-linecap="round" fill="none"/><path d="M138.1 254.0h0M148.4 256.1h0M83.0 240.0h0M96.1 236.6h0M121.0 252.4h0M101.4 254.6h0M143.4 259.9h0M172.1 233.9h0M62.3 185.6h0M110.4 238.8h0M96.3 267.2h0M129.4 271.6h0M77.2 250.1h0M52.4 172.8h0M115.8 241.2h0M98.9 275.7h0M148.5 284.3h0M129.7 285.4h0M148.2 273.3h0M45.0 185.8h0M120.1 244.2h0M139.6 245.9h0M60.2 179.7h0M76.6 238.7h0M152.8 233.4h0M226.0 200.1h0M182.1 222.1h0M129.0 268.4h0M49.0 188.8h0M96.6 268.1h0M116.4 254.4h0M95.7 250.7h0M121.4 234.4h0M80.1 192.3h0M88.1 262.9h0M111.7 236.0h0M61.2 235.5h0M121.9 254.3h0M144.5 274.2h0M78.7 185.9h0M157.4 243.6h0M143.2 288.1h0M167.4 230.8h0M61.2 181.2h0M38.3 191.2h0M125.0 251.1h0M87.6 203.9h0M110.4 253.6h0M163.8 228.0h0M102.4 225.0h0M142.8 260.9h0M47.9 199.4h0M146.3 289.5h0M169.9 239.7h0M135.0 249.2h0M151.4 227.6h0M35.4 181.4h0M92.0 229.8h0" stroke="#f2844b" stroke-width="9.40" stroke-linecap="round" fill="none"/><path d="M51.5 220.9h0M58.9 182.3h0M130.7 287.3h0M49.2 196.4h0M150.4 266.2h0M115.9 251.1h0M151.6 269.4h0M66.5 186.8h0M129.4 276.8h0M171.5 235.5h0M156.7 250.7h0M147.7 272.6h0M92.7 234.5h0M128.6 289.8h0M151.4 254.7h0M121.3 285.6h0M121.4 288.8h0M147.1 287.2h0M150.2 247.1h0M145.9 238.8h0M110.5 269.3h0M36.3 208.5h0M95.8 244.3h0M66.9 179.7h0M138.7 244.9h0M140.8 264.2h0M105.8 232.6h0M129.3 238.1h0M91.9 253.5h0" stroke="#fca636" stroke-width="9.40" stroke-linecap="round" fill="none"/><path d="M88.9 260.3h0M123.3 206.7h0M127.1 250.5h0M99.5 204.5h0M150.1 280.4h0M58.6 180.0h0M135.3 286.1h0M139.4 279.1h0M140.6 234.0h0" stroke="#fcce25" stroke-width="9.40" stroke-linecap="round" fill="none"/><path d="M102.0 221.5h0" stroke="#f0f921" stroke-width="9.40" stroke-linecap="round" fill="none"/>
</g>
<text x="1605.8" y="285.9" font-size="23.5" text-anchor="middle" font-style="italic">Il12rb2</text>
<g transform="translate(1163.9,462.3) scale(0.548)">
<path d="M31.9,169.0 C32.8,166.8 35.3,166.8 38.0,166.5 C40.7,166.2 44.4,166.4 47.9,167.5 C51.4,168.6 55.5,171.3 59.3,173.2 C63.1,175.1 67.3,177.0 70.7,179.0 C74.1,181.0 77.6,182.8 79.9,185.0 C82.2,187.2 84.2,190.4 84.5,192.0 C84.8,193.6 83.3,194.6 82.0,194.5 C80.7,194.4 79.3,192.8 76.5,191.5 C73.7,190.2 68.2,187.9 65.0,187.0 C61.8,186.1 59.4,185.5 57.0,186.0 C54.6,186.5 51.9,187.7 50.5,190.0 C49.1,192.3 48.7,196.4 48.5,200.0 C48.3,203.6 48.4,207.6 49.5,211.5 C50.6,215.4 52.4,220.0 55.0,223.5 C57.6,227.0 61.4,230.3 65.0,232.5 C68.6,234.7 72.7,236.2 76.5,236.5 C80.3,236.8 84.1,234.8 88.0,234.0 C91.9,233.2 95.2,232.4 100.0,232.0 C104.8,231.6 111.8,231.7 116.5,231.5 C121.2,231.3 124.1,231.2 127.9,230.9 C131.7,230.6 135.6,230.4 139.4,229.8 C143.2,229.2 147.0,228.1 150.8,227.5 C154.6,226.9 158.4,226.9 162.2,226.3 C166.0,225.7 170.3,224.8 173.7,224.0 C177.1,223.2 181.9,221.0 182.8,221.8 C183.8,222.6 181.1,225.2 179.4,228.6 C177.7,232.0 174.8,237.9 172.5,242.3 C170.2,246.7 167.8,251.8 165.7,254.9 C163.6,257.9 160.8,258.5 160.0,260.6 C159.2,262.7 161.7,265.6 161.1,267.5 C160.5,269.4 157.8,270.0 156.5,272.1 C155.2,274.2 154.4,277.4 153.1,280.1 C151.8,282.8 150.8,285.8 148.5,288.1 C146.2,290.4 142.8,292.7 139.4,293.8 C136.0,294.9 131.7,295.8 127.9,295.0 C124.1,294.2 120.7,291.7 116.5,289.2 C112.3,286.7 107.4,283.5 102.8,280.1 C98.2,276.7 93.0,272.4 89.0,268.6 C85.0,264.8 81.1,260.2 78.8,257.2 C76.5,254.1 78.0,252.8 75.3,250.3 C72.6,247.8 66.7,245.2 62.7,242.3 C58.7,239.5 54.7,236.4 51.3,233.2 C47.9,230.0 44.7,226.5 42.2,222.9 C39.7,219.3 37.8,216.3 36.4,211.5 C35.0,206.7 34.8,199.6 34.1,194.3 C33.4,189.1 32.8,184.2 32.4,180.0 C32.0,175.8 31.0,171.2 31.9,169.0Z" fill="#d6d6d6" stroke="#d6d6d6" stroke-width="8" stroke-linejoin="round"/><path d="M83.0,195.0 C85.3,194.2 91.2,196.7 95.0,197.5 C98.8,198.3 102.2,199.1 106.0,200.0 C109.8,200.9 114.3,201.8 118.0,203.0 C121.7,204.2 125.2,205.2 128.0,207.0 C130.8,208.8 133.7,211.2 135.0,214.0 C136.3,216.8 137.2,221.3 136.0,224.0 C134.8,226.7 131.3,228.8 128.0,230.0 C124.7,231.2 120.7,230.8 116.0,231.0 C111.3,231.2 104.7,231.1 100.0,231.5 C95.3,231.9 91.3,233.9 88.0,233.5 C84.7,233.1 81.3,232.2 80.0,229.0 C78.7,225.8 79.8,218.5 80.0,214.0 C80.2,209.5 80.5,205.2 81.0,202.0 C81.5,198.8 80.7,195.8 83.0,195.0Z" fill="#d6d6d6" stroke="#d6d6d6" stroke-width="8" stroke-linejoin="round"/><path d="M140.0,226.0 C143.0,222.7 153.7,223.5 160.0,222.0 C166.3,220.5 173.2,218.5 178.0,217.0 C182.8,215.5 186.7,212.7 189.0,213.0 C191.3,213.3 192.5,216.0 192.0,219.0 C191.5,222.0 188.0,226.8 186.0,231.0 C184.0,235.2 181.3,239.7 180.0,244.0 C178.7,248.3 180.3,254.0 178.0,257.0 C175.7,260.0 170.0,261.8 166.0,262.0 C162.0,262.2 158.0,261.3 154.0,258.0 C150.0,254.7 144.3,247.3 142.0,242.0 C139.7,236.7 137.0,229.3 140.0,226.0Z" fill="#d6d6d6" stroke="#d6d6d6" stroke-width="8" stroke-linejoin="round"/><path d="M160.0,243.0 C162.2,239.5 170.3,238.8 175.0,236.0 C179.7,233.2 184.5,228.7 188.0,226.0 C191.5,223.3 194.0,218.5 196.0,220.0 C198.0,221.5 199.5,229.0 200.0,235.0 C200.5,241.0 200.0,251.5 199.0,256.0 C198.0,260.5 198.0,260.8 194.0,262.0 C190.0,263.2 180.3,263.8 175.0,263.0 C169.7,262.2 164.5,260.3 162.0,257.0 C159.5,253.7 157.8,246.5 160.0,243.0Z" fill="#d6d6d6" stroke="#d6d6d6" stroke-width="8" stroke-linejoin="round"/><path d="M223.2,110.1 C225.3,108.6 229.0,107.0 233.0,106.6 C237.0,106.2 242.7,107.6 247.3,107.9 C251.9,108.2 256.9,108.2 260.6,108.3 C264.3,108.4 266.5,107.5 269.5,108.3 C272.5,109.0 275.7,110.7 278.4,112.8 C281.1,114.9 283.7,117.8 285.5,120.8 C287.3,123.8 288.1,126.8 289.1,130.6 C290.1,134.4 289.8,139.4 291.7,143.9 C293.6,148.4 298.8,152.9 300.6,157.3 C302.4,161.8 301.8,166.2 302.4,170.6 C303.0,175.0 302.7,179.6 304.2,184.0 C305.7,188.4 309.8,193.6 311.3,197.3 C312.8,201.0 312.8,202.5 313.1,206.2 C313.4,209.9 313.7,215.1 313.1,219.5 C312.5,223.9 310.5,228.5 309.5,232.9 C308.5,237.3 308.1,242.5 306.9,246.2 C305.7,249.9 304.9,252.1 302.4,255.1 C299.9,258.1 295.7,261.6 291.7,264.0 C287.7,266.4 282.8,268.1 278.4,269.3 C273.9,270.5 268.7,271.1 265.0,271.1 C261.3,271.1 259.1,270.0 256.2,269.3 C253.2,268.6 250.0,267.6 247.3,266.7 C244.6,265.8 242.2,263.7 240.1,264.0 C238.0,264.3 237.3,267.9 234.8,268.4 C232.3,268.8 228.4,268.2 225.0,266.7 C221.6,265.2 217.4,262.9 214.4,259.5 C211.4,256.1 209.1,249.9 207.2,246.2 C205.3,242.5 204.3,241.0 202.8,237.3 C201.3,233.6 199.3,228.4 198.3,224.0 C197.3,219.6 196.4,214.3 196.6,210.6 C196.8,206.9 198.0,205.4 199.2,201.7 C200.4,198.0 202.4,192.4 203.7,188.4 C205.0,184.4 205.9,180.7 207.2,177.7 C208.5,174.7 210.9,174.0 211.7,170.6 C212.4,167.2 211.4,162.5 211.7,157.3 C212.0,152.1 212.6,144.7 213.5,139.5 C214.4,134.3 215.8,130.1 217.0,126.1 C218.2,122.1 219.6,118.2 220.6,115.5 C221.6,112.8 221.1,111.6 223.2,110.1Z" fill="#d6d6d6" stroke="#d6d6d6" stroke-width="8" stroke-linejoin="round"/>
<path d="M306.4 191.4h0M287.7 256.0h0" stroke="#0d0887" stroke-width="9.40" stroke-linecap="round" fill="none"/><path d="M278.3 197.3h0M66.9 237.5h0M238.5 202.6h0M222.7 158.0h0M153.2 255.6h0M128.9 244.7h0M297.4 171.6h0M274.6 205.9h0M218.6 133.4h0M138.4 237.7h0M233.4 179.3h0M302.2 226.8h0M97.6 264.5h0M129.4 282.9h0M285.1 234.6h0" stroke="#41049d" stroke-width="9.40" stroke-linecap="round" fill="none"/><path d="M56.2 176.6h0M237.7 214.2h0M235.8 208.3h0M124.4 236.5h0M71.1 244.1h0M114.1 263.6h0M297.9 171.8h0M132.9 255.4h0M272.7 200.9h0M292.4 158.5h0M155.1 256.1h0M75.7 250.2h0M226.2 181.5h0M99.3 262.6h0M246.9 192.5h0M272.3 217.6h0M235.5 195.8h0M95.2 255.3h0M273.3 233.1h0M77.0 188.2h0M53.7 187.1h0M270.6 206.3h0M246.4 120.8h0M111.8 277.2h0M66.8 178.4h0M149.5 274.5h0M142.1 277.0h0M222.1 125.3h0M226.3 198.6h0M157.6 232.6h0M98.8 248.0h0M144.5 252.6h0M72.6 236.1h0M247.9 229.6h0" stroke="#6a00a8" stroke-width="9.40" stroke-linecap="round" fill="none"/><path d="M83.0 259.9h0M276.8 147.5h0M158.6 263.9h0M307.3 241.1h0M127.7 280.4h0M128.6 250.7h0M291.2 215.8h0M109.4 260.5h0M198.6 217.0h0M174.5 234.8h0M134.5 272.4h0M113.9 249.5h0M131.0 257.9h0M236.5 236.4h0M124.7 289.0h0M152.6 253.4h0M131.7 245.9h0M249.3 115.1h0M33.9 189.6h0M57.0 227.4h0M96.9 233.9h0M122.5 273.9h0M159.5 257.1h0M51.7 232.3h0M233.9 188.3h0M285.9 149.3h0M43.3 171.6h0M273.4 167.7h0M92.1 267.3h0M113.6 249.2h0M126.7 259.6h0M65.7 181.8h0M150.2 240.9h0M166.3 231.1h0M44.3 213.5h0M91.5 245.0h0M104.7 257.0h0M103.5 246.5h0M236.2 225.4h0M145.8 283.3h0M153.5 250.3h0M78.5 187.1h0M42.7 198.9h0M124.2 252.9h0M162.9 234.6h0M46.7 208.8h0M102.1 259.5h0M96.3 260.4h0M162.8 228.8h0M279.0 142.3h0M164.5 245.5h0M175.8 231.2h0M46.3 180.6h0M199.1 208.6h0M161.8 227.6h0M155.7 238.9h0M50.9 221.1h0M271.8 222.3h0M149.6 240.0h0M210.6 245.0h0M55.3 181.0h0M149.2 282.2h0M50.5 215.4h0M107.7 253.3h0M106.1 238.7h0M241.2 112.6h0M122.1 259.7h0" stroke="#8f0da4" stroke-width="9.40" stroke-linecap="round" fill="none"/><path d="M38.0 203.0h0M60.0 184.1h0M48.5 222.7h0M111.0 232.1h0M127.2 266.1h0M116.3 273.1h0M41.3 193.6h0M105.4 255.0h0M113.3 282.3h0M46.3 176.2h0M140.1 234.9h0M83.9 252.0h0M92.0 261.5h0M115.4 264.9h0M42.0 203.8h0M90.5 247.7h0M129.5 256.5h0M138.9 248.3h0M231.9 197.7h0M89.9 251.8h0M40.3 212.6h0M53.1 222.3h0M112.2 245.2h0M36.1 173.3h0M141.7 245.6h0M138.2 258.0h0M58.3 175.8h0M151.2 233.8h0M106.2 253.7h0M123.5 287.3h0M43.7 186.6h0M44.9 197.5h0M117.3 254.5h0M56.8 226.7h0M109.9 252.0h0M59.8 177.4h0M309.2 218.3h0M41.0 204.2h0M83.1 236.4h0M106.8 254.5h0M168.3 248.9h0M84.8 243.6h0M109.5 238.7h0M75.5 186.4h0M104.7 239.1h0M142.4 246.1h0M124.4 277.9h0M46.4 196.9h0M273.4 178.1h0M59.7 180.7h0M163.5 235.1h0M37.9 174.8h0M42.1 172.9h0M124.4 284.2h0M142.8 240.9h0M47.6 210.9h0M107.2 261.8h0M273.6 215.7h0M288.8 167.7h0M48.7 195.8h0M91.0 249.3h0M86.4 239.0h0M87.8 246.2h0M201.3 219.8h0M162.5 247.0h0M197.9 220.1h0M56.4 183.0h0M128.0 275.7h0M53.0 228.5h0M104.6 242.0h0M116.9 250.0h0M91.3 259.5h0M215.1 210.8h0M89.1 246.5h0M159.5 249.1h0M89.6 268.6h0M74.8 182.9h0M47.7 173.3h0M49.7 179.4h0M216.9 244.7h0M139.7 233.6h0M130.5 261.3h0M299.5 220.2h0M44.9 169.7h0M92.7 243.0h0M101.1 240.7h0M111.9 269.7h0M118.9 287.7h0M111.7 272.6h0M140.4 234.7h0M77.0 183.8h0M147.7 255.7h0M75.7 183.9h0M138.2 249.6h0M110.7 220.9h0M100.3 249.3h0M92.5 251.0h0M156.2 234.9h0M134.0 281.8h0M45.2 201.8h0M98.7 249.0h0M162.8 254.8h0M52.0 171.3h0M251.7 204.6h0M52.7 223.4h0M53.3 171.4h0" stroke="#b12a90" stroke-width="9.40" stroke-linecap="round" fill="none"/><path d="M133.7 280.4h0M148.5 245.9h0M46.0 190.3h0M78.0 237.4h0M54.1 173.4h0M117.7 247.0h0M146.2 264.6h0M51.7 227.9h0M154.3 261.0h0M125.2 261.8h0M152.6 235.6h0M158.3 270.2h0M74.3 187.9h0M98.1 254.7h0M35.1 176.2h0M95.1 199.8h0M156.5 258.8h0M137.5 258.3h0M137.5 236.2h0M137.8 262.5h0M103.9 271.6h0M59.9 183.0h0M265.0 173.9h0M48.5 202.3h0M136.3 255.3h0M108.4 274.2h0M90.6 267.1h0M230.5 198.4h0M136.8 258.6h0M100.6 235.9h0M161.8 249.9h0M128.1 277.7h0M133.5 246.1h0M246.4 219.0h0M176.5 232.8h0M120.6 267.8h0M98.2 230.7h0M108.0 238.2h0M50.8 171.3h0M129.1 226.3h0M118.4 288.6h0M57.1 232.9h0M293.1 254.4h0M152.7 237.1h0M91.5 252.6h0M104.6 237.8h0M59.4 180.9h0M60.5 234.6h0M133.2 280.3h0M130.4 289.8h0M93.4 263.5h0M141.7 274.2h0M110.9 263.1h0M122.7 289.8h0M169.5 226.4h0M74.7 241.5h0M143.7 250.8h0M166.8 245.4h0M49.4 213.4h0M255.5 236.0h0M145.1 259.6h0M144.2 241.2h0M104.0 278.5h0M159.6 265.4h0M61.9 231.1h0M272.7 205.4h0M133.3 224.9h0M210.2 221.4h0M101.3 273.9h0M172.1 227.0h0M48.2 218.5h0M102.9 238.7h0M152.7 277.1h0M74.0 236.8h0M48.4 173.7h0M75.8 187.3h0M43.3 175.2h0M129.3 272.7h0M50.7 183.7h0M36.2 193.8h0M150.4 252.0h0M145.4 272.0h0M47.4 200.8h0M68.4 236.0h0M64.0 185.6h0M58.6 234.3h0M148.3 253.9h0M38.6 209.1h0M65.5 186.5h0M60.8 235.8h0M45.5 175.5h0M109.2 257.5h0M155.7 270.3h0M248.7 149.6h0M169.0 231.8h0M118.5 253.1h0M91.2 269.7h0M45.3 189.8h0M65.9 239.9h0M263.8 112.9h0M82.8 238.0h0M77.5 239.6h0M33.2 173.7h0M80.8 258.7h0M131.8 254.4h0M142.0 274.1h0M43.5 204.6h0M134.6 264.0h0M58.9 228.0h0" stroke="#cc4778" stroke-width="9.40" stroke-linecap="round" fill="none"/><path d="M36.6 184.7h0M125.2 261.4h0M109.7 246.0h0M158.1 246.1h0M113.2 242.6h0M146.4 258.5h0M157.1 246.0h0M91.0 243.8h0M106.5 240.9h0M103.8 241.9h0M125.7 247.2h0M45.9 216.8h0M96.9 263.9h0M143.2 248.5h0M38.7 198.4h0M142.6 256.2h0M108.2 241.8h0M128.6 247.0h0M98.1 247.0h0M256.5 145.0h0M108.6 203.7h0M142.4 256.6h0M62.0 235.3h0M134.1 292.7h0M108.7 251.1h0M39.4 178.2h0M76.7 187.2h0M36.8 202.4h0M106.8 248.2h0M157.7 264.5h0M127.8 259.1h0M116.3 245.3h0M173.3 231.0h0M49.4 214.4h0M304.1 199.0h0M160.3 250.4h0M122.6 260.6h0M119.5 282.5h0M118.9 288.7h0M126.2 267.7h0M150.4 278.6h0M80.7 239.2h0M100.4 254.5h0M54.0 234.9h0M47.3 173.1h0M47.1 192.0h0M130.9 271.8h0M39.0 174.3h0M55.0 185.7h0M114.0 277.2h0M39.9 213.6h0M54.5 171.8h0M117.9 252.2h0M74.2 246.0h0M79.5 236.1h0M102.0 261.2h0M117.8 233.9h0M42.0 169.7h0M80.7 188.8h0M100.2 277.6h0" stroke="#e16462" stroke-width="9.40" stroke-linecap="round" fill="none"/><path d="M82.6 220.8h0M109.9 201.3h0M68.3 188.0h0M80.2 216.7h0M56.6 225.9h0M139.0 248.1h0M124.6 268.9h0M130.0 261.7h0M96.4 237.8h0M146.2 239.4h0M94.7 238.5h0M167.2 244.3h0M107.0 235.9h0M138.8 272.8h0M60.4 176.7h0M125.7 271.4h0M111.8 275.6h0" stroke="#f2844b" stroke-width="9.40" stroke-linecap="round" fill="none"/><path d="M83.4 210.8h0M108.7 271.8h0M129.9 233.6h0M70.3 237.1h0M141.5 251.2h0" stroke="#fca636" stroke-width="9.40" stroke-linecap="round" fill="none"/>
</g>
<text x="1242.0" y="481.4" font-size="23.5" text-anchor="middle" font-style="italic">Nkg7</text>
<g transform="translate(1348.9,462.3) scale(0.548)">
<path d="M31.9,169.0 C32.8,166.8 35.3,166.8 38.0,166.5 C40.7,166.2 44.4,166.4 47.9,167.5 C51.4,168.6 55.5,171.3 59.3,173.2 C63.1,175.1 67.3,177.0 70.7,179.0 C74.1,181.0 77.6,182.8 79.9,185.0 C82.2,187.2 84.2,190.4 84.5,192.0 C84.8,193.6 83.3,194.6 82.0,194.5 C80.7,194.4 79.3,192.8 76.5,191.5 C73.7,190.2 68.2,187.9 65.0,187.0 C61.8,186.1 59.4,185.5 57.0,186.0 C54.6,186.5 51.9,187.7 50.5,190.0 C49.1,192.3 48.7,196.4 48.5,200.0 C48.3,203.6 48.4,207.6 49.5,211.5 C50.6,215.4 52.4,220.0 55.0,223.5 C57.6,227.0 61.4,230.3 65.0,232.5 C68.6,234.7 72.7,236.2 76.5,236.5 C80.3,236.8 84.1,234.8 88.0,234.0 C91.9,233.2 95.2,232.4 100.0,232.0 C104.8,231.6 111.8,231.7 116.5,231.5 C121.2,231.3 124.1,231.2 127.9,230.9 C131.7,230.6 135.6,230.4 139.4,229.8 C143.2,229.2 147.0,228.1 150.8,227.5 C154.6,226.9 158.4,226.9 162.2,226.3 C166.0,225.7 170.3,224.8 173.7,224.0 C177.1,223.2 181.9,221.0 182.8,221.8 C183.8,222.6 181.1,225.2 179.4,228.6 C177.7,232.0 174.8,237.9 172.5,242.3 C170.2,246.7 167.8,251.8 165.7,254.9 C163.6,257.9 160.8,258.5 160.0,260.6 C159.2,262.7 161.7,265.6 161.1,267.5 C160.5,269.4 157.8,270.0 156.5,272.1 C155.2,274.2 154.4,277.4 153.1,280.1 C151.8,282.8 150.8,285.8 148.5,288.1 C146.2,290.4 142.8,292.7 139.4,293.8 C136.0,294.9 131.7,295.8 127.9,295.0 C124.1,294.2 120.7,291.7 116.5,289.2 C112.3,286.7 107.4,283.5 102.8,280.1 C98.2,276.7 93.0,272.4 89.0,268.6 C85.0,264.8 81.1,260.2 78.8,257.2 C76.5,254.1 78.0,252.8 75.3,250.3 C72.6,247.8 66.7,245.2 62.7,242.3 C58.7,239.5 54.7,236.4 51.3,233.2 C47.9,230.0 44.7,226.5 42.2,222.9 C39.7,219.3 37.8,216.3 36.4,211.5 C35.0,206.7 34.8,199.6 34.1,194.3 C33.4,189.1 32.8,184.2 32.4,180.0 C32.0,175.8 31.0,171.2 31.9,169.0Z" fill="#d6d6d6" stroke="#d6d6d6" stroke-width="8" stroke-linejoin="round"/><path d="M83.0,195.0 C85.3,194.2 91.2,196.7 95.0,197.5 C98.8,198.3 102.2,199.1 106.0,200.0 C109.8,200.9 114.3,201.8 118.0,203.0 C121.7,204.2 125.2,205.2 128.0,207.0 C130.8,208.8 133.7,211.2 135.0,214.0 C136.3,216.8 137.2,221.3 136.0,224.0 C134.8,226.7 131.3,228.8 128.0,230.0 C124.7,231.2 120.7,230.8 116.0,231.0 C111.3,231.2 104.7,231.1 100.0,231.5 C95.3,231.9 91.3,233.9 88.0,233.5 C84.7,233.1 81.3,232.2 80.0,229.0 C78.7,225.8 79.8,218.5 80.0,214.0 C80.2,209.5 80.5,205.2 81.0,202.0 C81.5,198.8 80.7,195.8 83.0,195.0Z" fill="#d6d6d6" stroke="#d6d6d6" stroke-width="8" stroke-linejoin="round"/><path d="M140.0,226.0 C143.0,222.7 153.7,223.5 160.0,222.0 C166.3,220.5 173.2,218.5 178.0,217.0 C182.8,215.5 186.7,212.7 189.0,213.0 C191.3,213.3 192.5,216.0 192.0,219.0 C191.5,222.0 188.0,226.8 186.0,231.0 C184.0,235.2 181.3,239.7 180.0,244.0 C178.7,248.3 180.3,254.0 178.0,257.0 C175.7,260.0 170.0,261.8 166.0,262.0 C162.0,262.2 158.0,261.3 154.0,258.0 C150.0,254.7 144.3,247.3 142.0,242.0 C139.7,236.7 137.0,229.3 140.0,226.0Z" fill="#d6d6d6" stroke="#d6d6d6" stroke-width="8" stroke-linejoin="round"/><path d="M160.0,243.0 C162.2,239.5 170.3,238.8 175.0,236.0 C179.7,233.2 184.5,228.7 188.0,226.0 C191.5,223.3 194.0,218.5 196.0,220.0 C198.0,221.5 199.5,229.0 200.0,235.0 C200.5,241.0 200.0,251.5 199.0,256.0 C198.0,260.5 198.0,260.8 194.0,262.0 C190.0,263.2 180.3,263.8 175.0,263.0 C169.7,262.2 164.5,260.3 162.0,257.0 C159.5,253.7 157.8,246.5 160.0,243.0Z" fill="#d6d6d6" stroke="#d6d6d6" stroke-width="8" stroke-linejoin="round"/><path d="M223.2,110.1 C225.3,108.6 229.0,107.0 233.0,106.6 C237.0,106.2 242.7,107.6 247.3,107.9 C251.9,108.2 256.9,108.2 260.6,108.3 C264.3,108.4 266.5,107.5 269.5,108.3 C272.5,109.0 275.7,110.7 278.4,112.8 C281.1,114.9 283.7,117.8 285.5,120.8 C287.3,123.8 288.1,126.8 289.1,130.6 C290.1,134.4 289.8,139.4 291.7,143.9 C293.6,148.4 298.8,152.9 300.6,157.3 C302.4,161.8 301.8,166.2 302.4,170.6 C303.0,175.0 302.7,179.6 304.2,184.0 C305.7,188.4 309.8,193.6 311.3,197.3 C312.8,201.0 312.8,202.5 313.1,206.2 C313.4,209.9 313.7,215.1 313.1,219.5 C312.5,223.9 310.5,228.5 309.5,232.9 C308.5,237.3 308.1,242.5 306.9,246.2 C305.7,249.9 304.9,252.1 302.4,255.1 C299.9,258.1 295.7,261.6 291.7,264.0 C287.7,266.4 282.8,268.1 278.4,269.3 C273.9,270.5 268.7,271.1 265.0,271.1 C261.3,271.1 259.1,270.0 256.2,269.3 C253.2,268.6 250.0,267.6 247.3,266.7 C244.6,265.8 242.2,263.7 240.1,264.0 C238.0,264.3 237.3,267.9 234.8,268.4 C232.3,268.8 228.4,268.2 225.0,266.7 C221.6,265.2 217.4,262.9 214.4,259.5 C211.4,256.1 209.1,249.9 207.2,246.2 C205.3,242.5 204.3,241.0 202.8,237.3 C201.3,233.6 199.3,228.4 198.3,224.0 C197.3,219.6 196.4,214.3 196.6,210.6 C196.8,206.9 198.0,205.4 199.2,201.7 C200.4,198.0 202.4,192.4 203.7,188.4 C205.0,184.4 205.9,180.7 207.2,177.7 C208.5,174.7 210.9,174.0 211.7,170.6 C212.4,167.2 211.4,162.5 211.7,157.3 C212.0,152.1 212.6,144.7 213.5,139.5 C214.4,134.3 215.8,130.1 217.0,126.1 C218.2,122.1 219.6,118.2 220.6,115.5 C221.6,112.8 221.1,111.6 223.2,110.1Z" fill="#d6d6d6" stroke="#d6d6d6" stroke-width="8" stroke-linejoin="round"/>
<path d="M266.4 211.7h0M283.6 247.2h0M301.5 197.4h0" stroke="#0d0887" stroke-width="9.40" stroke-linecap="round" fill="none"/><path d="M260.1 255.3h0M261.0 220.4h0M304.4 234.7h0M254.1 169.5h0M279.1 208.2h0M267.1 195.9h0M306.2 225.5h0M223.7 118.7h0M289.3 232.9h0M269.7 175.3h0M219.6 119.8h0" stroke="#41049d" stroke-width="9.40" stroke-linecap="round" fill="none"/><path d="M206.3 189.9h0M268.4 269.4h0M243.5 236.0h0M273.9 116.0h0M287.1 163.7h0M265.9 156.1h0M255.0 206.8h0M225.1 191.7h0M294.7 180.0h0M232.4 231.3h0M230.5 194.8h0M268.3 161.5h0M279.3 246.5h0M237.7 205.3h0M240.7 227.6h0M286.2 173.3h0M39.5 176.3h0M227.7 118.7h0M228.7 245.5h0M273.6 135.6h0M227.1 215.4h0M267.6 139.2h0" stroke="#6a00a8" stroke-width="9.40" stroke-linecap="round" fill="none"/><path d="M137.5 259.0h0M103.2 255.0h0M118.4 272.4h0M293.0 228.7h0M226.6 213.7h0M263.1 202.1h0M244.5 161.4h0M151.3 274.1h0M148.4 234.3h0M45.3 220.6h0M40.3 216.8h0M136.5 264.9h0M220.1 147.7h0M307.4 207.8h0M135.6 248.8h0M243.7 118.9h0M226.8 196.9h0M273.6 219.6h0M84.2 256.5h0M165.4 227.9h0M259.5 129.3h0M222.0 186.6h0M259.1 126.4h0M246.7 195.0h0" stroke="#8f0da4" stroke-width="9.40" stroke-linecap="round" fill="none"/><path d="M120.5 286.2h0M291.4 204.0h0M257.0 210.3h0M246.4 243.6h0M123.3 256.7h0M286.4 239.2h0M302.9 176.6h0M214.4 176.7h0M154.9 264.7h0M137.7 273.1h0M223.6 115.3h0M129.0 244.6h0M81.7 205.5h0M39.3 213.3h0M225.5 239.0h0M63.9 241.7h0M72.8 242.5h0M164.7 250.1h0M232.5 191.3h0M94.9 250.6h0M255.1 219.4h0M228.5 156.1h0M128.0 259.1h0M39.6 191.4h0M107.8 265.5h0M40.1 206.6h0M160.8 238.3h0M113.4 281.4h0M259.6 147.0h0M36.1 192.7h0M168.9 229.2h0M50.8 182.9h0M119.6 241.1h0M304.2 251.2h0M100.3 257.9h0M249.7 227.0h0M112.8 283.7h0M37.6 210.0h0M40.4 170.0h0M139.1 290.3h0M59.0 229.8h0M78.9 185.8h0M149.7 228.5h0M44.7 203.5h0M213.7 222.2h0M66.9 233.5h0" stroke="#b12a90" stroke-width="9.40" stroke-linecap="round" fill="none"/><path d="M71.0 244.0h0M129.6 294.0h0M120.7 287.7h0M79.2 253.0h0M54.7 178.6h0M108.6 275.9h0M62.2 180.9h0M41.5 178.3h0M136.9 230.1h0M125.3 242.0h0M168.5 233.6h0M35.3 191.4h0M48.1 223.4h0M138.3 271.9h0M101.9 253.3h0M145.4 241.2h0M113.6 236.1h0M115.2 252.9h0M76.5 246.2h0M39.3 214.8h0M154.8 248.7h0M99.3 246.7h0M103.9 230.6h0M44.6 207.0h0M108.4 247.8h0M80.4 249.6h0M112.9 235.1h0M121.4 265.3h0M76.6 248.2h0M128.9 254.0h0M38.6 179.9h0M96.2 243.8h0M106.4 272.6h0M254.0 200.5h0M68.2 179.5h0M103.0 270.2h0M157.2 236.0h0M42.5 181.1h0M305.7 210.1h0M67.0 187.0h0M145.4 275.3h0M77.9 187.4h0M49.2 186.4h0M45.1 182.0h0M40.7 217.8h0M135.6 255.5h0M95.0 263.9h0M47.4 172.1h0M142.8 252.6h0M92.4 233.3h0M168.7 242.8h0M45.7 212.0h0M151.6 257.2h0M105.5 240.2h0M68.1 186.0h0M157.7 243.0h0M113.3 238.5h0M151.5 262.5h0M36.8 207.9h0M52.8 174.5h0M178.4 225.6h0M44.1 218.4h0M106.7 262.2h0M122.4 284.9h0M163.3 233.4h0M42.1 222.7h0M35.6 174.6h0M49.0 177.2h0M261.6 148.2h0M218.5 177.0h0M228.4 171.0h0" stroke="#cc4778" stroke-width="9.40" stroke-linecap="round" fill="none"/><path d="M49.8 230.2h0M133.9 249.5h0M114.2 284.6h0M45.5 172.6h0M46.1 171.8h0M104.7 227.7h0M138.9 257.0h0M40.5 190.3h0M138.0 280.0h0M174.3 229.6h0M127.3 287.6h0M146.9 261.5h0M39.9 167.5h0M88.9 243.0h0M69.4 236.9h0M124.8 287.5h0M36.2 177.5h0M130.6 232.5h0M70.6 236.5h0M153.0 241.5h0M123.7 231.2h0M138.5 244.6h0M134.4 263.9h0M78.5 240.5h0M127.8 239.2h0M43.5 191.9h0M96.9 266.0h0M136.5 286.7h0M58.4 173.1h0M94.2 262.1h0M37.6 179.5h0M123.3 232.9h0M124.4 267.4h0M125.2 291.3h0M117.5 265.9h0M119.1 256.3h0M45.6 220.5h0M149.6 285.7h0M152.6 241.5h0M134.9 244.0h0M75.0 249.6h0M140.6 236.1h0M103.9 247.1h0M77.2 249.2h0M166.0 231.7h0M128.0 235.9h0M148.4 254.7h0M33.6 180.5h0M133.7 279.9h0M113.5 255.5h0M134.8 268.9h0M136.4 275.9h0M129.5 263.7h0M129.9 253.8h0M37.5 186.3h0M47.4 194.7h0M150.3 261.0h0M261.3 129.7h0M88.1 236.3h0M45.3 222.6h0M131.7 261.9h0M88.7 238.3h0M121.5 278.7h0M80.5 209.2h0M44.7 219.4h0M146.2 257.8h0M139.3 288.5h0M164.4 252.0h0M82.8 250.8h0M70.2 184.0h0M136.6 244.7h0M140.3 258.9h0M38.3 196.3h0M121.4 251.8h0M96.0 244.6h0M169.7 239.1h0M122.9 291.2h0M89.3 225.5h0M94.6 238.5h0M80.2 257.3h0M132.5 255.4h0M171.9 234.6h0M45.5 196.0h0M147.6 263.0h0" stroke="#e16462" stroke-width="9.40" stroke-linecap="round" fill="none"/><path d="M34.3 181.0h0M46.0 198.5h0M163.9 227.3h0M119.8 253.4h0M128.5 291.7h0M40.9 188.2h0M116.1 277.0h0M115.2 240.6h0M45.0 192.2h0M106.7 249.4h0M108.1 226.5h0M55.5 230.5h0M169.8 242.1h0M121.7 276.3h0M54.6 225.5h0M116.7 248.9h0M102.8 276.0h0M119.6 270.3h0M122.1 290.7h0M120.3 264.7h0M141.3 277.4h0M142.8 232.7h0M72.2 247.1h0M109.1 257.5h0M54.7 231.6h0M121.6 290.3h0M43.8 186.1h0M40.0 178.5h0M66.5 181.0h0M68.3 182.1h0M100.9 257.2h0M75.7 239.8h0M116.9 233.8h0M175.2 232.5h0M138.4 277.9h0M47.2 178.0h0M143.1 253.3h0M90.0 246.2h0M40.6 199.4h0M68.9 187.8h0M112.0 273.4h0M134.6 262.8h0M96.8 263.3h0M118.4 287.5h0M49.1 192.1h0M151.9 242.0h0M98.8 261.3h0M139.1 273.3h0M101.2 199.8h0M150.6 251.0h0M127.0 269.0h0M80.3 245.2h0M148.0 255.0h0M116.0 258.1h0M46.8 228.0h0M129.5 290.7h0M140.5 262.6h0M98.6 275.8h0M126.6 259.7h0M152.3 242.5h0M38.8 205.2h0M41.7 211.2h0M131.6 265.7h0M128.1 287.3h0M108.8 236.1h0M123.5 246.1h0M136.4 258.7h0M84.1 259.4h0M49.4 173.6h0M118.6 258.0h0M114.4 278.6h0M106.7 248.7h0M84.9 242.5h0M97.1 247.7h0M151.8 246.9h0M45.3 206.3h0M136.8 253.4h0M81.2 253.9h0M102.2 238.9h0M41.3 217.1h0M43.1 178.3h0M137.2 258.5h0M107.0 266.6h0M136.6 260.7h0M104.5 258.5h0M56.6 228.5h0M113.9 222.2h0M40.2 210.0h0M166.3 241.1h0M153.9 270.6h0M152.8 263.9h0M86.8 251.2h0M69.3 234.5h0M81.6 260.2h0M136.6 252.1h0M106.0 273.0h0M48.5 197.0h0M105.4 255.5h0M167.2 244.9h0M52.0 171.7h0" stroke="#f2844b" stroke-width="9.40" stroke-linecap="round" fill="none"/><path d="M119.1 279.6h0M55.3 181.2h0M83.1 242.0h0M110.6 247.7h0M116.2 288.5h0M48.9 174.7h0M144.3 245.8h0M46.4 227.0h0M51.4 171.3h0M80.4 258.4h0M89.8 220.2h0M119.9 254.5h0M149.1 240.9h0M38.3 171.0h0M72.7 183.3h0M143.6 259.1h0M131.2 269.9h0M42.0 179.4h0M113.7 282.3h0M65.2 242.3h0M125.5 279.5h0M181.7 222.7h0M53.1 170.6h0M141.4 238.7h0M132.9 238.5h0M138.7 267.6h0M116.4 254.3h0M80.9 256.5h0M71.3 186.5h0M78.9 244.0h0M175.0 228.3h0M39.4 191.3h0M137.1 250.3h0M129.9 282.2h0M100.1 240.1h0M111.2 270.0h0M112.3 276.4h0M56.6 236.2h0M159.7 250.7h0M156.6 269.3h0M133.5 283.5h0M147.7 257.7h0M139.5 285.7h0M130.5 263.5h0M133.8 243.5h0M137.1 274.3h0M144.9 244.3h0M107.0 240.6h0M125.3 281.9h0M61.6 186.4h0M111.5 249.2h0M171.8 237.8h0" stroke="#fca636" stroke-width="9.40" stroke-linecap="round" fill="none"/><path d="M146.9 258.4h0M118.4 261.1h0M52.4 179.8h0M113.4 233.7h0M138.0 275.0h0M77.1 188.8h0M130.7 239.3h0M133.6 231.8h0M151.9 234.2h0M46.7 222.9h0M114.7 276.9h0M121.4 236.9h0M161.8 238.6h0M132.7 289.7h0M86.9 257.9h0M113.6 240.1h0M123.1 237.1h0M116.3 242.1h0M147.4 238.8h0M156.9 260.3h0M117.3 230.9h0M37.9 169.2h0" stroke="#fcce25" stroke-width="9.40" stroke-linecap="round" fill="none"/>
</g>
<text x="1422.0" y="481.4" font-size="23.5" text-anchor="middle" font-style="italic">Tbx21</text>
<g transform="translate(1533.9,462.3) scale(0.548)">
<path d="M31.9,169.0 C32.8,166.8 35.3,166.8 38.0,166.5 C40.7,166.2 44.4,166.4 47.9,167.5 C51.4,168.6 55.5,171.3 59.3,173.2 C63.1,175.1 67.3,177.0 70.7,179.0 C74.1,181.0 77.6,182.8 79.9,185.0 C82.2,187.2 84.2,190.4 84.5,192.0 C84.8,193.6 83.3,194.6 82.0,194.5 C80.7,194.4 79.3,192.8 76.5,191.5 C73.7,190.2 68.2,187.9 65.0,187.0 C61.8,186.1 59.4,185.5 57.0,186.0 C54.6,186.5 51.9,187.7 50.5,190.0 C49.1,192.3 48.7,196.4 48.5,200.0 C48.3,203.6 48.4,207.6 49.5,211.5 C50.6,215.4 52.4,220.0 55.0,223.5 C57.6,227.0 61.4,230.3 65.0,232.5 C68.6,234.7 72.7,236.2 76.5,236.5 C80.3,236.8 84.1,234.8 88.0,234.0 C91.9,233.2 95.2,232.4 100.0,232.0 C104.8,231.6 111.8,231.7 116.5,231.5 C121.2,231.3 124.1,231.2 127.9,230.9 C131.7,230.6 135.6,230.4 139.4,229.8 C143.2,229.2 147.0,228.1 150.8,227.5 C154.6,226.9 158.4,226.9 162.2,226.3 C166.0,225.7 170.3,224.8 173.7,224.0 C177.1,223.2 181.9,221.0 182.8,221.8 C183.8,222.6 181.1,225.2 179.4,228.6 C177.7,232.0 174.8,237.9 172.5,242.3 C170.2,246.7 167.8,251.8 165.7,254.9 C163.6,257.9 160.8,258.5 160.0,260.6 C159.2,262.7 161.7,265.6 161.1,267.5 C160.5,269.4 157.8,270.0 156.5,272.1 C155.2,274.2 154.4,277.4 153.1,280.1 C151.8,282.8 150.8,285.8 148.5,288.1 C146.2,290.4 142.8,292.7 139.4,293.8 C136.0,294.9 131.7,295.8 127.9,295.0 C124.1,294.2 120.7,291.7 116.5,289.2 C112.3,286.7 107.4,283.5 102.8,280.1 C98.2,276.7 93.0,272.4 89.0,268.6 C85.0,264.8 81.1,260.2 78.8,257.2 C76.5,254.1 78.0,252.8 75.3,250.3 C72.6,247.8 66.7,245.2 62.7,242.3 C58.7,239.5 54.7,236.4 51.3,233.2 C47.9,230.0 44.7,226.5 42.2,222.9 C39.7,219.3 37.8,216.3 36.4,211.5 C35.0,206.7 34.8,199.6 34.1,194.3 C33.4,189.1 32.8,184.2 32.4,180.0 C32.0,175.8 31.0,171.2 31.9,169.0Z" fill="#d6d6d6" stroke="#d6d6d6" stroke-width="8" stroke-linejoin="round"/><path d="M83.0,195.0 C85.3,194.2 91.2,196.7 95.0,197.5 C98.8,198.3 102.2,199.1 106.0,200.0 C109.8,200.9 114.3,201.8 118.0,203.0 C121.7,204.2 125.2,205.2 128.0,207.0 C130.8,208.8 133.7,211.2 135.0,214.0 C136.3,216.8 137.2,221.3 136.0,224.0 C134.8,226.7 131.3,228.8 128.0,230.0 C124.7,231.2 120.7,230.8 116.0,231.0 C111.3,231.2 104.7,231.1 100.0,231.5 C95.3,231.9 91.3,233.9 88.0,233.5 C84.7,233.1 81.3,232.2 80.0,229.0 C78.7,225.8 79.8,218.5 80.0,214.0 C80.2,209.5 80.5,205.2 81.0,202.0 C81.5,198.8 80.7,195.8 83.0,195.0Z" fill="#d6d6d6" stroke="#d6d6d6" stroke-width="8" stroke-linejoin="round"/><path d="M140.0,226.0 C143.0,222.7 153.7,223.5 160.0,222.0 C166.3,220.5 173.2,218.5 178.0,217.0 C182.8,215.5 186.7,212.7 189.0,213.0 C191.3,213.3 192.5,216.0 192.0,219.0 C191.5,222.0 188.0,226.8 186.0,231.0 C184.0,235.2 181.3,239.7 180.0,244.0 C178.7,248.3 180.3,254.0 178.0,257.0 C175.7,260.0 170.0,261.8 166.0,262.0 C162.0,262.2 158.0,261.3 154.0,258.0 C150.0,254.7 144.3,247.3 142.0,242.0 C139.7,236.7 137.0,229.3 140.0,226.0Z" fill="#d6d6d6" stroke="#d6d6d6" stroke-width="8" stroke-linejoin="round"/><path d="M160.0,243.0 C162.2,239.5 170.3,238.8 175.0,236.0 C179.7,233.2 184.5,228.7 188.0,226.0 C191.5,223.3 194.0,218.5 196.0,220.0 C198.0,221.5 199.5,229.0 200.0,235.0 C200.5,241.0 200.0,251.5 199.0,256.0 C198.0,260.5 198.0,260.8 194.0,262.0 C190.0,263.2 180.3,263.8 175.0,263.0 C169.7,262.2 164.5,260.3 162.0,257.0 C159.5,253.7 157.8,246.5 160.0,243.0Z" fill="#d6d6d6" stroke="#d6d6d6" stroke-width="8" stroke-linejoin="round"/><path d="M223.2,110.1 C225.3,108.6 229.0,107.0 233.0,106.6 C237.0,106.2 242.7,107.6 247.3,107.9 C251.9,108.2 256.9,108.2 260.6,108.3 C264.3,108.4 266.5,107.5 269.5,108.3 C272.5,109.0 275.7,110.7 278.4,112.8 C281.1,114.9 283.7,117.8 285.5,120.8 C287.3,123.8 288.1,126.8 289.1,130.6 C290.1,134.4 289.8,139.4 291.7,143.9 C293.6,148.4 298.8,152.9 300.6,157.3 C302.4,161.8 301.8,166.2 302.4,170.6 C303.0,175.0 302.7,179.6 304.2,184.0 C305.7,188.4 309.8,193.6 311.3,197.3 C312.8,201.0 312.8,202.5 313.1,206.2 C313.4,209.9 313.7,215.1 313.1,219.5 C312.5,223.9 310.5,228.5 309.5,232.9 C308.5,237.3 308.1,242.5 306.9,246.2 C305.7,249.9 304.9,252.1 302.4,255.1 C299.9,258.1 295.7,261.6 291.7,264.0 C287.7,266.4 282.8,268.1 278.4,269.3 C273.9,270.5 268.7,271.1 265.0,271.1 C261.3,271.1 259.1,270.0 256.2,269.3 C253.2,268.6 250.0,267.6 247.3,266.7 C244.6,265.8 242.2,263.7 240.1,264.0 C238.0,264.3 237.3,267.9 234.8,268.4 C232.3,268.8 228.4,268.2 225.0,266.7 C221.6,265.2 217.4,262.9 214.4,259.5 C211.4,256.1 209.1,249.9 207.2,246.2 C205.3,242.5 204.3,241.0 202.8,237.3 C201.3,233.6 199.3,228.4 198.3,224.0 C197.3,219.6 196.4,214.3 196.6,210.6 C196.8,206.9 198.0,205.4 199.2,201.7 C200.4,198.0 202.4,192.4 203.7,188.4 C205.0,184.4 205.9,180.7 207.2,177.7 C208.5,174.7 210.9,174.0 211.7,170.6 C212.4,167.2 211.4,162.5 211.7,157.3 C212.0,152.1 212.6,144.7 213.5,139.5 C214.4,134.3 215.8,130.1 217.0,126.1 C218.2,122.1 219.6,118.2 220.6,115.5 C221.6,112.8 221.1,111.6 223.2,110.1Z" fill="#d6d6d6" stroke="#d6d6d6" stroke-width="8" stroke-linejoin="round"/>
<path d="M51.3 189.4h0M264.4 130.0h0M249.6 158.0h0M258.9 178.7h0M266.6 150.8h0M48.7 214.8h0M221.0 217.1h0M243.4 107.9h0M265.5 210.0h0" stroke="#0d0887" stroke-width="9.40" stroke-linecap="round" fill="none"/><path d="M245.2 245.6h0M260.4 114.4h0M228.2 174.4h0M296.4 161.0h0M148.9 269.7h0M97.3 265.4h0M229.4 209.8h0M248.8 258.3h0M68.8 179.5h0M141.6 290.0h0M37.1 204.0h0M75.3 240.0h0M159.4 264.3h0M139.5 267.0h0M41.9 180.0h0M130.8 264.3h0M277.7 167.3h0M61.5 181.1h0M275.7 168.2h0M245.8 241.7h0M233.1 209.1h0M83.0 220.5h0M217.5 254.7h0M147.1 271.6h0M244.6 144.9h0M266.6 178.2h0M292.2 203.9h0M46.3 224.8h0M283.3 157.7h0M248.7 176.9h0M266.8 161.4h0M248.3 116.6h0M58.6 176.0h0M236.5 107.2h0M249.2 109.7h0M206.1 234.4h0M110.0 223.8h0M128.2 239.6h0M221.0 154.2h0M41.9 194.5h0M298.4 156.2h0M236.6 247.0h0M261.3 196.8h0M99.1 239.9h0M254.9 149.3h0M261.3 206.4h0M277.2 250.5h0M46.8 170.5h0" stroke="#41049d" stroke-width="9.40" stroke-linecap="round" fill="none"/><path d="M236.0 190.6h0M64.5 178.7h0M87.8 265.4h0M248.2 145.4h0M247.6 163.1h0M218.8 145.5h0M219.9 202.0h0M310.2 208.3h0M288.9 248.3h0M246.0 220.7h0M41.6 211.9h0M106.5 256.2h0M208.4 223.3h0M49.3 220.1h0M248.8 149.4h0M279.7 239.6h0M56.2 178.1h0M287.0 125.5h0M163.2 255.9h0M221.6 143.6h0M141.1 248.5h0M257.6 150.9h0M233.9 170.9h0M169.3 247.9h0M115.7 233.8h0M145.7 276.0h0M229.3 174.0h0M99.9 259.5h0M108.0 259.2h0M236.0 257.1h0M228.9 172.9h0M215.8 137.1h0M260.5 182.7h0M274.6 116.0h0M282.9 192.3h0M76.3 184.4h0M247.9 263.5h0M293.9 189.9h0M305.0 208.4h0M113.9 243.2h0M48.3 191.3h0M220.3 262.3h0M268.9 108.6h0M203.8 217.9h0M204.3 203.2h0M236.9 124.4h0M89.4 241.5h0M167.3 227.5h0M286.2 206.9h0M35.8 173.6h0M34.6 174.6h0M247.3 195.1h0M250.4 126.2h0M91.9 254.1h0M269.5 224.7h0M253.2 138.3h0M99.6 246.9h0M216.1 175.9h0M44.2 181.8h0M229.4 206.4h0M228.2 138.8h0M294.3 222.1h0M247.7 245.8h0M223.4 211.4h0M211.9 189.7h0M241.8 181.7h0M41.3 199.6h0M234.0 148.6h0M291.2 233.0h0M221.8 250.3h0M258.6 142.9h0M122.3 287.3h0M287.6 143.3h0M287.6 243.3h0M282.9 145.5h0M260.8 212.7h0M47.9 218.2h0M284.1 256.0h0M76.8 188.7h0M264.0 256.5h0M246.7 137.9h0M213.9 186.7h0M275.4 253.9h0M235.4 166.5h0M253.0 129.2h0M266.2 236.6h0M216.3 218.2h0M250.3 266.1h0M287.7 235.7h0M291.9 181.4h0M256.8 108.9h0M246.9 253.6h0M77.0 189.7h0M240.2 216.0h0M271.4 255.4h0M223.9 116.9h0M136.2 238.7h0M211.8 186.1h0" stroke="#6a00a8" stroke-width="9.40" stroke-linecap="round" fill="none"/><path d="M42.9 221.7h0M255.9 233.8h0M219.9 121.7h0M296.2 184.6h0M47.6 192.8h0M119.6 280.8h0M307.4 233.7h0M237.4 199.8h0M76.8 246.2h0M216.7 252.0h0M261.8 247.5h0M288.3 184.3h0M59.3 177.4h0M217.7 256.9h0M68.5 184.7h0M257.2 198.6h0M126.1 270.9h0M249.6 183.1h0M238.5 247.1h0M203.2 210.7h0M139.2 247.7h0M254.1 247.4h0M273.2 216.7h0M88.2 248.4h0M274.8 178.0h0M35.6 195.0h0M285.1 158.4h0M35.1 174.9h0M40.2 187.5h0M113.4 244.3h0M236.6 247.2h0M110.1 270.3h0M253.4 207.6h0M99.5 251.4h0M199.5 201.2h0M236.1 255.8h0M127.0 249.2h0M241.8 245.5h0M43.8 190.7h0M265.2 120.8h0M248.5 181.6h0M294.6 242.2h0M140.6 291.0h0M280.1 210.1h0M105.0 261.9h0M228.4 166.0h0M128.2 234.0h0M296.2 206.5h0M204.4 233.4h0M46.8 189.4h0M37.6 176.0h0M246.1 164.3h0M239.9 173.1h0M77.4 247.2h0M243.7 108.1h0M33.6 173.8h0M152.4 245.2h0M252.3 215.7h0M166.3 235.7h0M91.7 249.1h0M279.1 199.3h0M60.9 238.7h0M290.8 148.1h0M106.8 253.0h0M240.1 139.2h0M52.3 231.9h0M65.0 183.6h0M253.5 254.7h0M50.6 216.9h0M147.4 262.9h0M235.3 252.5h0M220.8 238.4h0M125.5 256.0h0M97.2 242.9h0M80.7 245.2h0M72.8 248.1h0M220.1 187.8h0M242.7 247.9h0M291.2 248.2h0M262.6 138.6h0M115.2 238.9h0M35.4 184.7h0M212.6 150.7h0M254.2 233.8h0M284.1 182.6h0M244.2 252.5h0M289.9 211.2h0M233.8 125.8h0M145.1 255.4h0M268.7 155.9h0M65.2 176.3h0M146.4 263.8h0M254.8 247.0h0M141.6 262.0h0M304.7 217.4h0M227.2 159.9h0M69.2 241.5h0M257.4 163.7h0M293.2 165.2h0M159.1 252.6h0M200.5 226.6h0M217.5 166.9h0M60.9 183.0h0M267.1 234.9h0M268.7 221.7h0M232.7 132.2h0M147.5 283.8h0M248.6 218.9h0M249.5 260.2h0M73.9 188.6h0M45.0 175.7h0M46.5 198.7h0M41.2 202.0h0M243.6 187.3h0M274.8 158.3h0M279.6 256.8h0M47.9 193.8h0M265.2 122.7h0M33.7 170.9h0M235.4 128.8h0M257.1 225.2h0M46.8 190.5h0M154.1 264.1h0M310.9 224.6h0M301.3 184.2h0M226.9 229.6h0M304.8 235.2h0M295.8 183.6h0M35.3 177.4h0M171.0 240.8h0M214.4 194.5h0M218.5 223.7h0M284.8 154.0h0M250.6 220.9h0M112.5 237.9h0M120.4 232.4h0M274.6 205.0h0M40.7 214.4h0M97.7 250.7h0M34.0 180.9h0M252.0 239.6h0M140.2 233.1h0M108.1 272.1h0M42.1 206.6h0M64.0 185.7h0M125.7 274.7h0M223.5 230.6h0" stroke="#8f0da4" stroke-width="9.40" stroke-linecap="round" fill="none"/><path d="M228.6 172.5h0M164.8 237.7h0M169.6 231.7h0M77.5 243.0h0M303.2 212.5h0M263.6 194.6h0M273.5 122.7h0M145.4 242.9h0M42.1 207.3h0M160.3 267.6h0M131.5 278.6h0M112.7 244.8h0M228.7 247.9h0M114.0 250.5h0M132.2 288.0h0M104.5 261.7h0M131.6 230.8h0M219.1 151.9h0M171.2 238.4h0M107.0 277.2h0M258.1 161.2h0M127.8 281.0h0M250.7 257.4h0M164.9 243.9h0M231.9 126.9h0M256.8 158.1h0M96.2 274.6h0M142.8 269.9h0M146.3 262.6h0M272.8 229.6h0M181.5 222.2h0M127.4 263.8h0M135.1 268.8h0M260.1 217.1h0M155.5 266.1h0M237.7 200.2h0M276.9 239.0h0M104.9 220.3h0M106.0 254.0h0M123.8 237.0h0M104.4 236.9h0M274.5 257.9h0M229.8 147.6h0M248.8 259.2h0M113.9 265.5h0M210.4 188.0h0M148.2 238.4h0M261.6 118.7h0M169.7 246.1h0M222.4 226.1h0M258.2 194.2h0M220.6 242.5h0M233.2 224.6h0M43.5 181.7h0M110.8 284.3h0M265.1 241.3h0M37.3 207.1h0M82.4 193.0h0M283.6 158.1h0M129.4 263.3h0M242.3 202.3h0M103.6 260.9h0M255.6 217.1h0M240.8 114.4h0M124.8 288.3h0M204.7 188.6h0M239.3 171.4h0M223.1 225.0h0M309.0 205.2h0M239.1 212.8h0M95.9 271.5h0M91.5 256.1h0M242.3 254.1h0M266.1 153.1h0M227.6 205.1h0M254.1 204.4h0M281.9 184.4h0M219.7 203.9h0M153.0 232.6h0M269.0 116.2h0M115.3 281.3h0M271.9 265.6h0M143.7 280.2h0M290.8 178.8h0M278.7 149.5h0M100.9 268.9h0M145.5 267.0h0M54.3 230.7h0M153.2 239.4h0M126.3 256.6h0M50.8 172.4h0M298.1 188.3h0M218.1 174.0h0M284.5 260.8h0M34.9 193.2h0M276.7 204.0h0M118.3 269.9h0M167.3 244.6h0M100.8 236.4h0M293.9 177.0h0M236.7 211.6h0M93.9 239.4h0M203.6 194.5h0M125.2 257.1h0M172.9 232.0h0M122.0 236.8h0M79.6 248.8h0M282.3 261.6h0M288.1 242.6h0M129.2 286.7h0M78.2 251.3h0M292.5 248.0h0M119.3 275.3h0M116.5 282.8h0M236.9 206.0h0M285.5 150.5h0M274.2 214.4h0M240.4 184.9h0M88.4 247.1h0M45.4 192.8h0M301.9 192.1h0M45.3 192.1h0M134.2 256.2h0M288.4 130.6h0M299.5 220.6h0M261.0 147.9h0M115.0 281.8h0M220.8 174.3h0M263.5 162.5h0M96.2 251.1h0M287.5 241.6h0M109.4 233.5h0M223.7 135.0h0M206.1 227.4h0M261.5 216.5h0M124.0 273.4h0M290.0 220.7h0M283.2 203.9h0M222.7 141.6h0M156.9 235.3h0M117.9 270.9h0M126.8 232.3h0M42.2 179.6h0M304.2 214.6h0M45.5 175.8h0M111.7 279.3h0M312.0 204.9h0M246.4 221.1h0M218.4 259.1h0M102.2 256.9h0M250.4 117.5h0M91.8 261.5h0M229.8 136.2h0M110.1 267.3h0M53.8 234.0h0M158.7 237.9h0M128.8 292.1h0" stroke="#b12a90" stroke-width="9.40" stroke-linecap="round" fill="none"/><path d="M294.2 242.1h0M70.3 178.9h0M210.9 203.7h0M151.3 232.2h0M115.0 284.2h0M159.0 242.1h0M257.0 135.7h0M94.6 253.0h0M235.0 135.6h0M49.2 190.5h0M306.5 241.3h0M311.0 220.9h0M144.7 247.2h0M116.1 263.7h0M74.9 185.0h0M285.6 144.3h0M104.0 216.7h0M91.8 244.5h0M225.4 261.0h0M231.5 237.6h0M270.8 203.7h0M152.6 279.4h0M277.7 172.7h0M286.0 178.7h0M104.0 244.3h0M71.7 242.0h0M223.0 114.4h0M107.1 256.4h0M161.6 237.8h0M118.3 260.3h0M124.9 275.3h0M33.1 176.0h0M140.4 236.0h0M232.1 123.8h0M235.6 236.6h0M262.2 181.5h0M91.6 253.3h0M306.2 208.6h0M56.1 172.4h0M134.0 238.0h0M277.1 246.8h0M275.2 113.7h0M292.4 172.1h0M249.7 156.9h0M173.2 233.8h0M256.6 258.7h0M309.6 203.1h0M290.8 231.6h0M100.6 246.4h0M233.9 127.4h0M151.1 239.9h0M208.6 223.9h0M267.4 231.5h0M106.4 204.4h0M119.0 277.5h0M222.2 255.9h0M162.8 232.4h0M96.5 258.8h0M116.9 259.8h0M78.1 241.1h0M32.2 173.3h0M120.3 232.8h0M274.5 117.1h0M115.0 261.2h0M43.4 178.8h0M131.8 276.8h0M46.5 209.6h0M133.5 234.9h0M213.8 236.7h0M106.3 263.4h0M155.2 270.5h0M93.8 251.5h0M133.6 265.0h0M38.9 180.5h0M149.6 233.0h0M261.0 231.9h0M104.8 265.8h0M93.4 245.4h0M244.0 228.0h0M299.5 187.5h0M100.9 276.1h0M119.2 241.5h0M122.0 226.1h0M239.6 253.7h0M151.9 273.0h0M146.4 287.0h0" stroke="#cc4778" stroke-width="9.40" stroke-linecap="round" fill="none"/><path d="M87.2 256.9h0M126.2 258.7h0M120.9 262.0h0M118.3 225.1h0M129.6 255.5h0M101.8 211.5h0M37.0 187.9h0M147.6 278.0h0M38.8 215.3h0M53.4 234.8h0M111.2 246.7h0M98.0 256.6h0M169.5 242.5h0M168.4 237.4h0M104.7 239.0h0M136.6 290.0h0M63.9 236.1h0M177.2 228.0h0M47.3 205.1h0M236.8 155.6h0M134.2 283.0h0M92.3 222.7h0M281.9 183.8h0M41.1 208.6h0M109.7 276.9h0M247.5 110.8h0M120.9 277.1h0M57.0 184.9h0M157.0 263.0h0M127.1 290.6h0M163.0 253.0h0M143.3 250.7h0" stroke="#e16462" stroke-width="9.40" stroke-linecap="round" fill="none"/><path d="M288.3 205.7h0M157.9 251.9h0M83.4 257.7h0M99.4 269.3h0M138.5 287.4h0M49.1 180.4h0M115.8 237.8h0" stroke="#f2844b" stroke-width="9.40" stroke-linecap="round" fill="none"/><path d="M116.4 241.6h0M306.1 217.8h0M122.0 212.2h0" stroke="#fca636" stroke-width="9.40" stroke-linecap="round" fill="none"/>
</g>
<text x="1618.6" y="481.4" font-size="23.5" text-anchor="middle" font-style="italic">Tnf</text>
<defs><linearGradient id="gplasma" x1="0" y1="1" x2="0" y2="0"><stop offset="0" stop-color="#2c2a82"/><stop offset="0.2" stop-color="#5a2c92"/><stop offset="0.38" stop-color="#b03a96"/><stop offset="0.5" stop-color="#cc4a78"/><stop offset="0.62" stop-color="#e0655e"/><stop offset="0.75" stop-color="#eb8c48"/><stop offset="0.88" stop-color="#e8b83e"/><stop offset="1" stop-color="#e6f03c"/></linearGradient></defs>
<rect x="1786.3" y="278.7" width="32.0" height="139.2" fill="url(#gplasma)"/>
<text x="1802.0" y="262.0" font-size="24" text-anchor="middle">High</text>
<text x="1802.0" y="464.5" font-size="24" text-anchor="middle">Low</text>
<text x="1.0" y="721.0" font-size="47" font-weight="bold">d</text>
<circle cx="685.5" cy="731.0" r="10.7" fill="#2c5f8a"/>
<text x="716.0" y="739.5" font-size="23">Cluster 0</text>
<circle cx="850.3" cy="731.0" r="10.7" fill="#6bb8e2"/>
<text x="877.5" y="739.5" font-size="23">Cluster 1</text>
<circle cx="1021.0" cy="731.0" r="10.7" fill="#8dc63f"/>
<text x="1047.7" y="739.5" font-size="23">Cluster 2</text>
<text x="146.0" y="820.5" font-size="22.5" text-anchor="middle">Naive</text>
<text x="158.0" y="867.0" font-size="23.4" text-anchor="middle" font-style="italic">(Sell, Ccr7, Klf7, Socs3,</text><text x="164.5" y="894.5" font-size="23.4" text-anchor="middle" font-style="italic">Tshz2, Lef1, Tcf7, Foxp1)</text>
<path d="M81,920.9 V1170.7 H234" fill="none" stroke="#111" stroke-width="2"/><line x1="70.5" y1="932.1" x2="81.0" y2="932.1" stroke="#111" stroke-width="2"/><text x="67.0" y="945.4" font-size="23" text-anchor="end">2</text><line x1="70.5" y1="1003.5" x2="81.0" y2="1003.5" stroke="#111" stroke-width="2"/><text x="67.0" y="1016.8" font-size="23" text-anchor="end">1</text><line x1="70.5" y1="1074.9" x2="81.0" y2="1074.9" stroke="#111" stroke-width="2"/><text x="67.0" y="1088.2" font-size="23" text-anchor="end">0</text><line x1="70.5" y1="1146.3" x2="81.0" y2="1146.3" stroke="#111" stroke-width="2"/><text x="61.0" y="1159.6" font-size="23" text-anchor="end">−1</text><line x1="109.2" y1="1170.7" x2="109.2" y2="1181.7" stroke="#111" stroke-width="2"/><line x1="156.8" y1="1170.7" x2="156.8" y2="1181.7" stroke="#111" stroke-width="2"/><line x1="204.4" y1="1170.7" x2="204.4" y2="1181.7" stroke="#111" stroke-width="2"/>
<path d="M109.2,988.3 C109.5,989.2 110.2,991.8 111.2,993.9 C112.2,996.0 114.1,998.5 115.5,1000.8 C116.9,1003.2 118.3,1005.5 119.7,1007.8 C121.1,1010.2 122.7,1012.5 123.9,1014.8 C125.1,1017.2 125.9,1019.5 126.7,1021.8 C127.5,1024.1 128.4,1026.7 129.0,1028.8 C129.6,1030.9 130.4,1032.1 130.4,1034.4 C130.4,1036.7 129.6,1040.2 128.8,1042.8 C128.0,1045.3 126.9,1047.4 125.7,1049.8 C124.5,1052.1 123.3,1054.4 121.8,1056.8 C120.3,1059.1 118.4,1061.4 116.9,1063.7 C115.4,1066.1 114.0,1067.5 112.7,1070.7 C111.4,1074.0 110.4,1083.3 109.2,1083.3 C108.0,1083.3 107.0,1074.0 105.7,1070.7 C104.4,1067.5 103.0,1066.1 101.5,1063.7 C100.0,1061.4 98.1,1059.1 96.6,1056.8 C95.1,1054.4 93.9,1052.1 92.7,1049.8 C91.5,1047.4 90.4,1045.3 89.6,1042.8 C88.8,1040.2 88.0,1036.7 88.0,1034.4 C88.0,1032.1 88.8,1030.9 89.4,1028.8 C90.0,1026.7 90.9,1024.1 91.7,1021.8 C92.5,1019.5 93.3,1017.2 94.5,1014.8 C95.7,1012.5 97.3,1010.2 98.7,1007.8 C100.1,1005.5 101.5,1003.2 102.9,1000.8 C104.3,998.5 106.2,996.0 107.2,993.9 C108.2,991.8 108.9,989.2 109.2,988.3 C109.5,987.3 108.9,987.3 109.2,988.3Z" fill="#2c5f8a"/><line x1="109.2" y1="988.3" x2="109.2" y2="1083.3" stroke="#0a0a0a" stroke-width="1.4"/><line x1="109.2" y1="952.5" x2="109.2" y2="982.8" stroke="#0a0a0a" stroke-width="9.6" stroke-linecap="round"/><line x1="109.2" y1="1090.2" x2="109.2" y2="1131.6" stroke="#0a0a0a" stroke-width="9.6" stroke-linecap="round"/><rect x="106.9" y="1022.5" width="4.6" height="28.0" fill="#bdbdbd" stroke="#0a0a0a" stroke-width="1.4"/><line x1="106.9" y1="1036.5" x2="111.5" y2="1036.5" stroke="#0a0a0a" stroke-width="1.7999999999999998"/>
<path d="M156.8,1040.0 C157.5,1041.7 159.5,1046.7 160.8,1050.0 C162.1,1053.3 163.3,1055.8 164.8,1060.0 C166.3,1064.2 168.0,1071.2 169.7,1074.9 C171.4,1078.6 173.4,1079.7 174.8,1082.0 C176.2,1084.3 177.8,1086.0 178.2,1088.6 C178.6,1091.2 177.9,1094.8 177.4,1097.7 C176.9,1100.6 176.2,1103.3 175.1,1105.7 C174.0,1108.1 172.2,1110.1 170.8,1112.0 C169.4,1113.9 168.3,1114.4 166.5,1117.2 C164.7,1120.0 161.8,1125.2 160.2,1128.6 C158.6,1132.0 157.9,1137.8 156.8,1137.8 C155.7,1137.8 155.0,1132.0 153.4,1128.6 C151.8,1125.2 148.9,1120.0 147.1,1117.2 C145.3,1114.4 144.2,1113.9 142.8,1112.0 C141.4,1110.1 139.6,1108.1 138.5,1105.7 C137.4,1103.3 136.7,1100.6 136.2,1097.7 C135.7,1094.8 135.0,1091.2 135.4,1088.6 C135.8,1086.0 137.4,1084.3 138.8,1082.0 C140.2,1079.7 142.2,1078.6 143.9,1074.9 C145.6,1071.2 147.3,1064.2 148.8,1060.0 C150.3,1055.8 151.5,1053.3 152.8,1050.0 C154.1,1046.7 156.1,1041.7 156.8,1040.0 C157.5,1038.3 156.1,1038.3 156.8,1040.0Z" fill="#6bb8e2"/><line x1="156.8" y1="1040.0" x2="156.8" y2="1142.9" stroke="#0a0a0a" stroke-width="1.4"/><line x1="156.8" y1="997.3" x2="156.8" y2="1033.8" stroke="#0a0a0a" stroke-width="9.6" stroke-linecap="round"/><rect x="154.5" y="1076.0" width="4.6" height="28.6" fill="#bdbdbd" stroke="#0a0a0a" stroke-width="1.4"/><line x1="154.5" y1="1090.3" x2="159.1" y2="1090.3" stroke="#0a0a0a" stroke-width="1.7999999999999998"/>
<path d="M204.6,1055.0 C205.3,1055.5 207.8,1057.2 208.6,1058.0 C209.4,1058.8 209.3,1057.8 209.7,1060.0 C210.1,1062.2 210.2,1068.2 210.9,1071.4 C211.6,1074.6 212.0,1076.5 213.7,1079.4 C215.4,1082.3 219.3,1085.5 221.2,1088.6 C223.1,1091.6 224.1,1094.8 224.9,1097.7 C225.7,1100.6 226.6,1102.5 225.8,1105.7 C225.0,1109.0 222.3,1113.4 220.0,1117.2 C217.7,1121.0 214.6,1125.0 212.0,1128.6 C209.4,1132.2 207.1,1139.0 204.6,1139.0 C202.1,1139.0 199.8,1132.2 197.2,1128.6 C194.6,1125.0 191.5,1121.0 189.2,1117.2 C186.9,1113.4 184.2,1109.0 183.4,1105.7 C182.6,1102.5 183.5,1100.6 184.3,1097.7 C185.1,1094.8 186.1,1091.6 188.0,1088.6 C189.9,1085.5 193.8,1082.3 195.5,1079.4 C197.2,1076.5 197.6,1074.6 198.3,1071.4 C199.0,1068.2 199.1,1062.2 199.5,1060.0 C199.9,1057.8 199.8,1058.8 200.6,1058.0 C201.4,1057.2 203.9,1055.5 204.6,1055.0 C205.3,1054.5 203.9,1054.5 204.6,1055.0Z" fill="#8dc63f"/><line x1="204.6" y1="1055.0" x2="204.6" y2="1139.0" stroke="#0a0a0a" stroke-width="1.4"/><line x1="204.6" y1="1030.8" x2="204.6" y2="1052.0" stroke="#0a0a0a" stroke-width="9.6" stroke-linecap="round"/><circle cx="204.6" cy="1008.5" r="4.8" fill="#0a0a0a"/><rect x="202.3" y="1088.0" width="4.6" height="25.2" fill="#bdbdbd" stroke="#0a0a0a" stroke-width="1.4"/><line x1="202.3" y1="1101.2" x2="206.9" y2="1101.2" stroke="#0a0a0a" stroke-width="1.7999999999999998"/>
<line x1="81.0" y1="1074.9" x2="234.0" y2="1074.9" stroke="#111" stroke-width="2.2" stroke-dasharray="13.4,15.2"/>
<text x="515.0" y="820.5" font-size="23" text-anchor="middle">T<tspan font-size="12.5" dy="8">H1</tspan></text>
<text x="525.0" y="867.0" font-size="23.4" text-anchor="middle" font-style="italic">(Cxcr3, Fasl, Gzmb, Ifng, Il12rb1,</text><text x="525.0" y="894.5" font-size="23.4" text-anchor="middle" font-style="italic">Il12rb2, Nkg7, Tbx21, Tnf)</text>
<path d="M441.6,919.1 V1169.7 H591.5" fill="none" stroke="#111" stroke-width="2"/><line x1="431.1" y1="930.8" x2="441.6" y2="930.8" stroke="#111" stroke-width="2"/><text x="427.6" y="944.1" font-size="23" text-anchor="end">2</text><line x1="431.1" y1="1001.8" x2="441.6" y2="1001.8" stroke="#111" stroke-width="2"/><text x="427.6" y="1015.1" font-size="23" text-anchor="end">1</text><line x1="431.1" y1="1072.8" x2="441.6" y2="1072.8" stroke="#111" stroke-width="2"/><text x="427.6" y="1086.1" font-size="23" text-anchor="end">0</text><line x1="431.1" y1="1143.8" x2="441.6" y2="1143.8" stroke="#111" stroke-width="2"/><text x="421.6" y="1157.1" font-size="23" text-anchor="end">−1</text><line x1="469.6" y1="1169.7" x2="469.6" y2="1180.7" stroke="#111" stroke-width="2"/><line x1="516.0" y1="1169.7" x2="516.0" y2="1180.7" stroke="#111" stroke-width="2"/><line x1="562.8" y1="1169.7" x2="562.8" y2="1180.7" stroke="#111" stroke-width="2"/>
<path d="M469.6,1078.4 C470.1,1078.6 470.3,1079.2 472.6,1079.8 C474.9,1080.4 480.7,1081.6 483.6,1082.2 C486.5,1082.8 491.2,1082.8 490.2,1083.3 C489.2,1083.8 481.0,1084.3 477.6,1085.0 C474.2,1085.7 472.3,1087.5 469.6,1087.5 C466.9,1087.5 465.0,1085.7 461.6,1085.0 C458.2,1084.3 450.0,1083.8 449.0,1083.3 C448.0,1082.8 452.7,1082.8 455.6,1082.2 C458.5,1081.6 464.3,1080.4 466.6,1079.8 C468.9,1079.2 469.1,1078.6 469.6,1078.4 C470.1,1078.2 469.1,1078.2 469.6,1078.4Z" fill="#2c5f8a"/><line x1="469.6" y1="1077.7" x2="469.6" y2="1087.5" stroke="#0a0a0a" stroke-width="1.4"/><line x1="469.6" y1="1024.9" x2="469.6" y2="1073.2" stroke="#0a0a0a" stroke-width="9.0" stroke-linecap="round"/><rect x="467.3" y="1079.4" width="4.6" height="2.8" fill="#bdbdbd" stroke="#0a0a0a" stroke-width="1.4"/><line x1="467.3" y1="1080.8" x2="471.9" y2="1080.8" stroke="#0a0a0a" stroke-width="1.7999999999999998"/>
<path d="M516.0,1017.6 C516.5,1019.5 517.8,1025.8 518.8,1028.8 C519.8,1031.8 521.1,1033.5 522.3,1035.8 C523.5,1038.1 524.5,1040.4 525.8,1042.8 C527.1,1045.1 528.7,1047.4 530.0,1049.8 C531.3,1052.1 532.5,1054.7 533.5,1056.8 C534.5,1058.8 535.9,1060.0 536.3,1062.3 C536.6,1064.7 535.7,1068.2 535.6,1070.7 C535.5,1073.3 536.0,1075.7 535.6,1077.7 C535.2,1079.7 534.3,1081.4 533.0,1082.6 C531.7,1083.8 530.8,1084.5 528.0,1085.0 C525.2,1085.5 520.0,1085.5 516.0,1085.5 C512.0,1085.5 506.8,1085.5 504.0,1085.0 C501.2,1084.5 500.3,1083.8 499.0,1082.6 C497.7,1081.4 496.8,1079.7 496.4,1077.7 C496.0,1075.7 496.5,1073.3 496.4,1070.7 C496.3,1068.2 495.3,1064.7 495.7,1062.3 C496.1,1060.0 497.4,1058.8 498.5,1056.8 C499.6,1054.7 500.7,1052.1 502.0,1049.8 C503.3,1047.4 504.9,1045.1 506.2,1042.8 C507.5,1040.4 508.5,1038.1 509.7,1035.8 C510.9,1033.5 512.2,1031.8 513.2,1028.8 C514.2,1025.8 515.5,1019.5 516.0,1017.6 C516.5,1015.8 515.5,1015.8 516.0,1017.6Z" fill="#6bb8e2"/><line x1="516.0" y1="1017.6" x2="516.0" y2="1085.4" stroke="#0a0a0a" stroke-width="1.4"/><line x1="516.0" y1="974.2" x2="516.0" y2="1012.1" stroke="#0a0a0a" stroke-width="9.6" stroke-linecap="round"/><rect x="513.7" y="1048.4" width="4.6" height="25.2" fill="#bdbdbd" stroke="#0a0a0a" stroke-width="1.4"/><line x1="513.7" y1="1061.6" x2="518.3" y2="1061.6" stroke="#0a0a0a" stroke-width="1.7999999999999998"/>
<path d="M562.8,1013.4 C563.4,1014.8 565.0,1019.2 566.3,1021.8 C567.6,1024.4 569.2,1026.5 570.5,1028.8 C571.8,1031.1 573.0,1033.5 574.0,1035.8 C575.0,1038.1 575.9,1040.4 576.8,1042.8 C577.7,1045.1 578.8,1047.4 579.6,1049.8 C580.4,1052.1 581.0,1054.7 581.7,1056.8 C582.4,1058.8 584.3,1060.0 583.8,1062.3 C583.3,1064.7 580.2,1068.2 578.8,1070.7 C577.4,1073.3 576.2,1075.6 575.4,1077.7 C574.6,1079.8 574.9,1081.9 574.0,1083.3 C573.1,1084.7 571.7,1085.7 569.8,1086.4 C567.9,1087.1 565.1,1087.5 562.8,1087.5 C560.5,1087.5 557.7,1087.1 555.8,1086.4 C553.9,1085.7 552.5,1084.7 551.6,1083.3 C550.7,1081.9 551.0,1079.8 550.2,1077.7 C549.4,1075.6 548.2,1073.3 546.8,1070.7 C545.4,1068.2 542.3,1064.7 541.8,1062.3 C541.3,1060.0 543.2,1058.8 543.9,1056.8 C544.6,1054.7 545.2,1052.1 546.0,1049.8 C546.8,1047.4 547.9,1045.1 548.8,1042.8 C549.7,1040.4 550.5,1038.1 551.6,1035.8 C552.6,1033.5 553.8,1031.1 555.1,1028.8 C556.4,1026.5 558.0,1024.4 559.3,1021.8 C560.6,1019.2 562.2,1014.8 562.8,1013.4 C563.4,1012.0 562.2,1012.0 562.8,1013.4Z" fill="#8dc63f"/><line x1="562.8" y1="1013.4" x2="562.8" y2="1087.5" stroke="#0a0a0a" stroke-width="1.4"/><circle cx="562.8" cy="991.3" r="4.8" fill="#0a0a0a"/><circle cx="562.8" cy="1002.2" r="4.8" fill="#0a0a0a"/><rect x="560.5" y="1043.5" width="4.6" height="25.2" fill="#bdbdbd" stroke="#0a0a0a" stroke-width="1.4"/><line x1="560.5" y1="1058.1" x2="565.1" y2="1058.1" stroke="#0a0a0a" stroke-width="1.7999999999999998"/>
<line x1="441.6" y1="1072.8" x2="591.5" y2="1072.8" stroke="#111" stroke-width="2.2" stroke-dasharray="13.4,15.2"/>
<text x="883.0" y="820.5" font-size="23" text-anchor="middle">T<tspan font-size="12.5" dy="8">H2</tspan></text>
<text x="893.0" y="867.0" font-size="23.4" text-anchor="middle" font-style="italic">(Areg, Gata3, Il10, Il13,</text><text x="893.0" y="894.5" font-size="23.4" text-anchor="middle" font-style="italic">Il17rb, Il4, Maf, Trf)</text>
<path d="M814.4,920.5 V1170.7 H964.3" fill="none" stroke="#111" stroke-width="2"/><line x1="803.9" y1="932.3" x2="814.4" y2="932.3" stroke="#111" stroke-width="2"/><text x="796.1" y="945.6" font-size="23" text-anchor="end">2</text><line x1="803.9" y1="1003.4" x2="814.4" y2="1003.4" stroke="#111" stroke-width="2"/><text x="796.1" y="1016.7" font-size="23" text-anchor="end">1</text><line x1="803.9" y1="1074.5" x2="814.4" y2="1074.5" stroke="#111" stroke-width="2"/><text x="796.1" y="1087.8" font-size="23" text-anchor="end">0</text><line x1="803.9" y1="1145.6" x2="814.4" y2="1145.6" stroke="#111" stroke-width="2"/><text x="795.4" y="1158.9" font-size="23" text-anchor="end">−1</text><line x1="842.0" y1="1170.7" x2="842.0" y2="1181.7" stroke="#111" stroke-width="2"/><line x1="888.8" y1="1170.7" x2="888.8" y2="1181.7" stroke="#111" stroke-width="2"/><line x1="935.6" y1="1170.7" x2="935.6" y2="1181.7" stroke="#111" stroke-width="2"/>
<path d="M842.0,1065.1 C842.8,1065.6 845.6,1066.5 846.5,1067.9 C847.4,1069.3 847.8,1071.8 847.5,1073.5 C847.2,1075.3 843.9,1077.2 845.0,1078.4 C846.1,1079.6 851.0,1080.2 854.0,1080.8 C857.0,1081.4 863.5,1081.7 863.0,1082.2 C862.5,1082.7 854.5,1083.3 851.0,1084.0 C847.5,1084.7 845.0,1086.4 842.0,1086.4 C839.0,1086.4 836.5,1084.7 833.0,1084.0 C829.5,1083.3 821.5,1082.7 821.0,1082.2 C820.5,1081.7 827.0,1081.4 830.0,1080.8 C833.0,1080.2 837.9,1079.6 839.0,1078.4 C840.1,1077.2 836.8,1075.3 836.5,1073.5 C836.2,1071.8 836.6,1069.3 837.5,1067.9 C838.4,1066.5 841.2,1065.6 842.0,1065.1 C842.8,1064.7 841.2,1064.7 842.0,1065.1Z" fill="#2c5f8a"/><line x1="842.0" y1="1063.7" x2="842.0" y2="1086.4" stroke="#0a0a0a" stroke-width="1.4"/><line x1="842.0" y1="1037.5" x2="842.0" y2="1059.2" stroke="#0a0a0a" stroke-width="9.0" stroke-linecap="round"/><circle cx="842.0" cy="1019.7" r="4.5" fill="#0a0a0a"/><rect x="839.7" y="1072.8" width="4.6" height="8.4" fill="#bdbdbd" stroke="#0a0a0a" stroke-width="1.4"/><line x1="839.7" y1="1077.0" x2="844.3" y2="1077.0" stroke="#0a0a0a" stroke-width="1.7999999999999998"/>
<path d="M888.8,1041.4 C889.6,1042.8 892.3,1047.2 893.7,1049.8 C895.1,1052.3 896.0,1054.4 897.2,1056.8 C898.4,1059.1 900.5,1061.4 900.7,1063.7 C900.9,1066.1 898.0,1068.4 898.6,1070.7 C899.2,1073.1 902.4,1076.0 904.2,1077.7 C905.9,1079.4 909.3,1079.9 909.1,1080.8 C908.9,1081.7 906.2,1082.5 902.8,1083.0 C899.4,1083.6 893.5,1084.1 888.8,1084.1 C884.1,1084.1 878.2,1083.6 874.8,1083.0 C871.4,1082.5 868.7,1081.7 868.5,1080.8 C868.3,1079.9 871.6,1079.4 873.4,1077.7 C875.1,1076.0 878.4,1073.1 879.0,1070.7 C879.6,1068.4 876.7,1066.1 876.9,1063.7 C877.1,1061.4 879.2,1059.1 880.4,1056.8 C881.6,1054.4 882.5,1052.3 883.9,1049.8 C885.3,1047.2 888.0,1042.8 888.8,1041.4 C889.6,1040.0 888.0,1040.0 888.8,1041.4Z" fill="#6bb8e2"/><line x1="888.8" y1="1041.4" x2="888.8" y2="1084.0" stroke="#0a0a0a" stroke-width="1.4"/><line x1="888.8" y1="1022.1" x2="888.8" y2="1035.5" stroke="#0a0a0a" stroke-width="9.0" stroke-linecap="round"/><rect x="886.5" y="1060.9" width="4.6" height="18.2" fill="#bdbdbd" stroke="#0a0a0a" stroke-width="1.4"/><line x1="886.5" y1="1069.3" x2="891.1" y2="1069.3" stroke="#0a0a0a" stroke-width="1.7999999999999998"/>
<path d="M935.6,1044.2 C936.3,1045.1 938.4,1047.7 939.8,1049.8 C941.2,1051.9 942.5,1054.4 944.0,1056.8 C945.5,1059.1 948.0,1061.4 948.9,1063.7 C949.8,1066.1 949.7,1068.9 949.6,1070.7 C949.5,1072.6 947.5,1073.5 948.2,1074.9 C948.9,1076.3 952.4,1077.9 953.8,1079.1 C955.2,1080.3 957.3,1081.1 956.6,1081.9 C955.9,1082.7 953.1,1083.3 949.6,1083.7 C946.1,1084.2 940.3,1084.6 935.6,1084.6 C930.9,1084.6 925.1,1084.2 921.6,1083.7 C918.1,1083.3 915.3,1082.7 914.6,1081.9 C913.9,1081.1 916.0,1080.3 917.4,1079.1 C918.8,1077.9 922.3,1076.3 923.0,1074.9 C923.7,1073.5 921.7,1072.6 921.6,1070.7 C921.5,1068.9 921.4,1066.1 922.3,1063.7 C923.2,1061.4 925.7,1059.1 927.2,1056.8 C928.7,1054.4 930.0,1051.9 931.4,1049.8 C932.8,1047.7 934.9,1045.1 935.6,1044.2 C936.3,1043.2 934.9,1043.2 935.6,1044.2Z" fill="#8dc63f"/><line x1="935.6" y1="1044.2" x2="935.6" y2="1084.4" stroke="#0a0a0a" stroke-width="1.4"/><line x1="935.6" y1="1031.9" x2="935.6" y2="1037.6" stroke="#0a0a0a" stroke-width="9.0" stroke-linecap="round"/><rect x="933.3" y="1063.0" width="4.6" height="16.1" fill="#bdbdbd" stroke="#0a0a0a" stroke-width="1.4"/><line x1="933.3" y1="1072.8" x2="937.9" y2="1072.8" stroke="#0a0a0a" stroke-width="1.7999999999999998"/>
<line x1="814.4" y1="1074.5" x2="964.3" y2="1074.5" stroke="#111" stroke-width="2.2" stroke-dasharray="13.4,15.2"/>
<text x="1241.0" y="820.5" font-size="23" text-anchor="middle">T<tspan font-size="12.5" dy="8">H17</tspan></text>
<text x="1253.0" y="867.0" font-size="23.4" text-anchor="middle" font-style="italic">(Ccr6, Il17f, Il23r, Rorc, Tifa,</text><text x="1257.5" y="890.5" font-size="23.4" text-anchor="middle" font-style="italic">Tmem176a)</text>
<path d="M1172.1,919.5 V1170 H1325.9" fill="none" stroke="#111" stroke-width="2"/><line x1="1161.6" y1="931.2" x2="1172.1" y2="931.2" stroke="#111" stroke-width="2"/><text x="1158.1" y="944.5" font-size="23" text-anchor="end">2</text><line x1="1161.6" y1="1002.1" x2="1172.1" y2="1002.1" stroke="#111" stroke-width="2"/><text x="1158.1" y="1015.4" font-size="23" text-anchor="end">1</text><line x1="1161.6" y1="1073.1" x2="1172.1" y2="1073.1" stroke="#111" stroke-width="2"/><text x="1158.1" y="1086.4" font-size="23" text-anchor="end">0</text><line x1="1161.6" y1="1144.0" x2="1172.1" y2="1144.0" stroke="#111" stroke-width="2"/><text x="1152.1" y="1157.3" font-size="23" text-anchor="end">−1</text><line x1="1200.1" y1="1170.0" x2="1200.1" y2="1181.0" stroke="#111" stroke-width="2"/><line x1="1248.3" y1="1170.0" x2="1248.3" y2="1181.0" stroke="#111" stroke-width="2"/><line x1="1296.8" y1="1170.0" x2="1296.8" y2="1181.0" stroke="#111" stroke-width="2"/>
<path d="M1172,1073.1 H1222.5 M1226,1073.1 H1271.4 M1274.5,1073.1 H1326" stroke="#111" stroke-width="2.2"/>
<line x1="1200.5" y1="1040.3" x2="1200.5" y2="1076.7" stroke="#0a0a0a" stroke-width="9" stroke-linecap="round"/>
<line x1="1248.5" y1="1047.3" x2="1248.5" y2="1076.7" stroke="#0a0a0a" stroke-width="9" stroke-linecap="round"/>
<line x1="1296.5" y1="1042.0" x2="1296.5" y2="1076.7" stroke="#0a0a0a" stroke-width="9" stroke-linecap="round"/>
<text x="1593.0" y="820.5" font-size="23" text-anchor="middle">T<tspan font-size="12.5" dy="8">FH</tspan></text>
<text x="1612.0" y="867.0" font-size="23.4" text-anchor="middle" font-style="italic">(Bcl6, Ccr7, Cd200, Cxcr5,</text><text x="1602.0" y="894.5" font-size="23.4" text-anchor="middle" font-style="italic">Izumo1r, Nt5e, Slamf6)</text>
<path d="M1522,921 V1171 H1678.5" fill="none" stroke="#111" stroke-width="2"/><line x1="1511.5" y1="932.2" x2="1522.0" y2="932.2" stroke="#111" stroke-width="2"/><text x="1508.0" y="945.5" font-size="23" text-anchor="end">2</text><line x1="1511.5" y1="1003.4" x2="1522.0" y2="1003.4" stroke="#111" stroke-width="2"/><text x="1508.0" y="1016.7" font-size="23" text-anchor="end">1</text><line x1="1511.5" y1="1074.6" x2="1522.0" y2="1074.6" stroke="#111" stroke-width="2"/><text x="1508.0" y="1087.9" font-size="23" text-anchor="end">0</text><line x1="1511.5" y1="1145.8" x2="1522.0" y2="1145.8" stroke="#111" stroke-width="2"/><text x="1502.0" y="1159.1" font-size="23" text-anchor="end">−1</text><line x1="1551.5" y1="1171.0" x2="1551.5" y2="1182.0" stroke="#111" stroke-width="2"/><line x1="1600.0" y1="1171.0" x2="1600.0" y2="1182.0" stroke="#111" stroke-width="2"/><line x1="1648.6" y1="1171.0" x2="1648.6" y2="1182.0" stroke="#111" stroke-width="2"/>
<path d="M1551.5,1034.0 C1552.0,1034.5 1552.8,1034.9 1554.2,1036.8 C1555.6,1038.6 1557.9,1042.2 1559.7,1045.0 C1561.5,1047.7 1563.4,1050.5 1565.2,1053.2 C1567.0,1056.0 1569.3,1059.2 1570.7,1061.4 C1572.1,1063.7 1573.3,1064.7 1573.5,1066.9 C1573.7,1069.2 1573.3,1072.4 1572.1,1075.2 C1570.9,1077.9 1568.3,1080.7 1566.5,1083.4 C1564.7,1086.1 1562.9,1088.9 1561.1,1091.6 C1559.3,1094.4 1557.2,1097.1 1555.6,1099.9 C1554.0,1102.6 1552.9,1108.1 1551.5,1108.1 C1550.1,1108.1 1549.0,1102.6 1547.4,1099.9 C1545.8,1097.1 1543.7,1094.4 1541.9,1091.6 C1540.1,1088.9 1538.3,1086.1 1536.5,1083.4 C1534.7,1080.7 1532.1,1077.9 1530.9,1075.2 C1529.7,1072.4 1529.3,1069.2 1529.5,1066.9 C1529.7,1064.7 1530.9,1063.7 1532.3,1061.4 C1533.7,1059.2 1536.0,1056.0 1537.8,1053.2 C1539.6,1050.5 1541.5,1047.7 1543.3,1045.0 C1545.1,1042.2 1547.4,1038.6 1548.8,1036.8 C1550.2,1034.9 1551.0,1034.5 1551.5,1034.0 C1552.0,1033.5 1551.0,1033.5 1551.5,1034.0Z" fill="#2c5f8a"/><line x1="1551.5" y1="1034.0" x2="1551.5" y2="1108.1" stroke="#0a0a0a" stroke-width="1.4"/><line x1="1551.5" y1="1004.5" x2="1551.5" y2="1026.5" stroke="#0a0a0a" stroke-width="9.6" stroke-linecap="round"/><rect x="1549.2" y="1056.8" width="4.6" height="21.1" fill="#bdbdbd" stroke="#0a0a0a" stroke-width="1.4"/><line x1="1549.2" y1="1068.3" x2="1553.8" y2="1068.3" stroke="#0a0a0a" stroke-width="1.7999999999999998"/>
<path d="M1600.0,1036.8 C1600.7,1039.0 1602.5,1045.9 1604.1,1050.5 C1605.7,1055.0 1607.8,1059.6 1609.6,1064.2 C1611.4,1068.8 1613.2,1073.3 1615.0,1077.9 C1616.8,1082.5 1619.4,1088.4 1620.6,1091.6 C1621.8,1094.8 1622.7,1095.3 1622.0,1097.1 C1621.3,1099.0 1619.2,1101.0 1616.5,1102.6 C1613.8,1104.2 1608.8,1105.9 1606.0,1106.7 C1603.2,1107.6 1602.0,1107.6 1600.0,1107.6 C1598.0,1107.6 1596.8,1107.6 1594.0,1106.7 C1591.2,1105.9 1586.2,1104.2 1583.5,1102.6 C1580.8,1101.0 1578.7,1099.0 1578.0,1097.1 C1577.3,1095.3 1578.2,1094.8 1579.4,1091.6 C1580.6,1088.4 1583.2,1082.5 1585.0,1077.9 C1586.8,1073.3 1588.6,1068.8 1590.4,1064.2 C1592.2,1059.6 1594.3,1055.0 1595.9,1050.5 C1597.5,1045.9 1599.3,1039.0 1600.0,1036.8 C1600.7,1034.5 1599.3,1034.5 1600.0,1036.8Z" fill="#6bb8e2"/><line x1="1600.0" y1="1036.8" x2="1600.0" y2="1107.6" stroke="#0a0a0a" stroke-width="1.4"/><line x1="1600.0" y1="1019.6" x2="1600.0" y2="1030.6" stroke="#0a0a0a" stroke-width="9.6" stroke-linecap="round"/><circle cx="1600.0" cy="986.8" r="4.8" fill="#0a0a0a"/><circle cx="1600.0" cy="999.7" r="4.8" fill="#0a0a0a"/><rect x="1597.7" y="1066.4" width="4.6" height="25.2" fill="#bdbdbd" stroke="#0a0a0a" stroke-width="1.4"/><line x1="1597.7" y1="1080.7" x2="1602.3" y2="1080.7" stroke="#0a0a0a" stroke-width="1.7999999999999998"/>
<path d="M1648.6,1053.2 C1649.3,1055.0 1651.1,1060.1 1652.7,1064.2 C1654.3,1068.3 1656.4,1073.3 1658.2,1077.9 C1660.0,1082.5 1661.5,1088.2 1663.6,1091.6 C1665.7,1095.1 1670.3,1096.4 1670.6,1098.5 C1670.8,1100.6 1667.8,1102.6 1665.1,1104.0 C1662.4,1105.4 1657.3,1106.1 1654.6,1106.7 C1651.8,1107.3 1650.6,1107.6 1648.6,1107.6 C1646.6,1107.6 1645.3,1107.3 1642.6,1106.7 C1639.8,1106.1 1634.8,1105.4 1632.1,1104.0 C1629.4,1102.6 1626.3,1100.6 1626.6,1098.5 C1626.8,1096.4 1631.5,1095.1 1633.6,1091.6 C1635.7,1088.2 1637.2,1082.5 1639.0,1077.9 C1640.8,1073.3 1642.9,1068.3 1644.5,1064.2 C1646.1,1060.1 1647.9,1055.0 1648.6,1053.2 C1649.3,1051.4 1647.9,1051.4 1648.6,1053.2Z" fill="#8dc63f"/><line x1="1648.6" y1="1053.2" x2="1648.6" y2="1107.6" stroke="#0a0a0a" stroke-width="1.4"/><line x1="1648.6" y1="1036.1" x2="1648.6" y2="1045.7" stroke="#0a0a0a" stroke-width="9.6" stroke-linecap="round"/><circle cx="1648.6" cy="1017.0" r="4.8" fill="#0a0a0a"/><rect x="1646.3" y="1076.5" width="4.6" height="22.0" fill="#bdbdbd" stroke="#0a0a0a" stroke-width="1.4"/><line x1="1646.3" y1="1087.5" x2="1650.9" y2="1087.5" stroke="#0a0a0a" stroke-width="1.7999999999999998"/>
<line x1="1522.0" y1="1074.6" x2="1678.5" y2="1074.6" stroke="#111" stroke-width="2.2" stroke-dasharray="13.4,15.2"/>
<text x="2.0" y="1312.6" font-size="47" font-weight="bold">e</text>
<text x="858.6" y="1305.0" font-size="24" text-anchor="middle">Enriched in</text>
<text x="862.0" y="1327.0" font-size="24" text-anchor="middle">(Cluster 1 + Cluster 2)</text>
<line x1="698.5" y1="1386.2" x2="1029.8" y2="1386.2" stroke="#ebebeb" stroke-width="2.6"/>
<line x1="698.5" y1="1428.4" x2="1029.8" y2="1428.4" stroke="#ebebeb" stroke-width="2.6"/>
<line x1="698.5" y1="1470.5" x2="1029.8" y2="1470.5" stroke="#ebebeb" stroke-width="2.6"/>
<line x1="698.5" y1="1512.7" x2="1029.8" y2="1512.7" stroke="#ebebeb" stroke-width="2.6"/>
<line x1="698.5" y1="1554.8" x2="1029.8" y2="1554.8" stroke="#ebebeb" stroke-width="2.6"/>
<line x1="698.5" y1="1597.0" x2="1029.8" y2="1597.0" stroke="#ebebeb" stroke-width="2.6"/>
<line x1="698.5" y1="1639.1" x2="1029.8" y2="1639.1" stroke="#ebebeb" stroke-width="2.6"/>
<line x1="698.5" y1="1681.2" x2="1029.8" y2="1681.2" stroke="#ebebeb" stroke-width="2.6"/>
<line x1="698.5" y1="1723.4" x2="1029.8" y2="1723.4" stroke="#ebebeb" stroke-width="2.6"/>
<line x1="698.5" y1="1765.5" x2="1029.8" y2="1765.5" stroke="#ebebeb" stroke-width="2.6"/>
<line x1="698.5" y1="1807.7" x2="1029.8" y2="1807.7" stroke="#ebebeb" stroke-width="2.6"/>
<line x1="698.5" y1="1849.8" x2="1029.8" y2="1849.8" stroke="#ebebeb" stroke-width="2.6"/>
<line x1="698.5" y1="1892.0" x2="1029.8" y2="1892.0" stroke="#ebebeb" stroke-width="2.6"/>
<line x1="698.5" y1="1934.2" x2="1029.8" y2="1934.2" stroke="#ebebeb" stroke-width="2.6"/>
<line x1="698.5" y1="1976.3" x2="1029.8" y2="1976.3" stroke="#ebebeb" stroke-width="2.6"/>
<line x1="698.5" y1="2018.5" x2="1029.8" y2="2018.5" stroke="#ebebeb" stroke-width="2.6"/>
<line x1="698.5" y1="2060.6" x2="1029.8" y2="2060.6" stroke="#ebebeb" stroke-width="2.6"/>
<line x1="698.5" y1="2102.8" x2="1029.8" y2="2102.8" stroke="#ebebeb" stroke-width="2.6"/>
<line x1="698.5" y1="2144.9" x2="1029.8" y2="2144.9" stroke="#ebebeb" stroke-width="2.6"/>
<rect x="712.9" y="1375.5" width="252.9" height="21.4" fill="#e8ee44"/>
<line x1="690.8" y1="1386.2" x2="698.5" y2="1386.2" stroke="#2a2a2a" stroke-width="2.6"/>
<text transform="translate(679.3,1393.8) scale(0.775,1)" font-size="21.5" text-anchor="end">REGULATION_OF_T_HELPER_1_TYPE_IMMUNE_RESPONSE</text>
<rect x="712.9" y="1417.7" width="240.0" height="21.4" fill="#e8ee44"/>
<line x1="690.8" y1="1428.4" x2="698.5" y2="1428.4" stroke="#2a2a2a" stroke-width="2.6"/>
<text transform="translate(679.3,1436.0) scale(0.775,1)" font-size="21.5" text-anchor="end">T_HELPER_1_TYPE_IMMUNE_RESPONSE</text>
<rect x="712.9" y="1459.8" width="236.5" height="21.4" fill="#e8ee45"/>
<line x1="690.8" y1="1470.5" x2="698.5" y2="1470.5" stroke="#2a2a2a" stroke-width="2.6"/>
<text transform="translate(679.3,1478.1) scale(0.775,1)" font-size="21.5" text-anchor="end">POSITIVE_REGULATION_OF_T_HELPER_1_TYPE_IMMUNE_RESPONSE</text>
<rect x="712.9" y="1502.0" width="217.1" height="21.4" fill="#e6ec46"/>
<line x1="690.8" y1="1512.7" x2="698.5" y2="1512.7" stroke="#2a2a2a" stroke-width="2.6"/>
<text transform="translate(679.3,1520.2) scale(0.775,1)" font-size="21.5" text-anchor="end">T_HELPER_1_CELL_CYTOKINE_PRODUCTION</text>
<rect x="712.9" y="1544.1" width="207.9" height="21.4" fill="#e0e849"/>
<line x1="690.8" y1="1554.8" x2="698.5" y2="1554.8" stroke="#2a2a2a" stroke-width="2.6"/>
<text transform="translate(679.3,1562.4) scale(0.775,1)" font-size="21.5" text-anchor="end">REGULATION_OF_T_HELPER_1_CELL_CYTOKINE_PRODUCTION</text>
<rect x="712.9" y="1586.2" width="191.1" height="21.4" fill="#c6de4f"/>
<line x1="690.8" y1="1597.0" x2="698.5" y2="1597.0" stroke="#2a2a2a" stroke-width="2.6"/>
<text transform="translate(679.3,1604.5) scale(0.775,1)" font-size="21.5" text-anchor="end">REGULATION_OF_T_HELPER_CELL_DIFFERENTIATION</text>
<rect x="712.9" y="1628.4" width="184.8" height="21.4" fill="#8bc855"/>
<line x1="690.8" y1="1639.1" x2="698.5" y2="1639.1" stroke="#2a2a2a" stroke-width="2.6"/>
<text transform="translate(679.3,1646.7) scale(0.775,1)" font-size="21.5" text-anchor="end">REGULATION_OF_T_HELPER_2_CELL_DIFFERENTIATION</text>
<rect x="712.9" y="1670.5" width="168.7" height="21.4" fill="#6ec270"/>
<line x1="690.8" y1="1681.2" x2="698.5" y2="1681.2" stroke="#2a2a2a" stroke-width="2.6"/>
<text transform="translate(679.3,1688.8) scale(0.775,1)" font-size="21.5" text-anchor="end">T_HELPER_2_CELL_DIFFERENTIATION</text>
<rect x="712.9" y="1712.7" width="142.1" height="21.4" fill="#46958a"/>
<line x1="690.8" y1="1723.4" x2="698.5" y2="1723.4" stroke="#2a2a2a" stroke-width="2.6"/>
<text transform="translate(679.3,1731.0) scale(0.775,1)" font-size="21.5" text-anchor="end">T_HELPER_17_CELL_DIFFERENTIATION</text>
<rect x="712.9" y="1754.8" width="139.4" height="21.4" fill="#438389"/>
<line x1="690.8" y1="1765.5" x2="698.5" y2="1765.5" stroke="#2a2a2a" stroke-width="2.6"/>
<text transform="translate(679.3,1773.1) scale(0.775,1)" font-size="21.5" text-anchor="end">REGULATION_OF_T_HELPER_17_CELL_DIFFERENTIATION</text>
<rect x="712.9" y="1797.0" width="132.7" height="21.4" fill="#3e6b8e"/>
<line x1="690.8" y1="1807.7" x2="698.5" y2="1807.7" stroke="#2a2a2a" stroke-width="2.6"/>
<text transform="translate(679.3,1815.3) scale(0.775,1)" font-size="21.5" text-anchor="end">REGULATION_OF_T_HELPER_2_CELL_CYTOKINE_PRODUCTION</text>
<rect x="712.9" y="1839.1" width="132.1" height="21.4" fill="#3e6b8e"/>
<line x1="690.8" y1="1849.8" x2="698.5" y2="1849.8" stroke="#2a2a2a" stroke-width="2.6"/>
<text transform="translate(679.3,1857.4) scale(0.775,1)" font-size="21.5" text-anchor="end">T_HELPER_2_CELL_CYTOKINE_PRODUCTION</text>
<rect x="712.9" y="1881.3" width="131.0" height="21.4" fill="#44548f"/>
<line x1="690.8" y1="1892.0" x2="698.5" y2="1892.0" stroke="#2a2a2a" stroke-width="2.6"/>
<text transform="translate(679.3,1899.6) scale(0.775,1)" font-size="21.5" text-anchor="end">POSITIVE_REGULATION_OF_T_HELPER_2_CELL_DIFFERENTIATION</text>
<rect x="712.9" y="1923.5" width="127.1" height="21.4" fill="#3e668f"/>
<line x1="690.8" y1="1934.2" x2="698.5" y2="1934.2" stroke="#2a2a2a" stroke-width="2.6"/>
<text transform="translate(679.3,1941.8) scale(0.775,1)" font-size="21.5" text-anchor="end">T_HELPER_17_TYPE_IMMUNE_RESPONSE</text>
<rect x="712.9" y="1965.6" width="126.4" height="21.4" fill="#405b8f"/>
<line x1="690.8" y1="1976.3" x2="698.5" y2="1976.3" stroke="#2a2a2a" stroke-width="2.6"/>
<text transform="translate(679.3,1983.9) scale(0.775,1)" font-size="21.5" text-anchor="end">REGULATION_OF_T_HELPER_17_TYPE_IMMUNE_RESPONSE</text>
<rect x="712.9" y="2007.8" width="125.1" height="21.4" fill="#47538f"/>
<line x1="690.8" y1="2018.5" x2="698.5" y2="2018.5" stroke="#2a2a2a" stroke-width="2.6"/>
<text transform="translate(679.3,2026.0) scale(0.775,1)" font-size="21.5" text-anchor="end">POSITIVE_REGULATION_OF_T_HELPER_17_TYPE_IMMUNE_RESPONSE</text>
<rect x="712.9" y="2049.9" width="111.4" height="21.4" fill="#452f7b"/>
<line x1="690.8" y1="2060.6" x2="698.5" y2="2060.6" stroke="#2a2a2a" stroke-width="2.6"/>
<text transform="translate(679.3,2068.2) scale(0.775,1)" font-size="21.5" text-anchor="end">T_HELPER_17_CELL_LINEAGE_COMMITMENT</text>
<rect x="712.9" y="2092.1" width="109.1" height="21.4" fill="#452c7b"/>
<line x1="690.8" y1="2102.8" x2="698.5" y2="2102.8" stroke="#2a2a2a" stroke-width="2.6"/>
<text transform="translate(679.3,2110.3) scale(0.775,1)" font-size="21.5" text-anchor="end">T_FOLLICULAR_HELPER_CELL_DIFFERENTIATION</text>
<rect x="712.9" y="2134.2" width="83.8" height="21.4" fill="#3b1f55"/>
<line x1="690.8" y1="2144.9" x2="698.5" y2="2144.9" stroke="#2a2a2a" stroke-width="2.6"/>
<text transform="translate(679.3,2152.5) scale(0.775,1)" font-size="21.5" text-anchor="end">POSITIVE_REGULATION_OF_T_HELPER_2_CELL_CYTOKINE_PRODUCTION</text>
<line x1="698.5" y1="1575.5" x2="1007.0" y2="1575.5" stroke="#1a1a1a" stroke-width="2" stroke-dasharray="13,29"/>
<rect x="698.5" y="1360.6" width="331.3" height="809.4" fill="none" stroke="#333" stroke-width="1.6"/>
<line x1="712.9" y1="2170.0" x2="712.9" y2="2177.5" stroke="#2a2a2a" stroke-width="2.6"/>
<text x="712.9" y="2212.0" font-size="24" text-anchor="middle">0</text>
<line x1="826.8" y1="2170.0" x2="826.8" y2="2177.5" stroke="#2a2a2a" stroke-width="2.6"/>
<text x="826.8" y="2212.0" font-size="24" text-anchor="middle">1</text>
<line x1="940.7" y1="2170.0" x2="940.7" y2="2177.5" stroke="#2a2a2a" stroke-width="2.6"/>
<text x="940.7" y="2212.0" font-size="24" text-anchor="middle">2</text>
<text x="847.0" y="2259.0" font-size="24" text-anchor="middle">NES</text>
<line x1="976.7" y1="1599.0" x2="976.7" y2="1812.0" stroke="#1a1a1a" stroke-width="1.8"/>
<path d="M968.6,1810 L985.4,1810 L976.7,1825 Z" fill="#111"/>
<text transform="translate(992.5,1597.5) rotate(90)" font-size="23.5" textLength="137" lengthAdjust="spacingAndGlyphs">p. adjust &gt; 0.1</text>
<defs><linearGradient id="gvir" x1="0" y1="0" x2="0" y2="1"><stop offset="0" stop-color="#3b1f55"/><stop offset="0.15" stop-color="#453a7f"/><stop offset="0.35" stop-color="#3e6590"/><stop offset="0.55" stop-color="#3fae8a"/><stop offset="0.75" stop-color="#6cc65e"/><stop offset="0.9" stop-color="#b8d84a"/><stop offset="1" stop-color="#e9f13c"/></linearGradient></defs>
<rect x="1060.5" y="1725.0" width="31.5" height="155.0" fill="url(#gvir)"/>
<text x="1067.0" y="1717.7" font-size="24" text-anchor="middle">1.0</text>
<text x="1071.0" y="1910.0" font-size="24" text-anchor="middle">0.1</text>
<text transform="translate(1104,1742) rotate(90)" font-size="23">p.adjust</text>
<path d="M82,1360 H57 V1576 H82 M82,1584 H57 V2171 H82" fill="none" stroke="#1a1a1a" stroke-width="2"/>
<text transform="translate(28,1466.8) rotate(-90)" font-size="24" text-anchor="middle">T<tspan font-size="12.5" dy="7">H1</tspan></text>
<text transform="translate(28,1841.7) rotate(-90)" font-size="24" text-anchor="middle" textLength="107" lengthAdjust="spacingAndGlyphs">T<tspan font-size="12.5" dy="7">H2</tspan><tspan dy="-7">, T</tspan><tspan font-size="12.5" dy="7">H17</tspan><tspan dy="-7">, T</tspan><tspan font-size="12.5" dy="7">FH</tspan></text>
<text x="1193.0" y="1309.7" font-size="46" font-weight="bold">f</text>
<text transform="translate(1580,1358.8) scale(0.94,1)" font-size="24" text-anchor="middle">GOBP_REGULATION_OF_</text>
<text transform="translate(1580,1382.8) scale(0.93,1)" font-size="23.8" text-anchor="middle">T_HELPER_1_TYPE_IMMUNE_RESPONSE</text>
<text x="1598.0" y="1429.0" font-size="23.5" text-anchor="middle" font-style="italic">(NES=2.221, p.adjust=2.07e-04, *** )</text>
<line x1="1392.0" y1="1453.9" x2="1392.0" y2="1649.2" stroke="#d3d9e2" stroke-width="1.1" stroke-dasharray="5,4"/>
<line x1="1392.0" y1="1715.5" x2="1392.0" y2="1845.5" stroke="#d8d8d8" stroke-width="1.1" stroke-dasharray="5,4"/>
<line x1="1445.3" y1="1453.9" x2="1445.3" y2="1649.2" stroke="#d3d9e2" stroke-width="1.1" stroke-dasharray="5,4"/>
<line x1="1445.3" y1="1715.5" x2="1445.3" y2="1845.5" stroke="#d8d8d8" stroke-width="1.1" stroke-dasharray="5,4"/>
<line x1="1498.6" y1="1453.9" x2="1498.6" y2="1649.2" stroke="#d3d9e2" stroke-width="1.1" stroke-dasharray="5,4"/>
<line x1="1498.6" y1="1715.5" x2="1498.6" y2="1845.5" stroke="#d8d8d8" stroke-width="1.1" stroke-dasharray="5,4"/>
<line x1="1551.9" y1="1453.9" x2="1551.9" y2="1649.2" stroke="#d3d9e2" stroke-width="1.1" stroke-dasharray="5,4"/>
<line x1="1551.9" y1="1715.5" x2="1551.9" y2="1845.5" stroke="#d8d8d8" stroke-width="1.1" stroke-dasharray="5,4"/>
<line x1="1605.2" y1="1453.9" x2="1605.2" y2="1649.2" stroke="#d3d9e2" stroke-width="1.1" stroke-dasharray="5,4"/>
<line x1="1605.2" y1="1715.5" x2="1605.2" y2="1845.5" stroke="#d8d8d8" stroke-width="1.1" stroke-dasharray="5,4"/>
<line x1="1658.5" y1="1453.9" x2="1658.5" y2="1649.2" stroke="#d3d9e2" stroke-width="1.1" stroke-dasharray="5,4"/>
<line x1="1658.5" y1="1715.5" x2="1658.5" y2="1845.5" stroke="#d8d8d8" stroke-width="1.1" stroke-dasharray="5,4"/>
<line x1="1711.8" y1="1453.9" x2="1711.8" y2="1649.2" stroke="#d3d9e2" stroke-width="1.1" stroke-dasharray="5,4"/>
<line x1="1711.8" y1="1715.5" x2="1711.8" y2="1845.5" stroke="#d8d8d8" stroke-width="1.1" stroke-dasharray="5,4"/>
<line x1="1765.1" y1="1453.9" x2="1765.1" y2="1649.2" stroke="#d3d9e2" stroke-width="1.1" stroke-dasharray="5,4"/>
<line x1="1765.1" y1="1715.5" x2="1765.1" y2="1845.5" stroke="#d8d8d8" stroke-width="1.1" stroke-dasharray="5,4"/>
<line x1="1388.6" y1="1616.8" x2="1778.8" y2="1616.8" stroke="#d8dbe0" stroke-width="1.1" stroke-dasharray="5,4"/>
<line x1="1388.6" y1="1592.6" x2="1778.8" y2="1592.6" stroke="#d8dbe0" stroke-width="1.1" stroke-dasharray="5,4"/>
<line x1="1388.6" y1="1568.4" x2="1778.8" y2="1568.4" stroke="#d8dbe0" stroke-width="1.1" stroke-dasharray="5,4"/>
<line x1="1388.6" y1="1544.2" x2="1778.8" y2="1544.2" stroke="#d8dbe0" stroke-width="1.1" stroke-dasharray="5,4"/>
<line x1="1388.6" y1="1520.0" x2="1778.8" y2="1520.0" stroke="#d8dbe0" stroke-width="1.1" stroke-dasharray="5,4"/>
<line x1="1388.6" y1="1495.8" x2="1778.8" y2="1495.8" stroke="#d8dbe0" stroke-width="1.1" stroke-dasharray="5,4"/>
<line x1="1388.6" y1="1471.6" x2="1778.8" y2="1471.6" stroke="#d8dbe0" stroke-width="1.1" stroke-dasharray="5,4"/>
<line x1="1388.6" y1="1738.4" x2="1778.8" y2="1738.4" stroke="#d8d8d8" stroke-width="1.1" stroke-dasharray="5,4"/>
<line x1="1388.6" y1="1771.6" x2="1778.8" y2="1771.6" stroke="#d8d8d8" stroke-width="1.1" stroke-dasharray="5,4"/>
<line x1="1388.6" y1="1804.8" x2="1778.8" y2="1804.8" stroke="#d8d8d8" stroke-width="1.1" stroke-dasharray="5,4"/>
<line x1="1388.6" y1="1838.0" x2="1778.8" y2="1838.0" stroke="#d8d8d8" stroke-width="1.1" stroke-dasharray="5,4"/>
<rect x="1388.6" y="1642.0" width="390.2" height="7.2" fill="#dcdcec"/>
<line x1="1388.6" y1="1641.0" x2="1778.8" y2="1641.0" stroke="#6a6a6a" stroke-width="3.2"/>
<path d="M1393.4,1643.0 C1393.4,1640.2 1393.4,1619.8 1393.5,1615.0 C1393.6,1610.2 1393.8,1599.8 1394.0,1595.0 C1394.2,1590.2 1394.8,1571.6 1395.0,1567.0 C1395.2,1562.4 1396.2,1552.5 1396.5,1549.0 C1396.8,1545.5 1398.0,1535.1 1398.5,1532.0 C1399.0,1528.9 1401.0,1521.0 1401.5,1518.0 C1402.0,1515.0 1403.5,1504.6 1404.0,1502.0 C1404.5,1499.4 1406.0,1493.8 1406.5,1492.0 C1407.0,1490.2 1408.3,1485.5 1409.0,1484.0 C1409.7,1482.5 1412.2,1478.6 1413.0,1477.0 C1413.8,1475.4 1416.2,1469.7 1417.0,1468.0 C1417.8,1466.3 1420.3,1461.0 1421.0,1460.0 C1421.7,1459.0 1423.3,1457.9 1424.0,1458.0 C1424.7,1458.1 1427.2,1460.8 1428.0,1461.0 C1428.8,1461.2 1430.9,1459.6 1432.0,1460.0 C1433.1,1460.4 1434.9,1462.4 1438.7,1464.6 C1442.5,1466.8 1462.7,1477.6 1470.0,1481.6 C1477.3,1485.6 1503.1,1499.6 1511.4,1504.4 C1519.7,1509.2 1544.5,1524.3 1552.8,1529.3 C1561.1,1534.3 1588.1,1550.1 1594.3,1554.0 C1600.5,1557.9 1612.4,1566.7 1615.0,1568.0 C1617.6,1569.3 1617.9,1566.0 1620.0,1567.0 C1622.1,1568.0 1630.0,1574.7 1635.7,1578.0 C1641.4,1581.3 1669.4,1595.2 1677.0,1599.7 C1684.6,1604.2 1707.6,1620.5 1711.5,1622.5 C1715.4,1624.5 1715.0,1619.8 1716.0,1620.0 C1717.0,1620.2 1720.9,1625.0 1722.0,1625.0 C1723.1,1625.0 1725.9,1620.0 1727.0,1620.0 C1728.1,1620.0 1731.6,1625.1 1733.0,1625.0 C1734.4,1624.9 1739.7,1618.8 1741.0,1619.0 C1742.3,1619.2 1744.1,1625.6 1746.0,1627.0 C1747.9,1628.4 1757.0,1631.7 1760.0,1633.0 C1763.0,1634.3 1774.8,1639.3 1776.5,1640.0" fill="none" stroke="#6fbe3c" stroke-width="8.5" stroke-linejoin="round" stroke-linecap="round"/>
<line x1="1422.6" y1="1462.0" x2="1422.6" y2="1641.0" stroke="#dde93c" stroke-width="4"/>
<path d="M1417,1463 L1422.6,1454.5 L1428,1463 Z" fill="#dde93c"/>
<line x1="1412.4" y1="1478.3" x2="1417.0" y2="1481.0" stroke="#111" stroke-width="1.3"/>
<line x1="1408.3" y1="1486.0" x2="1467.2" y2="1507.2" stroke="#111" stroke-width="1.3"/>
<line x1="1405.8" y1="1495.5" x2="1409.5" y2="1500.0" stroke="#111" stroke-width="1.3"/>
<line x1="1403.9" y1="1507.2" x2="1451.8" y2="1527.7" stroke="#111" stroke-width="1.3"/>
<line x1="1402.9" y1="1520.0" x2="1407.5" y2="1524.8" stroke="#111" stroke-width="1.3"/>
<line x1="1398.5" y1="1532.0" x2="1443.8" y2="1551.8" stroke="#111" stroke-width="1.3"/>
<line x1="1396.3" y1="1548.9" x2="1400.0" y2="1554.0" stroke="#111" stroke-width="1.3"/>
<line x1="1394.8" y1="1567.9" x2="1443.0" y2="1579.6" stroke="#111" stroke-width="1.3"/>
<line x1="1392.7" y1="1587.6" x2="1405.0" y2="1594.2" stroke="#111" stroke-width="1.3"/>
<line x1="1392.0" y1="1614.0" x2="1398.5" y2="1617.7" stroke="#111" stroke-width="1.3"/>
<circle cx="1412.4" cy="1478.3" r="3" fill="#111"/>
<circle cx="1408.3" cy="1486.0" r="3" fill="#111"/>
<circle cx="1405.8" cy="1495.5" r="3" fill="#111"/>
<circle cx="1403.9" cy="1507.2" r="3" fill="#111"/>
<circle cx="1402.9" cy="1520.0" r="3" fill="#111"/>
<circle cx="1398.5" cy="1532.0" r="3" fill="#111"/>
<circle cx="1396.3" cy="1548.9" r="3" fill="#111"/>
<circle cx="1394.8" cy="1567.9" r="3" fill="#111"/>
<circle cx="1392.7" cy="1587.6" r="3" fill="#111"/>
<circle cx="1392.0" cy="1614.0" r="3" fill="#111"/>
<text x="1420.4" y="1491.9" font-size="15.6">H2–Ab1</text>
<text x="1469.4" y="1514.2" font-size="15.6">Slc11a1</text>
<text x="1411.6" y="1508.4" font-size="15.6">Il12rb1</text>
<text x="1453.3" y="1533.5" font-size="15.6">Il1r1</text>
<text x="1410.2" y="1534.3" font-size="15.6">Il1rl1</text>
<text x="1446.0" y="1557.0" font-size="15.6">Havcr2</text>
<text x="1401.0" y="1564.5" font-size="15.6">Ccr2</text>
<text x="1444.5" y="1584.4" font-size="15.6">Tbx21</text>
<text x="1405.8" y="1600.3" font-size="15.6">Anxa1</text>
<text x="1401.4" y="1623.0" font-size="15.6">Il18</text>
<path d="M1392.2,1649.2V1695M1393.5,1649.2V1695M1395.0,1649.2V1695M1396.3,1649.2V1695M1397.7,1649.2V1695M1402.0,1649.2V1695M1403.3,1649.2V1695M1404.7,1649.2V1695M1406.0,1649.2V1695M1407.5,1649.2V1695M1410.3,1649.2V1695M1412.6,1649.2V1695M1418.7,1649.2V1695M1420.0,1649.2V1695M1422.0,1649.2V1695M1438.8,1649.2V1695M1467.0,1649.2V1695M1484.7,1649.2V1695M1497.8,1649.2V1695M1538.0,1649.2V1695M1541.7,1649.2V1695M1615.8,1649.2V1695M1620.0,1649.2V1695M1634.0,1649.2V1695M1712.2,1649.2V1695M1725.4,1649.2V1695M1743.6,1649.2V1695" stroke="#111" stroke-width="1.1"/>
<defs><linearGradient id="grk" x1="0" y1="0" x2="1" y2="0"><stop offset="0" stop-color="#d21f24"/><stop offset="0.02" stop-color="#d2454a"/><stop offset="0.06" stop-color="#dc7880"/><stop offset="0.2" stop-color="#e6aab0"/><stop offset="0.38" stop-color="#f0dadc"/><stop offset="0.385" stop-color="#dcdcf0"/><stop offset="0.55" stop-color="#c8c6e6"/><stop offset="0.75" stop-color="#9a92cc"/><stop offset="0.9" stop-color="#5a4ea8"/><stop offset="1" stop-color="#28287f"/></linearGradient></defs>
<rect x="1392.0" y="1695.4" width="383.7" height="18.6" fill="url(#grk)"/>
<path d="M1392.3,1788.2 L1392.3,1721.8 L1393.0,1735.0 L1394.0,1746.0 L1396.4,1754.6 L1402.0,1763.0 L1410.3,1769.0 L1421.5,1774.0 L1444.0,1779.8 L1472.0,1783.0 L1500.0,1785.4 L1539.0,1788.2 Z M1539,1788.2 L1539.0,1788.2 L1584.0,1789.6 L1640.0,1792.4 L1668.0,1794.3 L1696.0,1798.0 L1724.0,1802.0 L1752.0,1808.0 L1766.0,1816.0 L1772.0,1830.0 L1775.0,1840.0 L1775,1788.2 Z" fill="#4a4a4a"/>
<line x1="1539.0" y1="1715.5" x2="1539.0" y2="1845.5" stroke="#111" stroke-width="1.6" stroke-dasharray="4,3"/>
<text x="1396.3" y="1744.0" font-size="23.5" fill="#cc2a2a">Cluster 1 + Cluster 2</text>
<text x="1641.0" y="1837.0" font-size="23.3" fill="#4f4aa6">Cluster 0</text>
<text x="1545.0" y="1784.0" font-size="15.6" fill="#222">Zero cross at 6915</text>
<path d="M1388.6,1453.9 H1778.8 V1845.5 H1388.6 Z M1388.6,1649.2 H1778.8 M1388.6,1715.5 H1778.8" fill="none" stroke="#111" stroke-width="2"/>
<line x1="1376.6" y1="1641.0" x2="1388.6" y2="1641.0" stroke="#111" stroke-width="2"/>
<text x="1365.0" y="1652.0" font-size="23.5" text-anchor="end">0.0</text>
<line x1="1376.6" y1="1592.6" x2="1388.6" y2="1592.6" stroke="#111" stroke-width="2"/>
<text x="1365.0" y="1603.6" font-size="23.5" text-anchor="end">0.2</text>
<line x1="1376.6" y1="1544.2" x2="1388.6" y2="1544.2" stroke="#111" stroke-width="2"/>
<text x="1365.0" y="1555.2" font-size="23.5" text-anchor="end">0.4</text>
<line x1="1376.6" y1="1495.8" x2="1388.6" y2="1495.8" stroke="#111" stroke-width="2"/>
<text x="1365.0" y="1506.8" font-size="23.5" text-anchor="end">0.6</text>
<line x1="1376.6" y1="1721.8" x2="1388.6" y2="1721.8" stroke="#111" stroke-width="2"/>
<text x="1369.0" y="1732.8" font-size="23.5" text-anchor="end">10</text>
<line x1="1376.6" y1="1755.0" x2="1388.6" y2="1755.0" stroke="#111" stroke-width="2"/>
<text x="1374.0" y="1766.0" font-size="23.5" text-anchor="end">5</text>
<line x1="1376.6" y1="1788.2" x2="1388.6" y2="1788.2" stroke="#111" stroke-width="2"/>
<text x="1374.0" y="1799.2" font-size="23.5" text-anchor="end">0</text>
<line x1="1376.6" y1="1821.4" x2="1388.6" y2="1821.4" stroke="#111" stroke-width="2"/>
<text x="1374.0" y="1832.4" font-size="23.5" text-anchor="end">-5</text>
<line x1="1392.0" y1="1845.5" x2="1392.0" y2="1856.7" stroke="#111" stroke-width="2"/>
<text x="1392.0" y="1888.8" font-size="22.8" text-anchor="middle">0</text>
<line x1="1498.6" y1="1845.5" x2="1498.6" y2="1856.7" stroke="#111" stroke-width="2"/>
<text x="1498.6" y="1888.8" font-size="22.8" text-anchor="middle">5000</text>
<line x1="1605.2" y1="1845.5" x2="1605.2" y2="1856.7" stroke="#111" stroke-width="2"/>
<text x="1605.2" y="1888.8" font-size="22.8" text-anchor="middle">10000</text>
<line x1="1711.8" y1="1845.5" x2="1711.8" y2="1856.7" stroke="#111" stroke-width="2"/>
<text x="1711.8" y="1888.8" font-size="22.8" text-anchor="middle">15000</text>
<text x="1583.2" y="1942.8" font-size="22.6" text-anchor="middle">Rank in Ordered Dataset</text>
<text transform="translate(1258.5,1551) rotate(-90)" font-size="23.4" text-anchor="middle">Enrichment<tspan x="0" dy="23">Score</tspan></text>
<text transform="translate(1258.5,1758) rotate(-90)" font-size="23.4" text-anchor="middle">Ranked<tspan x="0" dy="23">List Metric</tspan></text>
<text x="1.0" y="2367.0" font-size="47" font-weight="bold">g</text>
<text x="282.5" y="2400.0" font-size="23.2" text-anchor="middle" font-style="italic">Mki67</text>
<path d="M145.2,2417.8 V2697.3 H435.7" fill="none" stroke="#222" stroke-width="1.8"/>
<line x1="137.2" y1="2685.5" x2="145.2" y2="2685.5" stroke="#222" stroke-width="1.8"/>
<text x="133.0" y="2693.5" font-size="23" text-anchor="end">0</text>
<line x1="137.2" y1="2629.4" x2="145.2" y2="2629.4" stroke="#222" stroke-width="1.8"/>
<text x="133.0" y="2637.4" font-size="23" text-anchor="end">1</text>
<line x1="137.2" y1="2573.4" x2="145.2" y2="2573.4" stroke="#222" stroke-width="1.8"/>
<text x="133.0" y="2581.4" font-size="23" text-anchor="end">2</text>
<line x1="137.2" y1="2517.3" x2="145.2" y2="2517.3" stroke="#222" stroke-width="1.8"/>
<text x="133.0" y="2525.3" font-size="23" text-anchor="end">3</text>
<line x1="137.2" y1="2461.3" x2="145.2" y2="2461.3" stroke="#222" stroke-width="1.8"/>
<text x="133.0" y="2469.3" font-size="23" text-anchor="end">4</text>
<text transform="translate(105,2568) rotate(-90)" font-size="23" text-anchor="middle">Expression Level</text>
<line x1="199.4" y1="2448.0" x2="199.4" y2="2685.5" stroke="#1a1a1a" stroke-width="2.2"/>
<path d="M157.8,2685.5 H241.3" stroke="#1a1a1a" stroke-width="3.2" stroke-linecap="round"/>
<line x1="199.4" y1="2529.2" x2="199.4" y2="2658.5" stroke="#0a0a0a" stroke-width="9.6" stroke-linecap="round"/>
<circle cx="199.4" cy="2448.0" r="4.8" fill="#0a0a0a"/>
<circle cx="199.4" cy="2460.6" r="4.8" fill="#0a0a0a"/>
<circle cx="199.4" cy="2476.6" r="4.8" fill="#0a0a0a"/>
<circle cx="199.4" cy="2481.2" r="4.8" fill="#0a0a0a"/>
<circle cx="199.4" cy="2488.1" r="4.8" fill="#0a0a0a"/>
<circle cx="199.4" cy="2501.8" r="4.8" fill="#0a0a0a"/>
<circle cx="199.4" cy="2685.5" r="4.8" fill="#0a0a0a"/>
<path d="M290.4,2486.9 C290.7,2491.5 291.7,2502.2 292.4,2514.4 C293.1,2526.6 293.9,2546.8 294.4,2560.1 C294.9,2573.5 295.1,2583.0 295.4,2594.4 C295.7,2605.9 296.1,2619.2 296.4,2628.7 C296.6,2638.3 296.4,2645.9 296.9,2651.6 C297.4,2657.3 295.2,2659.2 299.5,2663.0 C303.8,2666.8 317.6,2671.4 322.4,2674.5 C327.2,2677.5 327.0,2679.6 328.4,2681.3 C329.8,2683.1 337.3,2684.3 331.0,2685.0 C324.7,2685.7 303.9,2685.5 290.4,2685.5 C276.9,2685.5 256.1,2685.7 249.8,2685.0 C243.5,2684.3 251.0,2683.1 252.4,2681.3 C253.8,2679.6 253.6,2677.5 258.4,2674.5 C263.2,2671.4 277.0,2666.8 281.3,2663.0 C285.5,2659.2 283.4,2657.3 283.9,2651.6 C284.4,2645.9 284.1,2638.3 284.4,2628.7 C284.6,2619.2 285.1,2605.9 285.4,2594.4 C285.7,2583.0 285.9,2573.5 286.4,2560.1 C286.9,2546.8 287.7,2526.6 288.4,2514.4 C289.1,2502.2 290.1,2491.5 290.4,2486.9 C290.7,2482.3 290.1,2482.3 290.4,2486.9Z" fill="#6bb8e2"/>
<line x1="290.4" y1="2486.9" x2="290.4" y2="2603.6" stroke="#0a0a0a" stroke-width="3.2"/>
<circle cx="290.4" cy="2437.7" r="4.6" fill="#0a0a0a"/>
<circle cx="290.4" cy="2444.6" r="4.6" fill="#0a0a0a"/>
<circle cx="290.4" cy="2456.0" r="4.6" fill="#0a0a0a"/>
<circle cx="290.4" cy="2460.6" r="4.6" fill="#0a0a0a"/>
<circle cx="290.4" cy="2466.3" r="4.6" fill="#0a0a0a"/>
<circle cx="290.4" cy="2470.9" r="4.6" fill="#0a0a0a"/>
<circle cx="290.4" cy="2476.6" r="4.6" fill="#0a0a0a"/>
<circle cx="290.4" cy="2482.3" r="4.6" fill="#0a0a0a"/>
<rect x="285.2" y="2604.3" width="10.4" height="81.0" fill="#a8a8a8" stroke="#0a0a0a" stroke-width="3"/>
<path d="M380.8,2430.9 C382.5,2433.4 387.5,2441.4 391.1,2445.7 C394.7,2450.1 399.3,2453.4 402.5,2457.2 C405.7,2461.0 408.0,2464.8 410.5,2468.6 C413.0,2472.4 415.7,2476.2 417.4,2480.1 C419.1,2483.9 420.0,2487.7 420.8,2491.5 C421.6,2495.3 422.0,2499.1 422.0,2502.9 C422.0,2506.7 421.6,2510.6 420.8,2514.4 C420.0,2518.2 418.7,2522.0 417.4,2525.8 C416.1,2529.6 414.7,2533.4 412.8,2537.2 C410.9,2541.0 408.1,2544.9 406.0,2548.7 C403.9,2552.5 401.9,2556.3 400.2,2560.1 C398.5,2563.9 397.0,2567.7 395.7,2571.5 C394.4,2575.4 393.3,2579.2 392.2,2583.0 C391.1,2586.8 389.9,2590.6 388.8,2594.4 C387.7,2598.2 386.3,2602.0 385.4,2605.9 C384.5,2609.7 384.0,2613.5 383.5,2617.3 C383.0,2621.1 382.9,2624.9 382.6,2628.7 C382.3,2632.5 382.0,2636.4 381.9,2640.2 C381.8,2644.0 381.6,2647.8 381.9,2651.6 C382.2,2655.4 382.5,2659.2 383.5,2663.0 C384.5,2666.8 386.8,2671.4 387.7,2674.5 C388.6,2677.5 388.9,2679.6 388.8,2681.3 C388.7,2683.1 388.1,2684.3 386.8,2685.0 C385.5,2685.7 382.8,2685.7 380.8,2685.7 C378.8,2685.7 376.1,2685.7 374.8,2685.0 C373.5,2684.3 372.9,2683.1 372.8,2681.3 C372.7,2679.6 373.0,2677.5 373.9,2674.5 C374.8,2671.4 377.1,2666.8 378.1,2663.0 C379.1,2659.2 379.4,2655.4 379.7,2651.6 C380.0,2647.8 379.8,2644.0 379.7,2640.2 C379.6,2636.4 379.3,2632.5 379.0,2628.7 C378.7,2624.9 378.6,2621.1 378.1,2617.3 C377.6,2613.5 377.1,2609.7 376.2,2605.9 C375.3,2602.0 373.9,2598.2 372.8,2594.4 C371.7,2590.6 370.6,2586.8 369.4,2583.0 C368.3,2579.2 367.2,2575.4 365.9,2571.5 C364.6,2567.7 363.1,2563.9 361.4,2560.1 C359.7,2556.3 357.7,2552.5 355.6,2548.7 C353.5,2544.9 350.7,2541.0 348.8,2537.2 C346.9,2533.4 345.5,2529.6 344.2,2525.8 C342.9,2522.0 341.6,2518.2 340.8,2514.4 C340.0,2510.6 339.6,2506.7 339.6,2502.9 C339.6,2499.1 340.0,2495.3 340.8,2491.5 C341.6,2487.7 342.5,2483.9 344.2,2480.1 C345.9,2476.2 348.6,2472.4 351.1,2468.6 C353.6,2464.8 355.9,2461.0 359.1,2457.2 C362.3,2453.4 366.9,2450.1 370.5,2445.7 C374.1,2441.4 379.1,2433.4 380.8,2430.9 C382.5,2428.4 379.1,2428.4 380.8,2430.9Z" fill="#8dc63f"/>
<line x1="380.8" y1="2430.9" x2="380.8" y2="2631.0" stroke="#0a0a0a" stroke-width="3.2"/>
<rect x="375.6" y="2487.6" width="10.4" height="66.3" fill="#a8a8a8" stroke="#0a0a0a" stroke-width="3"/>
<line x1="375.6" y1="2517.1" x2="386.0" y2="2517.1" stroke="#0a0a0a" stroke-width="3.4"/>
<circle cx="380.8" cy="2685.5" r="4.8" fill="#0a0a0a"/>
<circle cx="539.3" cy="2444.5" r="11.3" fill="#2c5f8a"/>
<text x="562.7" y="2452.7" font-size="23.2">Cluster 0</text>
<circle cx="539.3" cy="2480.7" r="11.3" fill="#6bb8e2"/>
<text x="562.7" y="2488.9" font-size="23.2">Cluster 1</text>
<circle cx="539.3" cy="2516.9" r="11.3" fill="#8dc63f"/>
<text x="562.7" y="2525.1" font-size="23.2">Cluster 2</text>
<text x="770.0" y="2367.0" font-size="47" font-weight="bold">h</text>
<text x="1036.0" y="2399.7" font-size="23.2" text-anchor="middle" font-style="italic">Mki67</text>
<g transform="translate(825.5,2282.1) scale(1.307)">
<path d="M31.9,169.0 C32.8,166.8 35.3,166.8 38.0,166.5 C40.7,166.2 44.4,166.4 47.9,167.5 C51.4,168.6 55.5,171.3 59.3,173.2 C63.1,175.1 67.3,177.0 70.7,179.0 C74.1,181.0 77.6,182.8 79.9,185.0 C82.2,187.2 84.2,190.4 84.5,192.0 C84.8,193.6 83.3,194.6 82.0,194.5 C80.7,194.4 79.3,192.8 76.5,191.5 C73.7,190.2 68.2,187.9 65.0,187.0 C61.8,186.1 59.4,185.5 57.0,186.0 C54.6,186.5 51.9,187.7 50.5,190.0 C49.1,192.3 48.7,196.4 48.5,200.0 C48.3,203.6 48.4,207.6 49.5,211.5 C50.6,215.4 52.4,220.0 55.0,223.5 C57.6,227.0 61.4,230.3 65.0,232.5 C68.6,234.7 72.7,236.2 76.5,236.5 C80.3,236.8 84.1,234.8 88.0,234.0 C91.9,233.2 95.2,232.4 100.0,232.0 C104.8,231.6 111.8,231.7 116.5,231.5 C121.2,231.3 124.1,231.2 127.9,230.9 C131.7,230.6 135.6,230.4 139.4,229.8 C143.2,229.2 147.0,228.1 150.8,227.5 C154.6,226.9 158.4,226.9 162.2,226.3 C166.0,225.7 170.3,224.8 173.7,224.0 C177.1,223.2 181.9,221.0 182.8,221.8 C183.8,222.6 181.1,225.2 179.4,228.6 C177.7,232.0 174.8,237.9 172.5,242.3 C170.2,246.7 167.8,251.8 165.7,254.9 C163.6,257.9 160.8,258.5 160.0,260.6 C159.2,262.7 161.7,265.6 161.1,267.5 C160.5,269.4 157.8,270.0 156.5,272.1 C155.2,274.2 154.4,277.4 153.1,280.1 C151.8,282.8 150.8,285.8 148.5,288.1 C146.2,290.4 142.8,292.7 139.4,293.8 C136.0,294.9 131.7,295.8 127.9,295.0 C124.1,294.2 120.7,291.7 116.5,289.2 C112.3,286.7 107.4,283.5 102.8,280.1 C98.2,276.7 93.0,272.4 89.0,268.6 C85.0,264.8 81.1,260.2 78.8,257.2 C76.5,254.1 78.0,252.8 75.3,250.3 C72.6,247.8 66.7,245.2 62.7,242.3 C58.7,239.5 54.7,236.4 51.3,233.2 C47.9,230.0 44.7,226.5 42.2,222.9 C39.7,219.3 37.8,216.3 36.4,211.5 C35.0,206.7 34.8,199.6 34.1,194.3 C33.4,189.1 32.8,184.2 32.4,180.0 C32.0,175.8 31.0,171.2 31.9,169.0Z" fill="#d6d6d6" stroke="#d6d6d6" stroke-width="3" stroke-linejoin="round"/><path d="M140.0,226.0 C143.0,222.7 153.7,223.5 160.0,222.0 C166.3,220.5 173.2,218.5 178.0,217.0 C182.8,215.5 186.7,212.7 189.0,213.0 C191.3,213.3 192.5,216.0 192.0,219.0 C191.5,222.0 188.0,226.8 186.0,231.0 C184.0,235.2 181.3,239.7 180.0,244.0 C178.7,248.3 180.3,254.0 178.0,257.0 C175.7,260.0 170.0,261.8 166.0,262.0 C162.0,262.2 158.0,261.3 154.0,258.0 C150.0,254.7 144.3,247.3 142.0,242.0 C139.7,236.7 137.0,229.3 140.0,226.0Z" fill="#d6d6d6" stroke="#d6d6d6" stroke-width="3" stroke-linejoin="round"/><path d="M223.2,110.1 C225.3,108.6 229.0,107.0 233.0,106.6 C237.0,106.2 242.7,107.6 247.3,107.9 C251.9,108.2 256.9,108.2 260.6,108.3 C264.3,108.4 266.5,107.5 269.5,108.3 C272.5,109.0 275.7,110.7 278.4,112.8 C281.1,114.9 283.7,117.8 285.5,120.8 C287.3,123.8 288.1,126.8 289.1,130.6 C290.1,134.4 289.8,139.4 291.7,143.9 C293.6,148.4 298.8,152.9 300.6,157.3 C302.4,161.8 301.8,166.2 302.4,170.6 C303.0,175.0 302.7,179.6 304.2,184.0 C305.7,188.4 309.8,193.6 311.3,197.3 C312.8,201.0 312.8,202.5 313.1,206.2 C313.4,209.9 313.7,215.1 313.1,219.5 C312.5,223.9 310.5,228.5 309.5,232.9 C308.5,237.3 308.1,242.5 306.9,246.2 C305.7,249.9 304.9,252.1 302.4,255.1 C299.9,258.1 295.7,261.6 291.7,264.0 C287.7,266.4 282.8,268.1 278.4,269.3 C273.9,270.5 268.7,271.1 265.0,271.1 C261.3,271.1 259.1,270.0 256.2,269.3 C253.2,268.6 250.0,267.6 247.3,266.7 C244.6,265.8 242.2,263.7 240.1,264.0 C238.0,264.3 237.3,267.9 234.8,268.4 C232.3,268.8 228.4,268.2 225.0,266.7 C221.6,265.2 217.4,262.9 214.4,259.5 C211.4,256.1 209.1,249.9 207.2,246.2 C205.3,242.5 204.3,241.0 202.8,237.3 C201.3,233.6 199.3,228.4 198.3,224.0 C197.3,219.6 196.4,214.3 196.6,210.6 C196.8,206.9 198.0,205.4 199.2,201.7 C200.4,198.0 202.4,192.4 203.7,188.4 C205.0,184.4 205.9,180.7 207.2,177.7 C208.5,174.7 210.9,174.0 211.7,170.6 C212.4,167.2 211.4,162.5 211.7,157.3 C212.0,152.1 212.6,144.7 213.5,139.5 C214.4,134.3 215.8,130.1 217.0,126.1 C218.2,122.1 219.6,118.2 220.6,115.5 C221.6,112.8 221.1,111.6 223.2,110.1Z" fill="#d6d6d6" stroke="#d6d6d6" stroke-width="3" stroke-linejoin="round"/>
<path d="M223.2,110.1 C225.3,108.6 229.0,107.0 233.0,106.6 C237.0,106.2 242.7,107.6 247.3,107.9 C251.9,108.2 256.9,108.2 260.6,108.3 C264.3,108.4 266.5,107.5 269.5,108.3 C272.5,109.0 275.7,110.7 278.4,112.8 C281.1,114.9 283.7,117.8 285.5,120.8 C287.3,123.8 288.1,126.8 289.1,130.6 C290.1,134.4 289.8,139.4 291.7,143.9 C293.6,148.4 298.8,152.9 300.6,157.3 C302.4,161.8 301.8,166.2 302.4,170.6 C303.0,175.0 302.7,179.6 304.2,184.0 C305.7,188.4 309.8,193.6 311.3,197.3 C312.8,201.0 312.8,202.5 313.1,206.2 C313.4,209.9 313.7,215.1 313.1,219.5 C312.5,223.9 310.5,228.5 309.5,232.9 C308.5,237.3 308.1,242.5 306.9,246.2 C305.7,249.9 304.9,252.1 302.4,255.1 C299.9,258.1 295.7,261.6 291.7,264.0 C287.7,266.4 282.8,268.1 278.4,269.3 C273.9,270.5 268.7,271.1 265.0,271.1 C261.3,271.1 259.1,270.0 256.2,269.3 C253.2,268.6 250.0,267.6 247.3,266.7 C244.6,265.8 242.2,263.7 240.1,264.0 C238.0,264.3 237.3,267.9 234.8,268.4 C232.3,268.8 228.4,268.2 225.0,266.7 C221.6,265.2 217.4,262.9 214.4,259.5 C211.4,256.1 209.1,249.9 207.2,246.2 C205.3,242.5 204.3,241.0 202.8,237.3 C201.3,233.6 199.3,228.4 198.3,224.0 C197.3,219.6 196.4,214.3 196.6,210.6 C196.8,206.9 198.0,205.4 199.2,201.7 C200.4,198.0 202.4,192.4 203.7,188.4 C205.0,184.4 205.9,180.7 207.2,177.7 C208.5,174.7 210.9,174.0 211.7,170.6 C212.4,167.2 211.4,162.5 211.7,157.3 C212.0,152.1 212.6,144.7 213.5,139.5 C214.4,134.3 215.8,130.1 217.0,126.1 C218.2,122.1 219.6,118.2 220.6,115.5 C221.6,112.8 221.1,111.6 223.2,110.1Z" fill="url(#spk2)"/>
<path d="M148.9 277.2h0M156.7 252.7h0M220.5 168.8h0M133.9 273.9h0M142.3 263.3h0M137.6 263.3h0M148.7 283.2h0M142.6 267.4h0M137.7 292.8h0M118.2 283.4h0M119.8 278.4h0M159.7 262.3h0M145.5 288.8h0M152.1 272.2h0M150.7 282.5h0M154.2 243.3h0M147.0 273.5h0M159.1 268.3h0M134.3 271.9h0M124.5 291.8h0M146.0 279.5h0M122.9 286.1h0M146.9 271.4h0M157.1 268.8h0M138.2 274.6h0M124.4 272.9h0M137.2 274.7h0M123.8 286.1h0M154.5 249.2h0M139.2 274.7h0M281.5 211.6h0M116.5 281.4h0M139.6 290.5h0M144.5 281.9h0M137.0 270.6h0M144.9 280.7h0M141.6 278.4h0M145.9 276.3h0M171.4 237.7h0M157.8 265.4h0M125.0 270.0h0M218.8 135.2h0M138.0 275.0h0M137.8 265.9h0M143.6 275.7h0M150.8 271.6h0M291.6 257.3h0M152.5 273.0h0M169.9 234.8h0M150.4 266.3h0M153.2 263.9h0M132.7 281.3h0M134.5 288.3h0M305.4 240.5h0M138.2 285.2h0M154.7 239.7h0M116.7 278.4h0M144.3 275.8h0M137.2 288.7h0M135.8 272.3h0M160.1 254.7h0M140.7 276.0h0M150.2 284.9h0M198.8 225.1h0M143.5 265.9h0M136.2 280.4h0M146.4 271.5h0M140.4 280.2h0M163.9 246.9h0" stroke="#0d0887" stroke-width="3.20" stroke-linecap="round" fill="none"/><path d="M204.5 234.1h0M101.9 271.7h0M230.5 112.5h0M277.6 135.8h0M279.6 170.1h0M277.5 242.2h0M141.9 283.7h0M114.5 276.3h0M298.5 249.8h0M229.9 215.3h0M301.0 234.2h0M285.7 167.9h0M288.6 180.9h0M271.5 239.1h0M212.9 237.5h0M231.7 262.8h0M134.1 259.0h0M224.8 145.6h0M174.9 232.0h0M228.3 249.6h0M172.4 240.7h0M209.0 189.7h0M238.7 172.7h0M152.1 251.2h0M287.7 237.4h0M286.3 208.1h0M212.7 173.9h0M242.0 239.6h0M277.7 205.5h0M296.9 212.5h0M151.6 247.8h0M270.4 117.4h0M125.7 276.3h0M236.7 228.4h0M237.4 199.8h0M290.0 260.7h0M278.1 168.7h0M213.7 182.2h0M271.0 203.2h0M149.5 237.5h0M231.7 196.1h0M132.3 262.4h0M228.0 146.7h0M176.2 229.5h0M226.9 208.9h0M126.9 275.8h0M244.8 158.5h0M221.5 229.7h0M175.6 232.8h0M276.8 232.1h0M203.3 196.8h0M231.5 253.0h0M124.8 277.8h0M241.6 144.4h0M214.2 178.8h0M239.8 197.0h0M124.8 255.5h0M111.8 276.2h0M302.5 247.0h0M230.4 215.9h0M247.3 115.7h0M168.8 236.0h0M172.8 232.5h0M140.8 258.5h0M278.7 123.8h0M154.0 243.2h0M241.4 166.0h0M202.3 218.7h0M294.1 193.9h0M153.2 254.5h0M287.4 155.5h0M258.2 197.0h0M278.9 261.1h0M211.8 224.1h0M121.0 287.8h0M218.0 133.2h0M292.4 244.5h0M133.4 288.2h0M113.1 284.3h0M236.5 149.2h0M248.9 200.4h0M218.6 153.8h0M216.6 129.8h0M126.7 257.2h0M222.1 199.2h0M243.0 189.4h0M125.3 253.9h0M124.2 269.8h0M279.4 243.1h0M256.7 110.6h0M123.2 291.6h0M270.7 226.9h0M168.5 244.6h0M220.3 190.4h0M249.6 164.0h0M278.8 177.9h0M246.1 132.5h0M264.8 150.9h0M221.5 211.0h0M149.0 273.9h0M123.4 264.8h0M148.9 267.4h0M268.8 167.6h0M150.4 268.5h0M213.2 197.2h0M249.6 180.4h0M234.9 249.4h0M108.7 283.5h0M127.8 287.9h0M277.0 137.6h0M303.7 216.7h0M216.3 196.5h0M274.4 140.6h0M284.8 219.4h0M251.8 217.8h0M115.5 286.7h0M256.8 111.4h0M265.4 257.5h0M284.1 127.7h0M293.6 172.1h0M308.3 209.6h0M230.9 108.6h0M271.2 112.7h0M113.5 277.7h0M281.3 133.1h0M123.8 283.7h0M248.0 232.9h0M175.8 250.0h0M149.3 252.2h0M203.1 236.5h0M297.9 204.5h0M220.7 157.7h0M149.1 269.1h0M270.4 207.7h0M303.9 207.8h0M235.3 134.5h0M140.3 261.3h0M228.6 239.3h0M170.0 241.7h0M279.9 169.2h0M189.5 215.1h0M249.6 247.6h0M124.5 286.2h0M277.1 199.7h0M275.3 227.7h0M248.5 165.8h0M266.2 158.6h0M222.3 161.3h0M204.4 215.5h0M159.6 237.1h0M172.9 240.6h0M272.2 215.8h0M249.1 197.4h0M291.5 214.3h0M119.6 281.9h0M251.2 165.6h0M140.4 275.9h0M272.3 200.3h0M307.0 225.5h0M130.6 270.1h0M109.2 280.4h0M271.6 176.2h0M132.6 264.7h0M296.8 227.0h0M164.0 238.2h0M286.8 210.4h0" stroke="#380599" stroke-width="3.20" stroke-linecap="round" fill="none"/><path d="M225.3 122.1h0M249.0 129.3h0M272.7 171.3h0M309.3 211.2h0M113.1 272.5h0M236.7 129.5h0M164.5 259.3h0M284.0 192.7h0M215.3 183.1h0M290.6 221.0h0M263.7 161.9h0M289.5 250.1h0M259.0 116.7h0M237.2 155.5h0M258.8 242.5h0M106.6 262.9h0M304.8 231.8h0M261.9 225.9h0M253.3 172.7h0M256.9 138.4h0M272.1 173.9h0M111.8 275.0h0M249.7 173.0h0M284.5 199.1h0M280.8 183.3h0M256.0 132.5h0M294.2 185.0h0M240.2 255.7h0M206.3 236.6h0M235.8 202.2h0M159.5 259.0h0M226.9 144.7h0M122.2 239.7h0M243.1 165.7h0M269.5 253.6h0M231.5 140.4h0M256.8 225.6h0M289.1 184.6h0M276.8 171.8h0M270.5 161.7h0M236.4 200.1h0M279.1 239.1h0M219.6 240.9h0M254.0 220.7h0M232.8 212.1h0M101.2 278.6h0M249.6 133.3h0M270.9 113.3h0M234.6 138.6h0M268.6 125.1h0M231.9 172.8h0M120.9 267.0h0M290.1 164.0h0M244.4 228.2h0M246.0 185.6h0M259.9 264.5h0M236.8 237.5h0M236.1 192.4h0M259.5 141.9h0M234.9 167.7h0M265.3 173.5h0M257.8 206.6h0M235.0 252.1h0M277.1 187.0h0M200.4 211.8h0M293.0 235.6h0M247.7 121.3h0M233.5 172.8h0M235.3 148.7h0M269.6 170.5h0M212.1 164.0h0M279.0 154.0h0M236.7 203.7h0M120.9 276.4h0M272.6 161.7h0M138.9 291.3h0M216.6 173.2h0M260.6 161.8h0M293.9 199.6h0M223.9 241.1h0M143.7 256.9h0M160.6 254.3h0M221.5 211.7h0M225.1 232.7h0M235.1 179.0h0M225.7 260.3h0M270.7 147.9h0M128.7 257.1h0M257.4 192.6h0M200.4 200.4h0M283.4 165.3h0M300.2 253.2h0M227.9 144.2h0M259.6 257.6h0M225.4 193.7h0M262.3 159.5h0M297.6 245.8h0M249.7 140.2h0M271.1 236.6h0M239.2 140.1h0M113.1 245.8h0M287.0 132.2h0M233.7 132.9h0M273.5 166.0h0M239.5 168.5h0M214.1 206.9h0M155.4 252.1h0M218.7 140.4h0M244.1 157.7h0M160.1 260.0h0M225.3 164.9h0M134.0 246.3h0M122.7 246.0h0M214.5 174.0h0M234.8 268.3h0M222.2 241.0h0M139.9 254.0h0M140.1 267.4h0M275.9 122.6h0M269.7 161.8h0M261.3 246.6h0M105.2 263.5h0M237.1 226.4h0M205.3 227.5h0M159.6 246.0h0M252.9 141.9h0M248.2 231.7h0M201.9 213.6h0M236.8 133.3h0M297.9 169.0h0M286.6 171.6h0M280.0 144.6h0M266.8 191.3h0M236.0 263.9h0M274.1 242.2h0M244.1 172.9h0M286.5 180.6h0M251.7 186.7h0M240.2 159.4h0M130.0 281.2h0M239.5 129.8h0M222.4 232.1h0M233.7 200.7h0M281.2 190.3h0M139.2 287.8h0M269.9 249.6h0M226.3 259.3h0M202.2 194.7h0M286.6 192.6h0M233.0 187.5h0M221.8 148.5h0M286.0 222.3h0M218.1 258.0h0M220.9 262.6h0M230.1 144.9h0M133.1 291.5h0M97.0 267.9h0M278.8 202.5h0M305.4 223.5h0M287.5 190.3h0M240.5 244.4h0M276.0 268.0h0M242.6 241.9h0M260.3 206.0h0M274.8 115.6h0M230.5 142.9h0M278.1 162.4h0M300.5 238.1h0M208.7 248.7h0M231.4 197.7h0M266.2 110.7h0M286.0 189.4h0M139.2 273.3h0M236.9 152.1h0M236.2 144.0h0M290.7 200.0h0M291.2 255.4h0M245.6 142.4h0M270.9 112.9h0M289.6 196.8h0M130.4 248.2h0M246.4 248.6h0M279.0 130.0h0M152.5 239.9h0M155.5 254.4h0M240.7 180.8h0M297.1 176.0h0M265.5 233.4h0M123.8 285.6h0M225.5 198.6h0M271.1 119.0h0M278.9 146.6h0M289.3 143.0h0M218.9 204.9h0M303.4 234.0h0M244.1 147.9h0M279.8 154.8h0M232.5 245.1h0M264.5 163.8h0M267.1 130.2h0M223.2 160.3h0M237.1 174.0h0M238.7 210.6h0M228.2 203.5h0M280.2 267.7h0M223.5 163.0h0M246.1 126.2h0M143.1 266.8h0M282.2 191.6h0M251.6 264.7h0M211.6 205.6h0M125.9 247.7h0M247.7 120.1h0M255.0 117.1h0M239.5 121.9h0M256.1 172.2h0M212.1 196.0h0M264.8 128.7h0M228.7 203.3h0M262.4 150.1h0M144.8 247.8h0M280.3 220.2h0M270.3 208.6h0M261.4 110.8h0M245.1 154.3h0M268.3 228.9h0M203.5 205.3h0M154.0 272.6h0M250.3 236.3h0M244.9 140.4h0M118.0 276.6h0M281.7 267.9h0M261.1 268.0h0M292.2 208.7h0M171.3 242.7h0M255.7 151.9h0M293.8 232.7h0M242.2 126.3h0M276.7 144.2h0M245.9 214.7h0M245.2 122.5h0M302.8 191.2h0M260.6 114.8h0M248.0 243.9h0M268.4 156.8h0M127.3 286.5h0M266.3 213.2h0M262.7 134.5h0M237.5 130.4h0M281.6 212.1h0M287.8 212.5h0M223.9 159.1h0M291.0 225.4h0M229.9 169.1h0M275.5 235.3h0M292.1 229.6h0M250.3 117.5h0M269.9 130.6h0M262.4 182.7h0M199.7 214.5h0M300.8 244.4h0M151.8 249.5h0M301.2 169.8h0M206.2 187.0h0M272.4 206.9h0M302.9 200.4h0M261.2 180.5h0M143.6 231.4h0M293.6 197.6h0M172.5 230.3h0M151.9 227.9h0M283.2 177.5h0M305.6 243.6h0M275.9 240.4h0M303.3 204.1h0M262.5 212.0h0M247.1 199.7h0M174.9 233.6h0M253.9 164.0h0M221.9 249.0h0M302.0 181.6h0M240.9 234.5h0M258.6 136.6h0M234.7 229.3h0M218.2 145.8h0M247.6 174.3h0M155.7 262.4h0M266.3 152.6h0M271.8 175.3h0M285.1 167.5h0M298.6 234.3h0M131.3 241.7h0M216.1 130.6h0M260.3 231.5h0M276.9 158.3h0M162.6 243.0h0M280.9 160.9h0M123.9 260.7h0M267.4 163.7h0M226.6 154.9h0M289.3 199.7h0M209.1 197.3h0M210.7 186.0h0M228.8 260.9h0M254.5 190.5h0M263.5 259.7h0M242.6 168.1h0M142.5 249.3h0M206.1 212.7h0M141.5 236.2h0M306.3 202.7h0M268.8 268.1h0M231.9 245.1h0M233.7 214.4h0M144.4 247.0h0M304.4 245.2h0M274.7 175.2h0M235.4 220.3h0M216.7 192.2h0M225.4 203.7h0M234.2 148.5h0M267.5 124.9h0M131.0 248.9h0M271.5 190.5h0M267.5 154.1h0M305.6 243.8h0M294.8 248.7h0M304.4 194.1h0M231.2 203.6h0M265.7 113.7h0M227.0 130.2h0M308.3 208.8h0M274.6 233.8h0M268.0 180.3h0M293.5 160.2h0M232.7 220.0h0M141.7 237.2h0M263.1 190.6h0M292.0 150.8h0M269.7 252.2h0M279.8 118.5h0M244.9 230.9h0M287.8 166.6h0M237.8 233.7h0M140.7 290.3h0M308.9 196.0h0M151.9 256.6h0M125.6 274.1h0M227.9 202.2h0M209.9 190.5h0M221.2 235.9h0M246.8 147.6h0M269.0 227.4h0M250.5 142.3h0M300.8 224.2h0M260.4 235.9h0M212.0 225.0h0M138.0 284.3h0M233.6 254.6h0M258.3 234.1h0M230.5 202.6h0M305.5 234.5h0M242.2 177.2h0M232.2 164.4h0M113.1 276.7h0M251.7 248.3h0M108.9 275.7h0M274.9 119.4h0M300.0 171.9h0M290.8 242.3h0M205.8 190.0h0M219.6 196.5h0M224.9 143.9h0M254.5 172.3h0M265.8 152.6h0M267.3 207.1h0M310.8 211.3h0M158.9 255.1h0M265.7 199.5h0M222.0 122.9h0M161.2 244.4h0M254.2 120.5h0M293.6 227.9h0M127.2 252.7h0M230.1 137.8h0M225.1 215.2h0M295.5 158.5h0M256.5 210.1h0M298.2 155.9h0M148.6 271.6h0M236.1 195.9h0M228.8 166.6h0M229.3 212.1h0M253.8 247.3h0M230.6 240.7h0M292.3 236.8h0M120.3 287.6h0M297.5 196.8h0M235.3 190.4h0M158.5 254.5h0M103.3 277.7h0M87.8 265.9h0M268.8 180.8h0M268.9 119.6h0M297.2 249.0h0M259.7 161.0h0M236.2 195.3h0M204.8 222.8h0M137.0 265.0h0M232.6 239.8h0M138.3 241.1h0M281.3 128.5h0M158.9 229.6h0M223.9 222.1h0M286.5 189.6h0M241.4 155.0h0M279.0 206.5h0M256.9 233.0h0M217.1 174.0h0M226.0 180.3h0M219.7 261.8h0M281.3 200.8h0M236.9 213.4h0M222.4 176.1h0M264.2 210.3h0M296.4 216.5h0M227.1 117.1h0M224.6 181.6h0M251.8 187.2h0M218.9 162.9h0M198.6 205.2h0M104.1 269.5h0M309.1 203.2h0M143.8 257.7h0M124.9 286.2h0M216.1 251.3h0M239.3 148.9h0M165.8 244.8h0M245.0 140.3h0M282.7 179.8h0M268.0 122.4h0M128.7 291.9h0M129.9 266.2h0M289.6 204.7h0M264.0 132.0h0M247.0 165.5h0M232.9 199.3h0M228.7 128.8h0M217.8 218.7h0M219.3 218.7h0M232.7 120.1h0M304.4 242.6h0M163.9 250.1h0M246.0 133.8h0M132.5 273.0h0M241.0 130.5h0M246.8 201.0h0M246.6 118.9h0M124.0 269.1h0M228.5 136.7h0M282.0 244.3h0M108.2 261.5h0M243.6 173.1h0M158.7 227.0h0M113.7 286.6h0M245.0 225.1h0M240.9 184.8h0M208.4 201.0h0M290.6 242.2h0M276.8 209.7h0M251.4 114.3h0M219.6 142.1h0M292.9 157.8h0M257.8 239.2h0M126.1 252.9h0M233.2 223.3h0M267.8 268.3h0M226.5 112.9h0M249.6 222.7h0M285.8 229.3h0M234.6 180.4h0M280.3 251.9h0M235.5 257.5h0M137.2 256.5h0M105.2 279.6h0M220.4 191.8h0M287.8 151.8h0M248.7 139.6h0M276.7 247.9h0M228.4 191.9h0M237.1 231.9h0M274.9 260.6h0M203.6 202.7h0M164.8 253.4h0M177.0 227.7h0M254.8 179.5h0M245.1 222.4h0M233.8 134.7h0M258.2 234.2h0M261.3 196.1h0M251.6 142.2h0M270.6 136.1h0M216.2 197.9h0M300.3 245.9h0M237.0 238.0h0M232.0 227.1h0M238.0 139.9h0M269.9 269.4h0M127.3 292.8h0M264.2 175.8h0M258.6 181.9h0M246.6 195.9h0M244.1 156.0h0M201.3 209.6h0M212.3 154.4h0M216.3 194.2h0M298.2 226.1h0M221.8 165.7h0M222.9 144.7h0M110.9 270.3h0M151.4 275.0h0M278.3 116.9h0M280.3 262.4h0M221.7 191.2h0M253.2 212.2h0M270.3 184.0h0M205.7 223.4h0M179.9 224.7h0M119.0 284.4h0M273.2 144.2h0M294.8 149.0h0M267.8 163.2h0M272.5 253.0h0M127.9 262.9h0" stroke="#5c01a4" stroke-width="3.20" stroke-linecap="round" fill="none"/><path d="M284.9 149.2h0M256.7 126.8h0M247.6 135.5h0M261.2 174.9h0M126.8 266.8h0M258.6 174.7h0M134.8 265.6h0M140.6 246.0h0M172.6 249.4h0M277.9 126.9h0M257.1 143.5h0M281.3 189.9h0M254.0 267.4h0M112.8 277.1h0M242.1 255.8h0M292.1 169.4h0M293.9 222.1h0M144.6 240.5h0M202.2 207.1h0M102.1 278.5h0M229.9 249.6h0M252.3 253.6h0M296.9 167.1h0M247.4 110.6h0M272.2 148.5h0M292.2 175.3h0M243.7 247.7h0M114.0 266.5h0M285.2 143.5h0M123.8 239.0h0M122.6 256.0h0M226.9 194.3h0M292.7 232.1h0M232.1 149.1h0M125.8 273.0h0M302.8 241.5h0M287.0 127.5h0M231.4 232.5h0M270.6 125.6h0M251.9 252.7h0M229.6 218.9h0M223.1 226.1h0M304.6 242.8h0M297.4 248.6h0M266.9 119.3h0M253.9 121.8h0M215.0 182.7h0M96.3 260.8h0M269.5 222.5h0M168.8 258.6h0M126.1 284.9h0M229.4 115.2h0M248.0 262.9h0M234.5 113.5h0M199.0 217.3h0M277.1 255.1h0M231.9 213.4h0M200.1 224.5h0M290.4 169.8h0M257.5 199.6h0M204.6 206.5h0M228.3 187.0h0M279.7 124.6h0M282.9 146.0h0M247.7 164.3h0M271.5 159.9h0M213.8 147.4h0M155.9 254.3h0M218.3 245.0h0M308.3 230.0h0M207.9 244.6h0M220.8 132.7h0M224.1 244.8h0M234.6 249.6h0M112.1 267.8h0M177.6 225.1h0M233.6 240.2h0M219.3 183.0h0M241.0 161.4h0M287.6 130.7h0M252.6 196.9h0M238.1 187.4h0M223.8 185.6h0M235.5 154.9h0M123.0 268.7h0M126.0 243.0h0M256.7 205.1h0M204.3 208.3h0M254.8 122.6h0M143.9 236.2h0M230.7 195.0h0M212.1 167.5h0M276.3 149.9h0M127.0 245.6h0M260.3 172.2h0M268.9 260.7h0M114.0 265.5h0M222.2 202.4h0M247.6 211.7h0M264.5 190.7h0M97.9 274.7h0M278.3 261.8h0M228.0 209.3h0M240.1 141.6h0M301.5 226.1h0M286.9 193.7h0M231.2 241.1h0M246.2 217.4h0M231.9 126.2h0M238.4 184.6h0M215.3 133.4h0M211.3 200.2h0M219.1 233.9h0M225.3 139.5h0M301.5 231.7h0M108.7 244.7h0M213.5 176.0h0M264.3 158.3h0M204.7 194.3h0M249.8 139.4h0M238.3 186.4h0M266.0 140.7h0M217.1 242.5h0M282.6 153.3h0M276.7 139.7h0M156.2 254.4h0M233.3 134.4h0M289.0 140.8h0M256.3 265.2h0M227.8 126.5h0M261.4 207.0h0M269.8 137.0h0M280.9 205.0h0M301.1 203.9h0M283.3 182.9h0M267.6 174.9h0M221.9 227.2h0M226.1 194.1h0M260.3 198.8h0M241.9 110.6h0M269.2 207.9h0M128.0 276.9h0M262.9 201.8h0M142.6 265.7h0M109.5 284.5h0M280.3 196.6h0M248.5 164.9h0M276.2 122.7h0M265.2 182.5h0M306.7 206.0h0M238.5 264.4h0M111.0 262.3h0M215.3 162.1h0M279.4 232.9h0M289.5 151.2h0M260.9 258.8h0M222.7 128.7h0M229.9 253.8h0M266.8 190.3h0M259.4 137.1h0M264.4 112.0h0M257.4 204.2h0M123.1 263.5h0M296.2 240.2h0M279.7 161.0h0M308.3 212.0h0M179.5 223.6h0M261.7 199.9h0M258.8 165.1h0M265.8 158.6h0M229.5 126.5h0M256.9 265.6h0M264.7 203.5h0M253.0 203.7h0M248.5 157.6h0M263.1 259.7h0M270.2 196.3h0M275.9 253.2h0M274.5 178.5h0M296.8 162.0h0M120.4 290.2h0M116.4 276.4h0M264.4 204.9h0M245.6 166.0h0M222.8 133.8h0M242.3 229.4h0M246.9 148.4h0M263.0 194.6h0M297.9 170.1h0M218.5 248.0h0M221.1 175.4h0M294.8 206.6h0M240.1 175.2h0M147.1 250.6h0M273.2 262.8h0M238.8 230.2h0M210.9 236.4h0M261.3 184.6h0M285.4 163.7h0M240.9 229.4h0M149.4 241.4h0M219.8 223.5h0M232.5 226.3h0M215.0 221.8h0M216.0 184.8h0M215.0 248.0h0M303.1 192.1h0M289.6 150.9h0M109.2 267.0h0M287.5 237.8h0M247.0 249.5h0M276.8 180.3h0M248.7 135.3h0M245.0 222.1h0M208.1 186.7h0M289.6 190.2h0M256.0 137.6h0M263.4 155.6h0M216.0 222.6h0M215.4 161.2h0M209.3 208.4h0M261.1 155.5h0M218.2 151.3h0M275.1 218.4h0M299.5 222.7h0M224.2 126.3h0M250.4 253.7h0M298.5 177.6h0M113.4 249.6h0M127.5 257.8h0M276.8 160.0h0M262.8 170.8h0M116.8 275.1h0M122.0 266.3h0M123.6 238.7h0M223.4 257.5h0M215.5 148.0h0M218.9 134.5h0M224.7 246.4h0M296.0 204.8h0M219.7 205.5h0M297.0 200.0h0M106.2 266.2h0M295.3 155.0h0M271.5 155.3h0M297.4 217.0h0M244.6 258.2h0M119.4 274.3h0M285.0 159.0h0M295.5 155.6h0M272.5 260.4h0M284.0 261.3h0M227.8 254.7h0M215.1 195.0h0M213.6 175.2h0M157.5 257.0h0M241.3 240.2h0M246.5 156.0h0M219.9 134.4h0M249.7 121.8h0M171.5 231.5h0M126.8 280.3h0M232.7 184.6h0M274.3 262.9h0M219.9 186.6h0M125.3 292.0h0M287.4 246.1h0M124.6 238.0h0M280.8 211.0h0M217.8 131.2h0M213.2 246.0h0M221.7 130.0h0M173.3 226.4h0M274.5 239.4h0M253.2 233.0h0M234.2 224.7h0M262.1 193.8h0M162.9 230.4h0M225.9 243.7h0M256.5 169.6h0M292.9 186.6h0M248.2 156.8h0M265.1 232.8h0M116.8 263.4h0M226.9 227.3h0M207.0 183.3h0M273.9 173.3h0M244.6 169.1h0M218.2 167.7h0M231.0 188.2h0M218.3 146.6h0M265.7 112.5h0M243.8 219.6h0M274.7 244.5h0M304.7 249.6h0M272.2 138.4h0M159.3 235.6h0M248.2 232.5h0M124.5 268.4h0M301.2 220.6h0M212.3 232.6h0M215.8 205.5h0M253.7 217.7h0M109.6 232.0h0M167.7 229.2h0M264.6 122.4h0M215.1 241.7h0M305.8 194.5h0M217.3 179.8h0M119.6 260.1h0M221.7 221.5h0M257.0 175.6h0M130.6 245.6h0M150.4 243.4h0M274.0 244.1h0M290.6 207.8h0M273.9 144.8h0M169.9 238.1h0M118.8 262.1h0M200.0 213.6h0M214.8 255.8h0M286.6 134.2h0M270.6 150.9h0M297.1 158.9h0M143.4 246.8h0M284.6 192.5h0M75.8 246.7h0M226.2 118.2h0M208.1 214.7h0M177.0 257.1h0M165.3 243.9h0M266.5 259.9h0M97.2 273.0h0M273.6 244.2h0M260.2 224.1h0M216.9 176.6h0M286.8 129.3h0M224.5 116.1h0M279.3 260.8h0M225.5 200.1h0M271.1 190.2h0M209.5 228.3h0M221.0 261.7h0M230.3 114.0h0M153.3 247.9h0M118.3 279.3h0M295.5 214.2h0M244.1 259.6h0M251.1 260.0h0M257.6 237.7h0M160.4 223.4h0M282.5 247.8h0M202.6 221.7h0M229.5 111.2h0M204.8 193.9h0M216.8 159.9h0M224.0 191.2h0M263.0 234.2h0" stroke="#7c06a6" stroke-width="3.20" stroke-linecap="round" fill="none"/><path d="M106.2 261.2h0M213.1 186.9h0M110.9 236.3h0M307.3 229.3h0M216.8 170.4h0M121.3 242.8h0M85.4 249.0h0M102.8 266.5h0M256.9 265.4h0M144.4 234.7h0M128.2 255.2h0M101.6 264.9h0M253.9 144.9h0M154.2 256.5h0M142.2 272.2h0M46.7 227.7h0M278.4 118.7h0M138.9 258.1h0M214.9 141.9h0M115.1 270.6h0M269.7 268.5h0M133.5 238.5h0M101.6 260.3h0M235.9 129.6h0M109.3 252.3h0M154.3 232.1h0M146.0 239.7h0M122.7 234.3h0M105.9 276.0h0M79.0 242.0h0M288.0 179.5h0M63.9 242.7h0M126.3 285.2h0M141.7 280.1h0M114.5 273.2h0M96.3 249.0h0M289.7 230.2h0M170.4 230.7h0M106.3 264.8h0M251.1 262.9h0M90.2 264.9h0M55.5 228.2h0M115.4 261.8h0M161.2 225.2h0M105.7 278.9h0M128.5 257.6h0M95.6 266.5h0M103.2 257.1h0M231.4 256.6h0M143.5 234.6h0M310.1 220.0h0M64.5 237.5h0M145.9 246.6h0M122.3 234.3h0M147.0 280.6h0M102.6 274.2h0M117.5 242.7h0M290.9 252.8h0M151.0 263.2h0M143.2 242.4h0M117.1 233.6h0M128.0 236.7h0M250.7 235.2h0M209.9 241.7h0M133.6 241.7h0M157.8 269.4h0M240.0 110.6h0M224.9 179.7h0M150.3 234.4h0M65.8 244.2h0M281.1 136.2h0M165.2 235.7h0M282.6 174.4h0M98.1 248.0h0M114.7 260.1h0M89.7 259.1h0M125.0 254.8h0M127.6 247.2h0M94.4 269.0h0M122.9 251.1h0M121.4 258.8h0M162.5 253.4h0M258.1 154.3h0M115.9 243.5h0M118.8 261.0h0M261.1 249.8h0M138.6 254.4h0M234.7 255.8h0M103.0 267.6h0M286.4 197.2h0M152.9 242.5h0M153.6 258.1h0M311.4 223.6h0M57.6 227.6h0M279.3 239.1h0M151.7 250.9h0M240.2 153.1h0M121.2 250.5h0M242.9 191.8h0M154.3 232.8h0M123.0 246.6h0M144.0 237.5h0M114.2 246.7h0M120.5 271.8h0M218.1 198.1h0M144.0 237.8h0M137.5 274.3h0M111.7 272.9h0M50.9 232.4h0M177.9 224.2h0M108.5 259.4h0M103.9 251.6h0M106.1 273.3h0M234.6 218.3h0M208.6 213.7h0M117.3 262.5h0M111.8 266.8h0M107.7 267.0h0M176.8 242.7h0M165.6 235.8h0M143.2 247.0h0M186.7 225.2h0M114.7 264.3h0M60.9 236.0h0M167.8 240.8h0M99.1 266.7h0M140.6 237.1h0M240.2 129.6h0M130.7 280.2h0" stroke="#9a179d" stroke-width="3.20" stroke-linecap="round" fill="none"/><path d="M112.4 265.3h0M98.8 245.6h0M102.7 246.7h0M147.1 229.5h0M286.1 260.7h0M262.5 202.2h0M128.1 231.5h0M178.8 224.7h0M93.1 267.3h0M124.4 240.4h0M120.2 236.9h0M104.5 271.2h0M109.3 260.1h0M84.2 242.7h0M251.2 235.9h0M177.6 228.2h0M75.3 243.2h0M93.8 267.2h0M97.2 245.4h0M59.6 229.2h0M66.4 242.6h0M113.0 267.3h0M98.1 250.3h0M250.8 131.7h0M49.4 231.0h0M126.2 252.1h0M118.1 265.8h0M136.1 255.4h0M247.3 171.4h0M261.6 152.0h0M142.9 229.7h0M111.6 270.9h0M161.0 240.1h0M154.5 250.6h0M272.6 165.7h0M99.5 248.1h0M117.2 249.2h0M121.2 274.3h0M105.7 250.6h0M107.5 281.5h0M150.8 238.7h0M267.2 195.1h0M158.8 228.5h0M126.8 251.4h0M64.7 233.6h0M125.9 259.7h0M96.6 260.0h0M76.6 237.8h0M295.8 164.0h0M47.7 227.6h0M96.5 257.7h0M125.5 264.8h0M153.8 237.6h0M127.1 242.8h0M105.4 250.9h0M65.4 239.0h0M104.0 236.8h0M276.5 183.1h0M286.0 154.2h0M118.3 249.7h0M133.5 241.3h0M66.3 244.0h0M98.6 246.9h0M159.5 236.3h0M277.5 190.6h0M247.6 235.9h0M222.7 140.4h0M162.9 244.1h0M169.5 253.9h0M108.6 254.0h0M262.8 200.6h0M265.1 260.6h0M119.5 252.5h0M96.2 249.7h0M102.4 258.8h0M158.8 234.7h0M90.5 260.6h0M295.5 242.6h0M80.9 254.8h0M113.5 244.5h0M102.7 269.6h0M66.0 233.3h0M106.2 250.7h0M152.5 232.1h0M87.4 259.4h0M70.8 243.8h0M104.3 254.0h0M97.8 239.0h0M109.8 258.4h0M64.0 232.9h0M131.1 264.6h0M125.7 254.1h0M148.8 229.1h0M155.5 235.2h0M65.6 243.3h0M114.8 258.8h0M88.5 244.5h0M96.7 271.5h0M108.5 235.2h0M69.4 245.0h0M73.8 238.5h0M64.6 241.7h0M73.2 236.6h0M111.8 272.1h0M59.5 231.5h0" stroke="#b62f8c" stroke-width="3.20" stroke-linecap="round" fill="none"/><path d="M76.3 246.5h0M146.5 231.0h0M65.1 232.5h0M94.9 234.2h0M133.4 241.1h0M68.1 236.7h0M111.2 245.5h0M39.9 218.1h0M48.7 208.4h0M118.3 235.6h0M110.3 241.2h0M87.3 259.2h0M126.6 236.5h0M91.4 261.4h0M101.2 253.9h0M70.6 234.9h0M39.7 192.9h0M67.8 238.8h0M105.9 236.1h0M95.6 249.6h0M115.6 239.7h0M107.7 238.9h0M123.1 247.2h0M111.1 275.0h0M118.8 240.0h0M130.2 240.2h0M102.9 255.0h0M86.3 246.2h0M111.9 265.3h0M44.9 197.4h0M67.5 242.6h0M47.2 226.3h0M90.6 258.9h0M88.7 238.3h0M132.8 238.8h0M128.5 233.1h0M116.1 234.0h0M160.7 227.0h0M105.5 264.6h0M119.6 232.5h0M81.0 247.1h0M133.1 240.7h0M99.8 242.0h0M100.6 260.4h0M144.4 233.3h0M56.9 225.4h0M110.8 248.7h0M75.6 240.1h0M136.2 252.5h0M86.7 266.0h0M91.1 259.1h0M98.0 252.4h0M57.8 232.2h0M114.1 242.3h0M71.7 241.2h0M72.3 245.4h0M100.0 246.5h0M73.7 245.5h0M107.8 250.0h0M50.4 229.4h0M63.1 235.7h0M71.4 244.7h0M108.2 235.8h0M108.3 241.1h0M109.0 236.8h0M109.1 243.7h0M95.7 245.0h0M66.3 241.9h0M114.0 263.1h0M77.1 246.0h0M121.3 235.4h0M84.1 246.5h0M70.7 243.5h0M101.7 253.7h0M77.7 243.4h0M93.9 260.4h0M114.9 243.8h0M99.8 254.3h0M110.1 240.0h0M95.5 265.3h0M60.1 233.4h0M102.8 215.5h0M92.0 261.8h0M94.0 247.4h0M129.1 250.9h0M93.9 240.9h0M65.0 241.2h0M73.4 238.6h0M100.5 266.3h0M121.4 258.9h0M62.6 235.8h0M125.4 234.1h0" stroke="#cc4778" stroke-width="3.20" stroke-linecap="round" fill="none"/><path d="M75.5 247.0h0M90.4 246.1h0M89.5 266.6h0M122.4 246.8h0M72.4 246.6h0M87.0 200.9h0M88.5 201.8h0M50.8 224.0h0M77.0 247.8h0M104.2 250.9h0M77.1 240.0h0M70.1 243.0h0M83.5 243.5h0M76.4 245.7h0M85.3 246.9h0M91.8 200.8h0M84.1 224.4h0M114.2 239.4h0M73.0 235.8h0M78.4 236.1h0M79.7 240.1h0M65.3 238.2h0M113.1 238.6h0M96.7 228.2h0M104.3 209.2h0M73.0 239.2h0M46.7 217.2h0M98.0 248.2h0M37.4 203.3h0M150.9 241.3h0M108.7 237.6h0M105.9 244.3h0M112.1 239.4h0M70.4 246.1h0M83.2 235.6h0M72.3 245.0h0M51.5 231.5h0M130.4 234.7h0M117.4 204.5h0M84.8 239.1h0M64.7 236.5h0M84.6 235.7h0M99.1 246.2h0M121.3 233.1h0M108.9 233.0h0M71.3 237.3h0M82.9 253.7h0M109.5 242.1h0M78.9 191.5h0M119.2 232.0h0M89.2 256.6h0M89.9 245.2h0M93.2 243.9h0M126.7 248.0h0M91.4 237.8h0M93.3 245.6h0M97.6 259.1h0M52.6 231.7h0M109.1 234.2h0M77.9 243.5h0M100.8 234.6h0M126.6 233.8h0M33.5 189.1h0M92.4 256.9h0M86.0 258.6h0M78.4 244.3h0M74.8 243.9h0M91.6 212.4h0M66.6 186.9h0M95.8 243.1h0M45.3 189.7h0M78.8 256.2h0M106.3 261.5h0M103.8 240.2h0M68.4 238.6h0M64.5 238.3h0M77.9 254.1h0M94.2 242.7h0M79.7 236.1h0M40.4 194.3h0M113.7 237.3h0M117.1 220.4h0M42.1 201.4h0M50.4 224.7h0M99.6 237.1h0M106.3 234.1h0M93.4 254.0h0M121.8 237.9h0M37.4 201.4h0M88.9 207.8h0M94.4 251.6h0M57.2 225.6h0M56.3 234.9h0M80.6 252.7h0M86.4 249.1h0M47.5 176.3h0" stroke="#de5f66" stroke-width="3.20" stroke-linecap="round" fill="none"/><path d="M81.5 247.3h0M33.8 187.7h0M59.4 236.8h0M37.2 197.5h0M134.8 223.1h0M92.8 227.4h0M51.4 232.2h0M45.3 218.4h0M45.6 204.8h0M122.9 223.8h0M36.3 200.3h0M78.2 246.1h0M94.7 253.8h0M52.0 219.6h0M88.0 239.9h0M90.2 247.4h0M87.7 243.8h0M82.0 228.8h0M43.5 220.1h0M46.9 221.5h0M59.8 180.8h0M49.3 223.8h0M111.5 204.9h0M35.3 181.2h0M40.8 189.1h0M39.9 209.9h0M49.2 224.0h0M38.1 193.1h0M83.7 254.5h0M78.6 254.7h0M37.3 175.1h0M95.9 242.3h0M77.4 238.3h0M40.1 174.3h0M104.6 230.0h0M73.1 187.9h0M99.8 223.6h0M41.1 203.9h0M102.5 241.2h0M99.6 214.6h0M44.3 206.9h0M36.6 189.3h0M134.4 220.4h0M39.8 217.7h0M118.6 207.2h0M130.8 227.2h0M45.9 194.2h0M93.9 226.1h0M42.5 169.8h0M125.1 239.2h0M38.0 192.6h0M47.3 219.2h0M98.5 201.2h0M47.5 210.9h0M109.6 241.2h0M45.7 212.2h0M126.1 217.0h0M89.6 231.5h0M80.0 242.6h0M89.8 246.3h0M106.1 234.7h0M84.1 216.2h0M85.3 249.8h0M52.1 219.8h0M55.2 234.9h0M37.0 206.5h0M83.8 218.3h0M51.6 174.8h0M52.4 181.4h0M44.8 171.6h0M117.2 225.6h0M89.9 236.6h0M36.6 203.9h0M46.7 194.5h0M33.4 176.6h0M87.4 248.8h0M43.5 204.7h0M35.8 198.4h0M126.3 231.4h0M41.6 182.4h0M104.4 232.5h0M48.5 206.8h0M52.8 171.5h0M86.5 227.3h0M43.6 176.2h0M96.0 256.0h0M96.0 222.5h0M76.2 184.9h0M78.7 188.7h0M47.8 217.0h0M36.5 196.3h0M44.6 222.4h0M36.7 191.9h0M48.6 168.8h0M45.1 196.4h0M50.3 177.3h0M98.4 237.2h0M37.4 186.4h0M47.8 217.4h0M70.7 235.9h0M81.5 192.7h0M44.8 188.6h0M122.8 205.3h0M119.9 234.7h0M110.4 206.3h0M36.1 182.1h0M42.9 209.8h0M89.5 232.4h0M47.3 175.5h0M41.2 206.3h0M123.0 227.5h0M71.6 188.2h0M86.6 229.4h0M105.8 220.3h0M39.2 207.7h0M97.9 238.9h0M43.9 190.1h0M101.7 236.3h0" stroke="#ec7953" stroke-width="3.20" stroke-linecap="round" fill="none"/><path d="M55.3 224.0h0M45.3 200.6h0M85.8 236.7h0M33.5 176.2h0M34.1 182.5h0M46.3 210.6h0M71.4 186.7h0M48.1 204.1h0M105.9 228.6h0M43.8 190.9h0M42.1 175.1h0M48.3 189.9h0M57.1 176.3h0M38.7 173.4h0M78.0 243.1h0M86.5 200.5h0M44.0 212.5h0M50.5 187.4h0M65.8 177.7h0M36.0 179.0h0M36.7 196.3h0M81.9 251.3h0M40.8 204.9h0M77.0 184.5h0M39.2 171.0h0M38.9 180.6h0M40.4 200.0h0M36.9 171.9h0M45.5 197.0h0M93.8 221.9h0M49.7 192.5h0M111.8 203.7h0M44.2 197.6h0M98.2 229.9h0M43.9 183.7h0M45.3 168.7h0M39.0 183.5h0M87.9 199.8h0M36.7 195.1h0M65.8 185.7h0M57.4 179.0h0M55.9 230.8h0M43.4 224.0h0M53.7 180.0h0M33.9 180.7h0M50.9 180.4h0M47.8 213.4h0M62.6 185.6h0M107.3 240.8h0M40.2 168.3h0M60.1 180.8h0M47.8 181.6h0M100.8 232.7h0M106.5 229.5h0M36.6 175.8h0M37.6 198.3h0M76.1 243.7h0M36.3 192.8h0M44.3 194.4h0M63.1 186.5h0M43.5 222.2h0M102.8 227.4h0M39.8 167.1h0M37.6 211.9h0M79.5 246.7h0M38.7 196.4h0M40.0 215.6h0M51.6 169.5h0M56.4 174.9h0M35.0 173.9h0M82.2 252.5h0M68.8 184.9h0M96.3 232.9h0M35.4 180.7h0M40.1 184.6h0M81.2 252.6h0M81.4 210.9h0M48.6 181.7h0M50.2 220.5h0M105.8 220.1h0M117.2 247.4h0M44.7 190.8h0M88.3 243.5h0M39.6 207.3h0M33.6 176.7h0M125.2 224.3h0M125.7 230.0h0M41.6 202.5h0M36.4 189.9h0M46.6 200.9h0M43.2 222.5h0M35.8 189.2h0M100.1 231.1h0M45.7 223.1h0M53.0 178.5h0M42.8 204.5h0M86.5 250.3h0M47.9 173.4h0M48.7 218.9h0M47.2 223.0h0M46.8 173.0h0M46.0 179.5h0M86.4 258.9h0M98.8 240.2h0M32.4 170.4h0M39.7 202.1h0M96.8 236.8h0M43.8 168.8h0M48.0 170.8h0M84.8 215.3h0M81.0 227.8h0M78.6 255.6h0M123.0 218.9h0M82.7 246.8h0M40.7 219.5h0M38.2 183.5h0M112.3 226.6h0M51.0 225.5h0M92.4 219.4h0M57.8 184.1h0M49.1 187.5h0M39.5 188.9h0M35.3 183.8h0M37.5 202.9h0M89.2 200.1h0M44.7 170.7h0M78.5 191.4h0M71.6 185.5h0M35.7 171.3h0M76.7 183.0h0M70.7 181.5h0M106.3 212.2h0M34.3 185.3h0M89.1 237.9h0M39.2 195.9h0M53.2 186.4h0M50.5 173.1h0M42.5 168.6h0M33.4 179.9h0M80.8 189.5h0M49.7 217.8h0M51.7 218.9h0M42.9 184.6h0M94.5 247.9h0M37.6 209.4h0M88.2 234.5h0M52.3 219.2h0M119.7 203.9h0M128.8 212.4h0M78.5 184.3h0M47.6 204.2h0M62.2 176.1h0M36.8 172.5h0M44.4 222.3h0M73.5 244.5h0M51.3 178.4h0M48.0 197.1h0M82.8 243.7h0M62.9 176.3h0M35.9 175.6h0M91.2 227.8h0M46.3 167.3h0" stroke="#f79540" stroke-width="3.20" stroke-linecap="round" fill="none"/><path d="M42.1 184.9h0M44.0 173.1h0M36.9 182.9h0M45.9 201.0h0M48.3 187.3h0M35.8 189.9h0M93.9 232.0h0M73.0 187.1h0M48.3 198.6h0M70.0 188.3h0M64.4 177.1h0M64.1 185.1h0M44.8 173.6h0M55.2 179.2h0M85.2 241.7h0M46.7 207.2h0M42.0 211.2h0M39.6 172.0h0M37.2 182.7h0M40.9 185.4h0M70.9 188.5h0M49.6 216.1h0M93.3 229.2h0M42.9 186.1h0M48.0 188.9h0M46.9 188.7h0M52.2 177.9h0M39.8 167.2h0M96.2 235.5h0M46.5 204.2h0M107.4 202.7h0M66.1 181.1h0M44.6 214.2h0M55.2 182.5h0M51.0 216.2h0M44.2 192.8h0M40.4 170.6h0M37.0 169.3h0M128.0 217.1h0M40.5 186.7h0M52.6 184.6h0M45.4 206.7h0M37.4 167.0h0M57.8 180.8h0M35.4 195.0h0M46.5 183.4h0M42.2 168.0h0M50.4 187.3h0M41.3 209.1h0M52.2 175.6h0M95.5 238.6h0M49.9 178.5h0M40.0 179.8h0M35.5 173.6h0M85.9 196.2h0M35.3 175.7h0M45.4 205.9h0M42.1 169.5h0M45.5 196.5h0M54.4 184.0h0M52.3 180.4h0M53.1 178.8h0M41.6 199.1h0M47.8 180.5h0M36.9 195.5h0M48.6 181.4h0M93.1 242.6h0M38.2 173.3h0M80.8 189.7h0M51.6 223.8h0M46.8 169.6h0M80.5 191.6h0M47.0 218.3h0M47.0 206.5h0M39.1 170.9h0M96.6 214.7h0M33.3 170.7h0M44.8 201.9h0M40.4 190.6h0M64.1 185.9h0M75.4 185.3h0M51.2 218.2h0" stroke="#fcb330" stroke-width="3.20" stroke-linecap="round" fill="none"/><path d="M68.2 184.7h0M70.3 180.9h0M63.4 177.9h0M36.6 185.0h0M56.7 185.5h0M54.3 177.5h0M59.2 173.4h0M44.0 218.0h0M34.7 177.7h0M36.7 177.0h0M41.4 203.8h0M75.2 185.7h0M35.0 185.6h0M37.8 169.6h0M32.4 170.1h0M51.0 178.6h0M42.7 173.9h0M47.4 204.5h0M59.1 177.7h0M119.8 207.2h0M34.7 179.1h0M117.3 208.7h0M72.2 185.3h0M35.1 188.3h0M36.8 172.1h0M41.0 201.0h0M81.4 223.8h0M79.0 186.5h0M79.5 191.8h0M82.2 245.5h0M64.3 178.3h0M49.9 184.0h0M51.2 178.9h0M89.0 222.3h0M46.9 171.8h0M45.7 212.7h0M56.4 175.1h0M45.1 222.8h0M52.0 177.4h0" stroke="#fad524" stroke-width="3.20" stroke-linecap="round" fill="none"/><path d="M80.9 191.0h0M110.6 233.5h0M33.9 180.7h0M42.4 190.5h0M47.5 194.7h0M70.3 180.2h0" stroke="#f0f921" stroke-width="3.20" stroke-linecap="round" fill="none"/>
</g>
<defs><linearGradient id="gplasma2" x1="0" y1="1" x2="0" y2="0"><stop offset="0" stop-color="#2c2a82"/><stop offset="0.2" stop-color="#5a2c92"/><stop offset="0.38" stop-color="#b03a96"/><stop offset="0.5" stop-color="#cc4a78"/><stop offset="0.62" stop-color="#e0655e"/><stop offset="0.75" stop-color="#eb8c48"/><stop offset="0.88" stop-color="#e8b83e"/><stop offset="1" stop-color="#e6f03c"/></linearGradient></defs>
<rect x="1286.0" y="2493.0" width="26.0" height="129.0" fill="url(#gplasma2)"/>
<text x="1298.0" y="2481.0" font-size="23" text-anchor="middle">High</text>
<text x="1298.0" y="2653.0" font-size="23" text-anchor="middle">Low</text>
</svg>
</body></html>
